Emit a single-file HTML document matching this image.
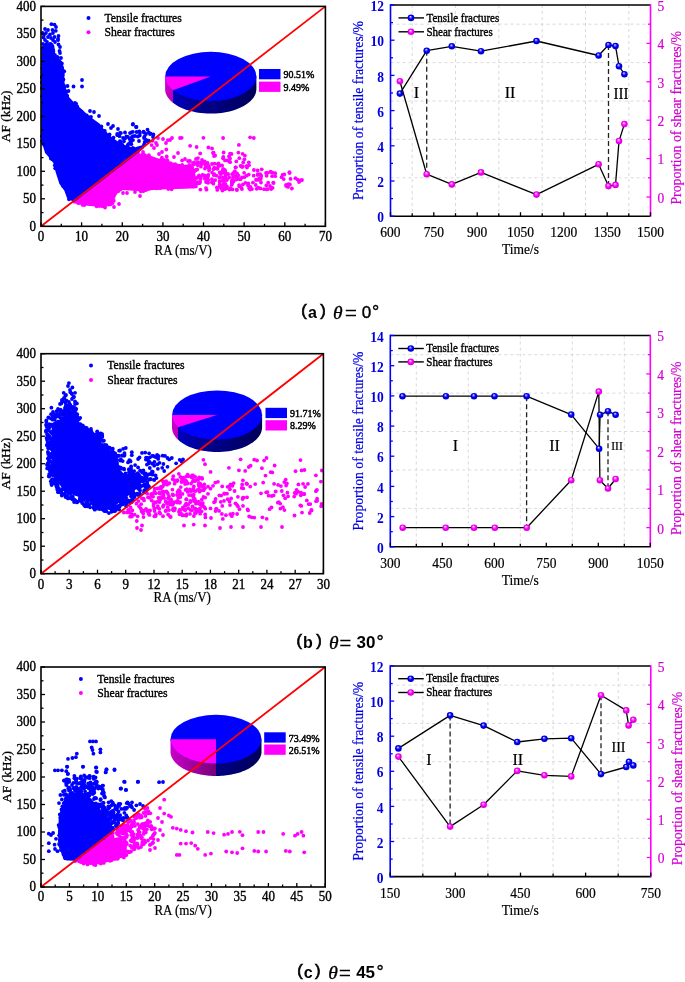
<!DOCTYPE html><html><head><meta charset="utf-8"><style>html,body{margin:0;padding:0;background:#fff;}body{width:685px;height:982px;overflow:hidden;} svg{display:block;will-change:transform;}</style></head><body><svg width="685" height="982" viewBox="0 0 685 982">
<defs>
<radialGradient id="ballb" cx="0.5" cy="0.5" r="0.5" fx="0.4" fy="0.3"><stop offset="0" stop-color="#ffffff"/><stop offset="0.25" stop-color="#7070ff"/><stop offset="0.55" stop-color="#0000ff"/><stop offset="1" stop-color="#0000c0"/></radialGradient>
<radialGradient id="ballm" cx="0.5" cy="0.5" r="0.5" fx="0.4" fy="0.3"><stop offset="0" stop-color="#ffffff"/><stop offset="0.25" stop-color="#ff80ff"/><stop offset="0.55" stop-color="#ff00ff"/><stop offset="1" stop-color="#d000d0"/></radialGradient>
<linearGradient id="pab" gradientUnits="userSpaceOnUse" x1="165.1" y1="0" x2="256.4" y2="0"><stop offset="0" stop-color="#0000c4"/><stop offset="0.45" stop-color="#000088"/><stop offset="1" stop-color="#00005a"/></linearGradient>
<linearGradient id="pam" gradientUnits="userSpaceOnUse" x1="165.1" y1="0" x2="210.8" y2="0"><stop offset="0" stop-color="#c800c8"/><stop offset="1" stop-color="#780078"/></linearGradient>
<linearGradient id="pbb" gradientUnits="userSpaceOnUse" x1="172" y1="0" x2="262.1" y2="0"><stop offset="0" stop-color="#0000c4"/><stop offset="0.45" stop-color="#000088"/><stop offset="1" stop-color="#00005a"/></linearGradient>
<linearGradient id="pbm" gradientUnits="userSpaceOnUse" x1="172" y1="0" x2="217.1" y2="0"><stop offset="0" stop-color="#c800c8"/><stop offset="1" stop-color="#780078"/></linearGradient>
<linearGradient id="pcb" gradientUnits="userSpaceOnUse" x1="170.5" y1="0" x2="261.5" y2="0"><stop offset="0" stop-color="#0000c4"/><stop offset="0.45" stop-color="#000088"/><stop offset="1" stop-color="#00005a"/></linearGradient>
<linearGradient id="pcm" gradientUnits="userSpaceOnUse" x1="170.5" y1="0" x2="216" y2="0"><stop offset="0" stop-color="#c800c8"/><stop offset="1" stop-color="#780078"/></linearGradient>
</defs>
<rect width="685" height="982" fill="#fff"/>
<polygon points="74,201.6 136,153.6 141,156.5 150,157.5 160,161 170,164 183,166.5 192,167 196,186.5 185,187 165,187.5 150,188.5 140,189.5 119,188 113,197 110.5,204.5 98.4,205 83.8,203.5 75,201.5" fill="#ff00ff" stroke="#ff00ff" stroke-width="3.6" stroke-linejoin="round"/>
<g fill="#ff00ff"><circle cx="155.8" cy="160.8" r="1.9"/><circle cx="144.9" cy="156.3" r="1.9"/><circle cx="144.1" cy="154.6" r="1.9"/><circle cx="160.9" cy="159.9" r="1.9"/><circle cx="164" cy="159.9" r="1.9"/><circle cx="153.1" cy="160.5" r="1.9"/><circle cx="169.6" cy="166.3" r="1.9"/><circle cx="145.1" cy="155.8" r="1.9"/><circle cx="146.7" cy="156.4" r="1.9"/><circle cx="180.9" cy="166.8" r="1.9"/><circle cx="172.7" cy="164.9" r="1.9"/><circle cx="142.2" cy="155.5" r="1.9"/><circle cx="175.1" cy="164.2" r="1.9"/><circle cx="170.3" cy="163.1" r="1.9"/><circle cx="182.2" cy="164.9" r="1.9"/><circle cx="170.1" cy="165.8" r="1.9"/><circle cx="176.9" cy="167.8" r="1.9"/><circle cx="146.7" cy="158.4" r="1.9"/><circle cx="148.9" cy="155.2" r="1.9"/><circle cx="176.1" cy="165.3" r="1.9"/><circle cx="184.6" cy="167.6" r="1.9"/><circle cx="171.4" cy="164" r="1.9"/><circle cx="185.8" cy="166.4" r="1.9"/><circle cx="172.5" cy="165.8" r="1.9"/><circle cx="176.1" cy="166.3" r="1.9"/><circle cx="155" cy="160.2" r="1.9"/><circle cx="142" cy="155" r="1.9"/><circle cx="145" cy="158.5" r="1.9"/><circle cx="146.5" cy="156.7" r="1.9"/><circle cx="183.3" cy="166.4" r="1.9"/><circle cx="120.4" cy="189.4" r="1.9"/><circle cx="90.3" cy="203.9" r="1.9"/><circle cx="143.3" cy="191.2" r="1.9"/><circle cx="165.5" cy="186.4" r="1.9"/><circle cx="156.8" cy="188.4" r="1.9"/><circle cx="151.3" cy="188" r="1.9"/><circle cx="140.8" cy="191.3" r="1.9"/><circle cx="111" cy="203.5" r="1.9"/><circle cx="109.7" cy="203" r="1.9"/><circle cx="102.7" cy="206.1" r="1.9"/><circle cx="137.3" cy="187.8" r="1.9"/><circle cx="111.5" cy="194.9" r="1.9"/><circle cx="158.5" cy="187.2" r="1.9"/><circle cx="176.7" cy="185.8" r="1.9"/><circle cx="172.2" cy="185.4" r="1.9"/><circle cx="90.4" cy="202.7" r="1.9"/><circle cx="154" cy="187.7" r="1.9"/><circle cx="171.6" cy="189.3" r="1.9"/><circle cx="128.8" cy="187" r="1.9"/><circle cx="172" cy="186.4" r="1.9"/><circle cx="94" cy="202.8" r="1.9"/><circle cx="80.9" cy="201.4" r="1.9"/><circle cx="117.7" cy="188.2" r="1.9"/><circle cx="79" cy="202.9" r="1.9"/><circle cx="153" cy="186.9" r="1.9"/><circle cx="102.3" cy="206" r="1.9"/><circle cx="144.2" cy="190.2" r="1.9"/><circle cx="78.2" cy="203.1" r="1.9"/><circle cx="97.6" cy="203.7" r="1.9"/><circle cx="122.1" cy="186.4" r="1.9"/><circle cx="180.7" cy="186.1" r="1.9"/><circle cx="112.7" cy="203.1" r="1.9"/><circle cx="84.4" cy="205" r="1.9"/><circle cx="140" cy="188.3" r="1.9"/><circle cx="160.1" cy="188.2" r="1.9"/><circle cx="88.2" cy="203.7" r="1.9"/><circle cx="113.6" cy="197.1" r="1.9"/><circle cx="113.8" cy="200.7" r="1.9"/><circle cx="104.8" cy="203.4" r="1.9"/><circle cx="99.5" cy="206.1" r="1.9"/><circle cx="77.9" cy="201.9" r="1.9"/><circle cx="82.2" cy="201.6" r="1.9"/><circle cx="168.3" cy="189" r="1.9"/><circle cx="96.6" cy="206.3" r="1.9"/><circle cx="77.9" cy="201.4" r="1.9"/><circle cx="117.5" cy="186.1" r="1.9"/><circle cx="79" cy="202.4" r="1.9"/><circle cx="82.5" cy="204.8" r="1.9"/><circle cx="94.5" cy="203.7" r="1.9"/><circle cx="148.6" cy="188.9" r="1.9"/><circle cx="153.4" cy="186.8" r="1.9"/><circle cx="85" cy="203.5" r="1.9"/><circle cx="118.3" cy="191.2" r="1.9"/><circle cx="84.7" cy="203.7" r="1.9"/><circle cx="120" cy="188" r="1.9"/><circle cx="218.4" cy="166" r="1.9"/><circle cx="206" cy="182" r="1.9"/><circle cx="209.1" cy="170.5" r="1.9"/><circle cx="207.7" cy="177.1" r="1.9"/><circle cx="217.8" cy="164.1" r="1.9"/><circle cx="209.3" cy="168.2" r="1.9"/><circle cx="198.5" cy="183.4" r="1.9"/><circle cx="207.3" cy="177.3" r="1.9"/><circle cx="216.9" cy="187.5" r="1.9"/><circle cx="204.8" cy="178.8" r="1.9"/><circle cx="207.2" cy="175.9" r="1.9"/><circle cx="214.3" cy="174.1" r="1.9"/><circle cx="208.3" cy="174.9" r="1.9"/><circle cx="223.8" cy="181.3" r="1.9"/><circle cx="221.3" cy="188.3" r="1.9"/><circle cx="197.9" cy="177.2" r="1.9"/><circle cx="223.8" cy="185.4" r="1.9"/><circle cx="193.2" cy="164.5" r="1.9"/><circle cx="204.8" cy="163.1" r="1.9"/><circle cx="197.1" cy="163.1" r="1.9"/><circle cx="213.4" cy="183.7" r="1.9"/><circle cx="222.1" cy="165.5" r="1.9"/><circle cx="215.2" cy="180.1" r="1.9"/><circle cx="193.4" cy="186.6" r="1.9"/><circle cx="224.2" cy="172.5" r="1.9"/><circle cx="206.5" cy="189.7" r="1.9"/><circle cx="219.6" cy="165.7" r="1.9"/><circle cx="204.4" cy="176" r="1.9"/><circle cx="200.9" cy="166.7" r="1.9"/><circle cx="200.1" cy="181.9" r="1.9"/><circle cx="188.7" cy="177.1" r="1.9"/><circle cx="204.7" cy="161.5" r="1.9"/><circle cx="200.6" cy="179.1" r="1.9"/><circle cx="207.5" cy="162.9" r="1.9"/><circle cx="225.4" cy="183.9" r="1.9"/><circle cx="198.1" cy="162.1" r="1.9"/><circle cx="217.6" cy="168.8" r="1.9"/><circle cx="192.9" cy="173.2" r="1.9"/><circle cx="222.6" cy="184.8" r="1.9"/><circle cx="197.8" cy="165.3" r="1.9"/><circle cx="222.9" cy="177.5" r="1.9"/><circle cx="214.6" cy="163.6" r="1.9"/><circle cx="190.2" cy="181" r="1.9"/><circle cx="204.2" cy="163.1" r="1.9"/><circle cx="223.7" cy="179.4" r="1.9"/><circle cx="218.5" cy="163.4" r="1.9"/><circle cx="220.8" cy="174.2" r="1.9"/><circle cx="200.9" cy="177" r="1.9"/><circle cx="223.2" cy="168.8" r="1.9"/><circle cx="192.9" cy="176.3" r="1.9"/><circle cx="197.1" cy="164.2" r="1.9"/><circle cx="194.1" cy="162.5" r="1.9"/><circle cx="195.7" cy="170" r="1.9"/><circle cx="199.6" cy="183" r="1.9"/><circle cx="199" cy="175.5" r="1.9"/><circle cx="194.8" cy="171.1" r="1.9"/><circle cx="188.7" cy="168.3" r="1.9"/><circle cx="188.6" cy="182.3" r="1.9"/><circle cx="208.9" cy="166.5" r="1.9"/><circle cx="206" cy="188.1" r="1.9"/><circle cx="192" cy="184.7" r="1.9"/><circle cx="204.4" cy="175.4" r="1.9"/><circle cx="219.7" cy="172.4" r="1.9"/><circle cx="207.3" cy="180.9" r="1.9"/><circle cx="225.3" cy="170.9" r="1.9"/><circle cx="219.6" cy="181.5" r="1.9"/><circle cx="212.2" cy="172.7" r="1.9"/><circle cx="201.2" cy="162.6" r="1.9"/><circle cx="192.9" cy="163.1" r="1.9"/><circle cx="216.2" cy="168.4" r="1.9"/><circle cx="194.2" cy="163.5" r="1.9"/><circle cx="220" cy="186.2" r="1.9"/><circle cx="213.5" cy="169.2" r="1.9"/><circle cx="197.2" cy="169.5" r="1.9"/><circle cx="205.5" cy="165.6" r="1.9"/><circle cx="204.9" cy="168.6" r="1.9"/><circle cx="224.5" cy="189.2" r="1.9"/><circle cx="208.8" cy="168.1" r="1.9"/><circle cx="224.7" cy="170" r="1.9"/><circle cx="202.5" cy="174.8" r="1.9"/><circle cx="207.1" cy="166.8" r="1.9"/><circle cx="198" cy="163.6" r="1.9"/><circle cx="203.2" cy="162.2" r="1.9"/><circle cx="188.9" cy="169.8" r="1.9"/><circle cx="196.8" cy="178" r="1.9"/><circle cx="208.1" cy="182.8" r="1.9"/><circle cx="213" cy="181.8" r="1.9"/><circle cx="221.4" cy="172.3" r="1.9"/><circle cx="200.4" cy="189.6" r="1.9"/><circle cx="193.7" cy="182" r="1.9"/><circle cx="219.7" cy="186.9" r="1.9"/><circle cx="211.8" cy="182.3" r="1.9"/><circle cx="218.9" cy="165" r="1.9"/><circle cx="207.9" cy="175.6" r="1.9"/><circle cx="219.7" cy="184.3" r="1.9"/><circle cx="219.4" cy="177.9" r="1.9"/><circle cx="221.9" cy="180.8" r="1.9"/><circle cx="214.3" cy="167.7" r="1.9"/><circle cx="189.2" cy="164.9" r="1.9"/><circle cx="201.7" cy="164" r="1.9"/><circle cx="219.8" cy="177.2" r="1.9"/><circle cx="211.9" cy="179.2" r="1.9"/><circle cx="213.9" cy="175.2" r="1.9"/><circle cx="188.1" cy="184.1" r="1.9"/><circle cx="216.4" cy="175.6" r="1.9"/><circle cx="208.3" cy="180.1" r="1.9"/><circle cx="190.5" cy="182.4" r="1.9"/><circle cx="197.6" cy="163.2" r="1.9"/><circle cx="198.1" cy="182.2" r="1.9"/><circle cx="195.8" cy="182.5" r="1.9"/><circle cx="259.1" cy="179.9" r="1.9"/><circle cx="236.5" cy="179.6" r="1.9"/><circle cx="248" cy="185.3" r="1.9"/><circle cx="245.4" cy="182.9" r="1.9"/><circle cx="224.9" cy="172.9" r="1.9"/><circle cx="231.6" cy="184.9" r="1.9"/><circle cx="233.6" cy="181.4" r="1.9"/><circle cx="222.5" cy="171.2" r="1.9"/><circle cx="232.2" cy="183.4" r="1.9"/><circle cx="248.3" cy="183.5" r="1.9"/><circle cx="233.1" cy="180.3" r="1.9"/><circle cx="239.7" cy="179.3" r="1.9"/><circle cx="226.5" cy="187.9" r="1.9"/><circle cx="229.6" cy="189.6" r="1.9"/><circle cx="257.6" cy="170.4" r="1.9"/><circle cx="239.4" cy="186.4" r="1.9"/><circle cx="258.8" cy="179" r="1.9"/><circle cx="232.2" cy="174.2" r="1.9"/><circle cx="257.9" cy="174.2" r="1.9"/><circle cx="244.1" cy="172.8" r="1.9"/><circle cx="241.9" cy="189.1" r="1.9"/><circle cx="227" cy="186.4" r="1.9"/><circle cx="241.3" cy="187.7" r="1.9"/><circle cx="248.7" cy="174.6" r="1.9"/><circle cx="256.1" cy="179.7" r="1.9"/><circle cx="222.9" cy="170.1" r="1.9"/><circle cx="240.7" cy="179" r="1.9"/><circle cx="233.5" cy="172.8" r="1.9"/><circle cx="235.1" cy="176.3" r="1.9"/><circle cx="253.9" cy="170" r="1.9"/><circle cx="250.5" cy="186.8" r="1.9"/><circle cx="226.6" cy="188.5" r="1.9"/><circle cx="249.1" cy="188" r="1.9"/><circle cx="233" cy="177.4" r="1.9"/><circle cx="236.9" cy="190" r="1.9"/><circle cx="244.4" cy="177.2" r="1.9"/><circle cx="238.3" cy="175.5" r="1.9"/><circle cx="223.8" cy="172" r="1.9"/><circle cx="253.7" cy="175.7" r="1.9"/><circle cx="257.6" cy="175" r="1.9"/><circle cx="232.1" cy="180.2" r="1.9"/><circle cx="229.2" cy="177.5" r="1.9"/><circle cx="258.3" cy="187.7" r="1.9"/><circle cx="252.9" cy="182.6" r="1.9"/><circle cx="256.7" cy="188.8" r="1.9"/><circle cx="242.9" cy="184.4" r="1.9"/><circle cx="223.9" cy="184.6" r="1.9"/><circle cx="239.1" cy="185.1" r="1.9"/><circle cx="246.5" cy="175.7" r="1.9"/><circle cx="223.9" cy="188.5" r="1.9"/><circle cx="226.8" cy="179.4" r="1.9"/><circle cx="235.1" cy="176" r="1.9"/><circle cx="250.1" cy="189.5" r="1.9"/><circle cx="231.9" cy="183.1" r="1.9"/><circle cx="233.4" cy="181.1" r="1.9"/><circle cx="237" cy="173.3" r="1.9"/><circle cx="228.1" cy="174.2" r="1.9"/><circle cx="256.4" cy="179.9" r="1.9"/><circle cx="230.4" cy="188.1" r="1.9"/><circle cx="259.9" cy="179" r="1.9"/><circle cx="227.3" cy="173.8" r="1.9"/><circle cx="225.4" cy="176.8" r="1.9"/><circle cx="225.5" cy="174.8" r="1.9"/><circle cx="231.8" cy="181.4" r="1.9"/><circle cx="255.7" cy="185" r="1.9"/><circle cx="237.7" cy="178.3" r="1.9"/><circle cx="241.9" cy="177.5" r="1.9"/><circle cx="234.9" cy="171.2" r="1.9"/><circle cx="232.5" cy="189.4" r="1.9"/><circle cx="226.8" cy="180.1" r="1.9"/><circle cx="240.6" cy="165.8" r="1.9"/><circle cx="229" cy="156.3" r="1.9"/><circle cx="230" cy="158.4" r="1.9"/><circle cx="235.5" cy="167.3" r="1.9"/><circle cx="246.8" cy="166" r="1.9"/><circle cx="223.6" cy="152.5" r="1.9"/><circle cx="242.9" cy="166.3" r="1.9"/><circle cx="236.3" cy="161.4" r="1.9"/><circle cx="223" cy="158.3" r="1.9"/><circle cx="249" cy="165.2" r="1.9"/><circle cx="247" cy="167.6" r="1.9"/><circle cx="230" cy="153.7" r="1.9"/><circle cx="227.3" cy="160.4" r="1.9"/><circle cx="242.1" cy="167.1" r="1.9"/><circle cx="243.2" cy="162.4" r="1.9"/><circle cx="244.4" cy="159.3" r="1.9"/><circle cx="238.4" cy="152.6" r="1.9"/><circle cx="244.9" cy="155.7" r="1.9"/><circle cx="248.8" cy="162.3" r="1.9"/><circle cx="231.5" cy="154" r="1.9"/><circle cx="230.1" cy="162.2" r="1.9"/><circle cx="242.6" cy="153.8" r="1.9"/><circle cx="225" cy="160.4" r="1.9"/><circle cx="239.3" cy="158.2" r="1.9"/><circle cx="229.3" cy="161.6" r="1.9"/><circle cx="223.3" cy="156.8" r="1.9"/><circle cx="235.9" cy="167.3" r="1.9"/><circle cx="241" cy="166.1" r="1.9"/><circle cx="275.2" cy="173.2" r="1.9"/><circle cx="267.9" cy="189.1" r="1.9"/><circle cx="282.5" cy="174.8" r="1.9"/><circle cx="260.7" cy="179" r="1.9"/><circle cx="281.6" cy="177.2" r="1.9"/><circle cx="268.2" cy="182.7" r="1.9"/><circle cx="289.6" cy="173" r="1.9"/><circle cx="261.1" cy="175.4" r="1.9"/><circle cx="273.5" cy="183" r="1.9"/><circle cx="266.3" cy="185.5" r="1.9"/><circle cx="283.7" cy="179.1" r="1.9"/><circle cx="266.6" cy="189.3" r="1.9"/><circle cx="270" cy="186" r="1.9"/><circle cx="267.4" cy="172.9" r="1.9"/><circle cx="284.3" cy="174.5" r="1.9"/><circle cx="290.5" cy="178.9" r="1.9"/><circle cx="266" cy="172.9" r="1.9"/><circle cx="273.3" cy="182.6" r="1.9"/><circle cx="272.6" cy="172.7" r="1.9"/><circle cx="261.7" cy="169.3" r="1.9"/><circle cx="272.6" cy="187.8" r="1.9"/><circle cx="288.3" cy="184.1" r="1.9"/><circle cx="291.9" cy="188.5" r="1.9"/><circle cx="270.5" cy="172.1" r="1.9"/><circle cx="289.9" cy="184.4" r="1.9"/><circle cx="261" cy="182.6" r="1.9"/><circle cx="272.1" cy="176.2" r="1.9"/><circle cx="270.6" cy="171.7" r="1.9"/><circle cx="260.1" cy="174.2" r="1.9"/><circle cx="271.2" cy="189" r="1.9"/><circle cx="264" cy="189.2" r="1.9"/><circle cx="266.6" cy="175.8" r="1.9"/><circle cx="286.3" cy="186.1" r="1.9"/><circle cx="275.2" cy="176.2" r="1.9"/><circle cx="289.4" cy="172.2" r="1.9"/><circle cx="271.7" cy="187.7" r="1.9"/><circle cx="261" cy="177" r="1.9"/><circle cx="286" cy="184.9" r="1.9"/><circle cx="152.6" cy="140.8" r="1.9"/><circle cx="166.7" cy="156.4" r="1.9"/><circle cx="208.4" cy="147.5" r="1.9"/><circle cx="167.7" cy="161.1" r="1.9"/><circle cx="190.1" cy="145.8" r="1.9"/><circle cx="196.6" cy="147" r="1.9"/><circle cx="167.9" cy="140.1" r="1.9"/><circle cx="151.6" cy="145.1" r="1.9"/><circle cx="212" cy="148.5" r="1.9"/><circle cx="166.3" cy="149.5" r="1.9"/><circle cx="182.1" cy="160.4" r="1.9"/><circle cx="161.9" cy="157.7" r="1.9"/><circle cx="198" cy="158.1" r="1.9"/><circle cx="200.2" cy="153.4" r="1.9"/><circle cx="223.1" cy="138" r="1.9"/><circle cx="250.1" cy="137.3" r="1.9"/><circle cx="253.8" cy="138" r="1.9"/><circle cx="238.9" cy="144.9" r="1.9"/><circle cx="213.6" cy="152.6" r="1.9"/><circle cx="215.1" cy="155.5" r="1.9"/><circle cx="181.7" cy="137.8" r="1.9"/><circle cx="203.4" cy="137.8" r="1.9"/><circle cx="297.6" cy="179.6" r="1.9"/><circle cx="300.5" cy="180.4" r="1.9"/><circle cx="295.4" cy="178.2" r="1.9"/><circle cx="299" cy="182" r="1.9"/><circle cx="302" cy="180" r="1.9"/><circle cx="288.1" cy="186.9" r="1.9"/><circle cx="222.4" cy="190.6" r="1.9"/><circle cx="217.3" cy="189.9" r="1.9"/><circle cx="236.7" cy="189.6" r="1.9"/><circle cx="252" cy="189.1" r="1.9"/><circle cx="260.4" cy="188.4" r="1.9"/><circle cx="123" cy="193" r="1.9"/><circle cx="127" cy="193" r="1.9"/><circle cx="135" cy="192" r="1.9"/><circle cx="140" cy="196" r="1.9"/><circle cx="146" cy="190" r="1.9"/><circle cx="142" cy="188" r="1.9"/><circle cx="114" cy="207" r="1.9"/><circle cx="119" cy="204" r="1.9"/><circle cx="105" cy="207.5" r="1.9"/><circle cx="158" cy="138" r="1.9"/><circle cx="163" cy="139" r="1.9"/><circle cx="170" cy="140" r="1.9"/><circle cx="172" cy="138" r="1.9"/><circle cx="180" cy="138" r="1.9"/><circle cx="156" cy="143" r="1.9"/><circle cx="166" cy="143" r="1.9"/><circle cx="154" cy="148" r="1.9"/><circle cx="162" cy="152" r="1.9"/><circle cx="178" cy="153" r="1.9"/><circle cx="174" cy="157" r="1.9"/><circle cx="185" cy="159" r="1.9"/><circle cx="188" cy="161" r="1.9"/><circle cx="190" cy="161" r="1.9"/><circle cx="213" cy="153" r="1.9"/><circle cx="214" cy="156" r="1.9"/><circle cx="167" cy="160" r="1.9"/><circle cx="159" cy="154" r="1.9"/><circle cx="157" cy="145" r="1.9"/><circle cx="143" cy="152" r="1.9"/><circle cx="138" cy="153" r="1.9"/><circle cx="196" cy="159" r="1.9"/><circle cx="202" cy="160" r="1.9"/><circle cx="208" cy="165" r="1.9"/><circle cx="212" cy="164" r="1.9"/><circle cx="194" cy="164" r="1.9"/></g>
<polygon points="43,50 47,46 51,44 52.5,46 53,52 53.5,56 57,59.5 60.5,62.5 62,68 62.5,75 63,89 66.5,97 72,103 80,110 88,117.5 97,124 103,131 110,138 118,144 126,147.5 134,149.5 142.5,147 74,200 68.5,197 66,190 61,183 57.5,172 55,162 46.5,151.5 43,140" fill="#0000ff" stroke="#0000ff" stroke-width="3.6" stroke-linejoin="round"/>
<g fill="#0000ff"><circle cx="62" cy="80.2" r="1.9"/><circle cx="103.6" cy="132.1" r="1.9"/><circle cx="101.1" cy="128.2" r="1.9"/><circle cx="46.9" cy="45.6" r="1.9"/><circle cx="132.6" cy="150.7" r="1.9"/><circle cx="60.6" cy="69.4" r="1.9"/><circle cx="73.8" cy="103.6" r="1.9"/><circle cx="61.2" cy="66.8" r="1.9"/><circle cx="94.5" cy="122.9" r="1.9"/><circle cx="90.8" cy="122" r="1.9"/><circle cx="62.8" cy="75" r="1.9"/><circle cx="99.4" cy="127.2" r="1.9"/><circle cx="60.6" cy="69.5" r="1.9"/><circle cx="81.5" cy="111.6" r="1.9"/><circle cx="132.9" cy="148.1" r="1.9"/><circle cx="108.7" cy="138.1" r="1.9"/><circle cx="52.7" cy="50.5" r="1.9"/><circle cx="113.5" cy="137.6" r="1.9"/><circle cx="61" cy="74.2" r="1.9"/><circle cx="130.3" cy="150.2" r="1.9"/><circle cx="64.4" cy="87.4" r="1.9"/><circle cx="63.3" cy="72" r="1.9"/><circle cx="53.2" cy="50.2" r="1.9"/><circle cx="60.3" cy="62.4" r="1.9"/><circle cx="59" cy="62.4" r="1.9"/><circle cx="89.5" cy="117.5" r="1.9"/><circle cx="63.4" cy="79.4" r="1.9"/><circle cx="61.4" cy="79.5" r="1.9"/><circle cx="77" cy="107.3" r="1.9"/><circle cx="64.1" cy="91.5" r="1.9"/><circle cx="51.3" cy="48.2" r="1.9"/><circle cx="63.9" cy="92.3" r="1.9"/><circle cx="126.2" cy="148" r="1.9"/><circle cx="62.5" cy="86.7" r="1.9"/><circle cx="132.9" cy="148.2" r="1.9"/><circle cx="98.4" cy="125.1" r="1.9"/><circle cx="119.3" cy="146" r="1.9"/><circle cx="66.1" cy="92.4" r="1.9"/><circle cx="53.3" cy="57.9" r="1.9"/><circle cx="91" cy="116.8" r="1.9"/><circle cx="86.6" cy="116.7" r="1.9"/><circle cx="52.6" cy="56" r="1.9"/><circle cx="121.4" cy="146.1" r="1.9"/><circle cx="109.6" cy="134.5" r="1.9"/><circle cx="54.9" cy="54.8" r="1.9"/><circle cx="69.4" cy="103.8" r="1.9"/><circle cx="65" cy="90.4" r="1.9"/><circle cx="108.5" cy="139" r="1.9"/><circle cx="60.7" cy="65.9" r="1.9"/><circle cx="109.2" cy="137.2" r="1.9"/><circle cx="64.2" cy="91.1" r="1.9"/><circle cx="52" cy="53.3" r="1.9"/><circle cx="117.2" cy="144.7" r="1.9"/><circle cx="100.7" cy="131.9" r="1.9"/><circle cx="53.4" cy="51.8" r="1.9"/><circle cx="86.9" cy="116.9" r="1.9"/><circle cx="82.3" cy="113.1" r="1.9"/><circle cx="67.2" cy="96.1" r="1.9"/><circle cx="86.7" cy="115.3" r="1.9"/><circle cx="104.3" cy="131.1" r="1.9"/><circle cx="57" cy="58" r="1.9"/><circle cx="52.9" cy="51.6" r="1.9"/><circle cx="67" cy="95.6" r="1.9"/><circle cx="87.1" cy="119" r="1.9"/><circle cx="104.8" cy="131" r="1.9"/><circle cx="73.1" cy="106.2" r="1.9"/><circle cx="54.7" cy="56.4" r="1.9"/><circle cx="101.3" cy="126.3" r="1.9"/><circle cx="131.2" cy="150.6" r="1.9"/><circle cx="120.3" cy="146.8" r="1.9"/><circle cx="122" cy="145.9" r="1.9"/><circle cx="101.1" cy="132" r="1.9"/><circle cx="63.6" cy="71.1" r="1.9"/><circle cx="75" cy="103" r="1.9"/><circle cx="62.2" cy="70" r="1.9"/><circle cx="45.8" cy="44.6" r="1.9"/><circle cx="125.3" cy="148.4" r="1.9"/><circle cx="57.1" cy="56.9" r="1.9"/><circle cx="77.2" cy="106.5" r="1.9"/><circle cx="116.1" cy="142.7" r="1.9"/><circle cx="115.5" cy="145.3" r="1.9"/><circle cx="87.5" cy="118.7" r="1.9"/><circle cx="64.2" cy="71.3" r="1.9"/><circle cx="63.9" cy="85.5" r="1.9"/><circle cx="57.8" cy="57.5" r="1.9"/><circle cx="108.4" cy="137.9" r="1.9"/><circle cx="132" cy="149.6" r="1.9"/><circle cx="60.6" cy="76.5" r="1.9"/><circle cx="54.3" cy="56" r="1.9"/><circle cx="76.2" cy="103.8" r="1.9"/><circle cx="61.9" cy="63.4" r="1.9"/><circle cx="42.7" cy="48.1" r="1.9"/><circle cx="61.8" cy="85.6" r="1.9"/><circle cx="82.2" cy="113.7" r="1.9"/><circle cx="68.9" cy="103" r="1.9"/><circle cx="60.5" cy="66.1" r="1.9"/><circle cx="90.5" cy="119.4" r="1.9"/><circle cx="63.3" cy="90" r="1.9"/><circle cx="90.1" cy="118.2" r="1.9"/><circle cx="89.7" cy="120.7" r="1.9"/><circle cx="99.2" cy="129.3" r="1.9"/><circle cx="48.2" cy="45.1" r="1.9"/><circle cx="59.9" cy="68" r="1.9"/><circle cx="44.6" cy="50.4" r="1.9"/><circle cx="52.2" cy="55.8" r="1.9"/><circle cx="74.5" cy="105.9" r="1.9"/><circle cx="55.8" cy="58.3" r="1.9"/><circle cx="50.2" cy="46.3" r="1.9"/><circle cx="96.4" cy="127" r="1.9"/><circle cx="101.2" cy="130" r="1.9"/><circle cx="42.1" cy="136.2" r="1.9"/><circle cx="55.2" cy="168.3" r="1.9"/><circle cx="43.6" cy="91.1" r="1.9"/><circle cx="42.3" cy="96.2" r="1.9"/><circle cx="43.9" cy="140.1" r="1.9"/><circle cx="55.9" cy="165.2" r="1.9"/><circle cx="58.5" cy="169.7" r="1.9"/><circle cx="54.8" cy="165.3" r="1.9"/><circle cx="43.8" cy="58.3" r="1.9"/><circle cx="42.5" cy="68.3" r="1.9"/><circle cx="43.4" cy="65.4" r="1.9"/><circle cx="44.5" cy="103.4" r="1.9"/><circle cx="43.6" cy="76.7" r="1.9"/><circle cx="43.7" cy="140.1" r="1.9"/><circle cx="50.9" cy="158.5" r="1.9"/><circle cx="67.7" cy="190.1" r="1.9"/><circle cx="69" cy="199.3" r="1.9"/><circle cx="47" cy="152" r="1.9"/><circle cx="69" cy="197.1" r="1.9"/><circle cx="43.8" cy="97" r="1.9"/><circle cx="42.6" cy="116.4" r="1.9"/><circle cx="44.3" cy="77.4" r="1.9"/><circle cx="44.3" cy="72.5" r="1.9"/><circle cx="63.1" cy="186" r="1.9"/><circle cx="70.3" cy="198.4" r="1.9"/><circle cx="44" cy="108.8" r="1.9"/><circle cx="52.6" cy="159.4" r="1.9"/><circle cx="42.1" cy="88.2" r="1.9"/><circle cx="42.1" cy="141.1" r="1.9"/><circle cx="55.1" cy="160.8" r="1.9"/><circle cx="52" cy="156.5" r="1.9"/><circle cx="43.4" cy="72.2" r="1.9"/><circle cx="43.9" cy="144.5" r="1.9"/><circle cx="48.6" cy="153.4" r="1.9"/><circle cx="58.5" cy="170" r="1.9"/><circle cx="41.9" cy="77.2" r="1.9"/><circle cx="58.8" cy="175" r="1.9"/><circle cx="73.4" cy="199.6" r="1.9"/><circle cx="42" cy="82.4" r="1.9"/><circle cx="49" cy="152.5" r="1.9"/><circle cx="51.4" cy="24.2" r="1.9"/><circle cx="54.5" cy="24.6" r="1.9"/><circle cx="52.5" cy="29.9" r="1.9"/><circle cx="55.8" cy="30.8" r="1.9"/><circle cx="54.5" cy="37" r="1.9"/><circle cx="44" cy="35.1" r="1.9"/><circle cx="46" cy="33" r="1.9"/><circle cx="43.5" cy="37.5" r="1.9"/><circle cx="50" cy="34.5" r="1.9"/><circle cx="58.5" cy="36" r="1.9"/><circle cx="58.5" cy="44.5" r="1.9"/><circle cx="59.5" cy="51" r="1.9"/><circle cx="60" cy="53" r="1.9"/><circle cx="59" cy="61" r="1.9"/><circle cx="61" cy="58" r="1.9"/><circle cx="62" cy="68" r="1.9"/><circle cx="58" cy="39" r="1.9"/><circle cx="60" cy="47" r="1.9"/><circle cx="48" cy="30" r="1.9"/><circle cx="45" cy="29" r="1.9"/><circle cx="56" cy="27" r="1.9"/><circle cx="53" cy="33" r="1.9"/><circle cx="58" cy="40" r="1.9"/><circle cx="45" cy="40" r="1.9"/><circle cx="51" cy="38" r="1.9"/><circle cx="43" cy="44" r="1.9"/><circle cx="47" cy="42" r="1.9"/><circle cx="50" cy="44" r="1.9"/><circle cx="53" cy="40" r="1.9"/><circle cx="55" cy="42" r="1.9"/><circle cx="44" cy="47" r="1.9"/><circle cx="48" cy="37" r="1.9"/><circle cx="42.5" cy="33" r="1.9"/><circle cx="67.5" cy="86" r="1.9"/><circle cx="73.5" cy="86.5" r="1.9"/><circle cx="82" cy="80" r="1.9"/><circle cx="82" cy="86.5" r="1.9"/><circle cx="68.5" cy="91" r="1.9"/><circle cx="90" cy="111" r="1.9"/><circle cx="94" cy="112" r="1.9"/><circle cx="99" cy="116" r="1.9"/><circle cx="108" cy="124" r="1.9"/><circle cx="111" cy="128" r="1.9"/><circle cx="120" cy="133" r="1.9"/><circle cx="123" cy="138" r="1.9"/><circle cx="132" cy="137" r="1.9"/><circle cx="135" cy="136" r="1.9"/><circle cx="133" cy="124" r="1.9"/><circle cx="136" cy="127" r="1.9"/><circle cx="132.8" cy="124.6" r="1.9"/><circle cx="136.5" cy="127" r="1.9"/><circle cx="147.5" cy="129.7" r="1.9"/><circle cx="140" cy="133" r="1.9"/><circle cx="144" cy="138" r="1.9"/><circle cx="148" cy="141" r="1.9"/><circle cx="128" cy="137" r="1.9"/><circle cx="118" cy="129" r="1.9"/><circle cx="113" cy="126" r="1.9"/><circle cx="150" cy="134" r="1.9"/><circle cx="153" cy="137" r="1.9"/><circle cx="146" cy="134" r="1.9"/><circle cx="139" cy="141" r="1.9"/><circle cx="131" cy="142" r="1.9"/><circle cx="153.4" cy="134.5" r="1.9"/><circle cx="119.9" cy="141.2" r="1.9"/><circle cx="132.9" cy="131.8" r="1.9"/><circle cx="139.3" cy="131.3" r="1.9"/><circle cx="146.2" cy="141.2" r="1.9"/><circle cx="146.2" cy="140" r="1.9"/><circle cx="126.4" cy="136.4" r="1.9"/><circle cx="128.2" cy="144.2" r="1.9"/><circle cx="122.1" cy="144.4" r="1.9"/><circle cx="133.1" cy="136.1" r="1.9"/><circle cx="150.7" cy="133.7" r="1.9"/><circle cx="131.2" cy="138.5" r="1.9"/><circle cx="144.7" cy="142" r="1.9"/><circle cx="139.7" cy="135.6" r="1.9"/><circle cx="125" cy="132.5" r="1.9"/><circle cx="148.8" cy="140.6" r="1.9"/><circle cx="144.1" cy="132.7" r="1.9"/><circle cx="130.2" cy="142.4" r="1.9"/><circle cx="136.6" cy="132" r="1.9"/><circle cx="131.3" cy="144.2" r="1.9"/><circle cx="120.9" cy="133.1" r="1.9"/><circle cx="123.9" cy="141.3" r="1.9"/><circle cx="148.8" cy="132.5" r="1.9"/><circle cx="117.2" cy="134" r="1.9"/><circle cx="125" cy="138.4" r="1.9"/><circle cx="117.4" cy="135.2" r="1.9"/><circle cx="143.5" cy="131.6" r="1.9"/><circle cx="127.7" cy="145.7" r="1.9"/><circle cx="146.6" cy="141.7" r="1.9"/><circle cx="130" cy="133.1" r="1.9"/><circle cx="139.3" cy="131.7" r="1.9"/><circle cx="119.5" cy="136.2" r="1.9"/><circle cx="146.4" cy="141.1" r="1.9"/><circle cx="133" cy="140.1" r="1.9"/><circle cx="131.3" cy="132.3" r="1.9"/><circle cx="137.8" cy="136.5" r="1.9"/><circle cx="144.1" cy="144.5" r="1.9"/><circle cx="129.8" cy="139.2" r="1.9"/><circle cx="144.5" cy="136.7" r="1.9"/><circle cx="120.5" cy="141.6" r="1.9"/></g>
<path d="M165.1,74.4 L165.1,74.8 L165.1,75.1 L165.1,75.5 L165.2,75.9 L165.2,76.2 L165.3,76.6 L165.3,77 L165.4,77.3 L165.5,77.7 L165.6,78.1 L165.7,78.4 L165.8,78.8 L166,79.1 L166.1,79.5 L166.2,79.9 L166.4,80.2 L166.6,80.6 L166.7,80.9 L166.9,81.3 L167.1,81.6 L167.3,82 L167.5,82.3 L167.8,82.7 L168,83 L168.2,83.4 L168.5,83.7 L168.7,84 L169,84.4 L169.3,84.7 L169.6,85 L169.9,85.4 L170.2,85.7 L170.5,86 L170.8,86.3 L171.2,86.7 L171.5,87 L171.9,87.3 L172.2,87.6 L172.6,87.9 L173,88.2 L173,102.8 L172.6,102.5 L172.2,102.2 L171.9,101.9 L171.5,101.6 L171.2,101.3 L170.8,100.9 L170.5,100.6 L170.2,100.3 L169.9,100 L169.6,99.6 L169.3,99.3 L169,99 L168.7,98.6 L168.5,98.3 L168.2,98 L168,97.6 L167.8,97.3 L167.5,96.9 L167.3,96.6 L167.1,96.2 L166.9,95.9 L166.7,95.5 L166.6,95.2 L166.4,94.8 L166.2,94.5 L166.1,94.1 L166,93.7 L165.8,93.4 L165.7,93 L165.6,92.7 L165.5,92.3 L165.4,91.9 L165.3,91.6 L165.3,91.2 L165.2,90.8 L165.2,90.5 L165.1,90.1 L165.1,89.7 L165.1,89.4 L165.1,89Z" fill="url(#pam)"/>
<path d="M173,88.2 L174.7,89.5 L176.5,90.7 L178.5,91.8 L180.6,92.9 L182.9,93.9 L185.2,94.8 L187.7,95.6 L190.3,96.4 L192.9,97 L195.6,97.6 L198.4,98.1 L201.2,98.5 L204.1,98.7 L206.9,98.9 L209.8,99 L212.7,99 L215.6,98.9 L218.5,98.6 L221.4,98.3 L224.2,97.9 L226.9,97.4 L229.6,96.8 L232.2,96.1 L234.7,95.3 L237.1,94.5 L239.5,93.5 L241.7,92.5 L243.7,91.4 L245.7,90.2 L247.5,89 L249.1,87.7 L250.6,86.4 L251.9,85 L253.1,83.6 L254.1,82.1 L254.9,80.6 L255.6,79.1 L256,77.5 L256.3,76 L256.4,74.4 L256.4,89 L256.3,90.6 L256,92.1 L255.6,93.7 L254.9,95.2 L254.1,96.7 L253.1,98.2 L251.9,99.6 L250.6,101 L249.1,102.3 L247.5,103.6 L245.7,104.8 L243.7,106 L241.7,107.1 L239.5,108.1 L237.1,109.1 L234.7,109.9 L232.2,110.7 L229.6,111.4 L226.9,112 L224.2,112.5 L221.4,112.9 L218.5,113.2 L215.6,113.5 L212.7,113.6 L209.8,113.6 L206.9,113.5 L204.1,113.3 L201.2,113.1 L198.4,112.7 L195.6,112.2 L192.9,111.6 L190.3,111 L187.7,110.2 L185.2,109.4 L182.9,108.5 L180.6,107.5 L178.5,106.4 L176.5,105.3 L174.7,104.1 L173,102.8Z" fill="url(#pab)"/>
<ellipse cx="210.8" cy="76.4" rx="45.6" ry="24.6" fill="#0000ff"/>
<path d="M210.8,76.4 L165.1,76.4 A45.6,24.6 0 0 0 173,90.2 Z" fill="#ff00ff"/>
<line x1="41" y1="226.3" x2="325.4" y2="6.4" stroke="#ff0000" stroke-width="1.8"/>
<rect x="259" y="69" width="21.5" height="10.3" fill="#0000ff"/>
<rect x="259" y="81.6" width="21.5" height="10.3" fill="#ff00ff"/>
<text x="283.5" y="78.3" font-size="10" text-anchor="start" font-weight="normal" fill="#000" font-family="'Liberation Serif', serif" stroke="#000" stroke-width="0.45" transform="matrix(1 0 0 1.1 0 -7.8)">90.51%</text>
<text x="283.5" y="90.9" font-size="10" text-anchor="start" font-weight="normal" fill="#000" font-family="'Liberation Serif', serif" stroke="#000" stroke-width="0.45" transform="matrix(1 0 0 1.1 0 -9.1)">9.49%</text>
<circle cx="88.5" cy="17.9" r="2" fill="#0000ff"/>
<circle cx="88.5" cy="32.2" r="2" fill="#ff00ff"/>
<text x="104.5" y="21.7" font-size="11.7" text-anchor="start" font-weight="normal" fill="#000" font-family="'Liberation Serif', serif" stroke="#000" stroke-width="0.35" transform="matrix(1 0 0 1.1 0 -2.2)">Tensile fractures</text>
<text x="104.5" y="36" font-size="11.7" text-anchor="start" font-weight="normal" fill="#000" font-family="'Liberation Serif', serif" stroke="#000" stroke-width="0.35" transform="matrix(1 0 0 1.1 0 -3.6)">Shear fractures</text>
<rect x="41" y="6.4" width="284.4" height="219.9" fill="none" stroke="#000" stroke-width="1.6"/>
<line x1="41" y1="226.3" x2="45" y2="226.3" stroke="#000" stroke-width="1.3"/>
<text x="36" y="230.7" font-size="13" text-anchor="end" font-weight="normal" fill="#000" font-family="'Liberation Serif', serif" stroke="#000" stroke-width="0.35" transform="matrix(1 0 0 1.1 0 -23.1)">0</text>
<line x1="41" y1="212.6" x2="43.5" y2="212.6" stroke="#000" stroke-width="1.3"/>
<line x1="41" y1="198.8" x2="45" y2="198.8" stroke="#000" stroke-width="1.3"/>
<text x="36" y="203.2" font-size="13" text-anchor="end" font-weight="normal" fill="#000" font-family="'Liberation Serif', serif" stroke="#000" stroke-width="0.35" transform="matrix(1 0 0 1.1 0 -20.3)">50</text>
<line x1="41" y1="185.1" x2="43.5" y2="185.1" stroke="#000" stroke-width="1.3"/>
<line x1="41" y1="171.3" x2="45" y2="171.3" stroke="#000" stroke-width="1.3"/>
<text x="36" y="175.7" font-size="13" text-anchor="end" font-weight="normal" fill="#000" font-family="'Liberation Serif', serif" stroke="#000" stroke-width="0.35" transform="matrix(1 0 0 1.1 0 -17.6)">100</text>
<line x1="41" y1="157.6" x2="43.5" y2="157.6" stroke="#000" stroke-width="1.3"/>
<line x1="41" y1="143.8" x2="45" y2="143.8" stroke="#000" stroke-width="1.3"/>
<text x="36" y="148.2" font-size="13" text-anchor="end" font-weight="normal" fill="#000" font-family="'Liberation Serif', serif" stroke="#000" stroke-width="0.35" transform="matrix(1 0 0 1.1 0 -14.8)">150</text>
<line x1="41" y1="130.1" x2="43.5" y2="130.1" stroke="#000" stroke-width="1.3"/>
<line x1="41" y1="116.4" x2="45" y2="116.4" stroke="#000" stroke-width="1.3"/>
<text x="36" y="120.8" font-size="13" text-anchor="end" font-weight="normal" fill="#000" font-family="'Liberation Serif', serif" stroke="#000" stroke-width="0.35" transform="matrix(1 0 0 1.1 0 -12.1)">200</text>
<line x1="41" y1="102.6" x2="43.5" y2="102.6" stroke="#000" stroke-width="1.3"/>
<line x1="41" y1="88.9" x2="45" y2="88.9" stroke="#000" stroke-width="1.3"/>
<text x="36" y="93.3" font-size="13" text-anchor="end" font-weight="normal" fill="#000" font-family="'Liberation Serif', serif" stroke="#000" stroke-width="0.35" transform="matrix(1 0 0 1.1 0 -9.3)">250</text>
<line x1="41" y1="75.1" x2="43.5" y2="75.1" stroke="#000" stroke-width="1.3"/>
<line x1="41" y1="61.4" x2="45" y2="61.4" stroke="#000" stroke-width="1.3"/>
<text x="36" y="65.8" font-size="13" text-anchor="end" font-weight="normal" fill="#000" font-family="'Liberation Serif', serif" stroke="#000" stroke-width="0.35" transform="matrix(1 0 0 1.1 0 -6.6)">300</text>
<line x1="41" y1="47.6" x2="43.5" y2="47.6" stroke="#000" stroke-width="1.3"/>
<line x1="41" y1="33.9" x2="45" y2="33.9" stroke="#000" stroke-width="1.3"/>
<text x="36" y="38.3" font-size="13" text-anchor="end" font-weight="normal" fill="#000" font-family="'Liberation Serif', serif" stroke="#000" stroke-width="0.35" transform="matrix(1 0 0 1.1 0 -3.8)">350</text>
<line x1="41" y1="20.1" x2="43.5" y2="20.1" stroke="#000" stroke-width="1.3"/>
<line x1="41" y1="6.4" x2="45" y2="6.4" stroke="#000" stroke-width="1.3"/>
<text x="36" y="10.8" font-size="13" text-anchor="end" font-weight="normal" fill="#000" font-family="'Liberation Serif', serif" stroke="#000" stroke-width="0.35" transform="matrix(1 0 0 1.1 0 -1.1)">400</text>
<line x1="41" y1="226.3" x2="41" y2="222.3" stroke="#000" stroke-width="1.3"/>
<text x="41" y="241.3" font-size="13" text-anchor="middle" font-weight="normal" fill="#000" font-family="'Liberation Serif', serif" stroke="#000" stroke-width="0.35" transform="matrix(1 0 0 1.1 0 -24.1)">0</text>
<line x1="61.3" y1="226.3" x2="61.3" y2="223.8" stroke="#000" stroke-width="1.3"/>
<line x1="81.6" y1="226.3" x2="81.6" y2="222.3" stroke="#000" stroke-width="1.3"/>
<text x="81.6" y="241.3" font-size="13" text-anchor="middle" font-weight="normal" fill="#000" font-family="'Liberation Serif', serif" stroke="#000" stroke-width="0.35" transform="matrix(1 0 0 1.1 0 -24.1)">10</text>
<line x1="101.9" y1="226.3" x2="101.9" y2="223.8" stroke="#000" stroke-width="1.3"/>
<line x1="122.3" y1="226.3" x2="122.3" y2="222.3" stroke="#000" stroke-width="1.3"/>
<text x="122.3" y="241.3" font-size="13" text-anchor="middle" font-weight="normal" fill="#000" font-family="'Liberation Serif', serif" stroke="#000" stroke-width="0.35" transform="matrix(1 0 0 1.1 0 -24.1)">20</text>
<line x1="142.6" y1="226.3" x2="142.6" y2="223.8" stroke="#000" stroke-width="1.3"/>
<line x1="162.9" y1="226.3" x2="162.9" y2="222.3" stroke="#000" stroke-width="1.3"/>
<text x="162.9" y="241.3" font-size="13" text-anchor="middle" font-weight="normal" fill="#000" font-family="'Liberation Serif', serif" stroke="#000" stroke-width="0.35" transform="matrix(1 0 0 1.1 0 -24.1)">30</text>
<line x1="183.2" y1="226.3" x2="183.2" y2="223.8" stroke="#000" stroke-width="1.3"/>
<line x1="203.5" y1="226.3" x2="203.5" y2="222.3" stroke="#000" stroke-width="1.3"/>
<text x="203.5" y="241.3" font-size="13" text-anchor="middle" font-weight="normal" fill="#000" font-family="'Liberation Serif', serif" stroke="#000" stroke-width="0.35" transform="matrix(1 0 0 1.1 0 -24.1)">40</text>
<line x1="223.8" y1="226.3" x2="223.8" y2="223.8" stroke="#000" stroke-width="1.3"/>
<line x1="244.1" y1="226.3" x2="244.1" y2="222.3" stroke="#000" stroke-width="1.3"/>
<text x="244.1" y="241.3" font-size="13" text-anchor="middle" font-weight="normal" fill="#000" font-family="'Liberation Serif', serif" stroke="#000" stroke-width="0.35" transform="matrix(1 0 0 1.1 0 -24.1)">50</text>
<line x1="264.5" y1="226.3" x2="264.5" y2="223.8" stroke="#000" stroke-width="1.3"/>
<line x1="284.8" y1="226.3" x2="284.8" y2="222.3" stroke="#000" stroke-width="1.3"/>
<text x="284.8" y="241.3" font-size="13" text-anchor="middle" font-weight="normal" fill="#000" font-family="'Liberation Serif', serif" stroke="#000" stroke-width="0.35" transform="matrix(1 0 0 1.1 0 -24.1)">60</text>
<line x1="305.1" y1="226.3" x2="305.1" y2="223.8" stroke="#000" stroke-width="1.3"/>
<line x1="325.4" y1="226.3" x2="325.4" y2="222.3" stroke="#000" stroke-width="1.3"/>
<text x="325.4" y="241.3" font-size="13" text-anchor="middle" font-weight="normal" fill="#000" font-family="'Liberation Serif', serif" stroke="#000" stroke-width="0.35" transform="matrix(1 0 0 1.1 0 -24.1)">70</text>
<text x="183.2" y="255.5" font-size="13" text-anchor="middle" font-weight="normal" fill="#000" font-family="'Liberation Serif', serif" stroke="#000" stroke-width="0.2" transform="matrix(1 0 0 1.1 0 -25.6)">RA (ms/V)</text>
<text x="10.5" y="116.4" font-size="13.4" text-anchor="middle" font-weight="normal" fill="#000" font-family="'Liberation Serif', serif" stroke="#000" stroke-width="0.3" transform="rotate(-90 10.5 116.4)">AF (kHz)</text>
<g fill="#ff00ff"><circle cx="194.6" cy="508.3" r="1.9"/><circle cx="178.9" cy="511.7" r="1.9"/><circle cx="177.1" cy="502.6" r="1.9"/><circle cx="157.5" cy="488.5" r="1.9"/><circle cx="172.7" cy="479.2" r="1.9"/><circle cx="154.5" cy="508.6" r="1.9"/><circle cx="180" cy="502.1" r="1.9"/><circle cx="157.6" cy="501.7" r="1.9"/><circle cx="153.6" cy="504" r="1.9"/><circle cx="198.9" cy="482.9" r="1.9"/><circle cx="174.9" cy="508.5" r="1.9"/><circle cx="151.8" cy="496.1" r="1.9"/><circle cx="165.3" cy="481.9" r="1.9"/><circle cx="186" cy="515.4" r="1.9"/><circle cx="168" cy="498.3" r="1.9"/><circle cx="180.4" cy="497" r="1.9"/><circle cx="173.6" cy="510.6" r="1.9"/><circle cx="163.4" cy="492.6" r="1.9"/><circle cx="200.5" cy="484" r="1.9"/><circle cx="177.5" cy="491.9" r="1.9"/><circle cx="184.4" cy="480.3" r="1.9"/><circle cx="203.6" cy="490.3" r="1.9"/><circle cx="154.4" cy="493.1" r="1.9"/><circle cx="178.7" cy="490.1" r="1.9"/><circle cx="182.5" cy="515.4" r="1.9"/><circle cx="163.9" cy="484.4" r="1.9"/><circle cx="187.7" cy="491.9" r="1.9"/><circle cx="185.6" cy="509.8" r="1.9"/><circle cx="173.2" cy="495.2" r="1.9"/><circle cx="166.9" cy="484.7" r="1.9"/><circle cx="201.9" cy="490.2" r="1.9"/><circle cx="173.6" cy="510.2" r="1.9"/><circle cx="189" cy="495.1" r="1.9"/><circle cx="143.6" cy="498.6" r="1.9"/><circle cx="128.9" cy="510.9" r="1.9"/><circle cx="148.9" cy="511.6" r="1.9"/><circle cx="180.8" cy="487.1" r="1.9"/><circle cx="159.7" cy="493.4" r="1.9"/><circle cx="173.4" cy="503.3" r="1.9"/><circle cx="149.5" cy="514.9" r="1.9"/><circle cx="192.3" cy="477.5" r="1.9"/><circle cx="190" cy="513.9" r="1.9"/><circle cx="186.2" cy="481" r="1.9"/><circle cx="190.3" cy="502.2" r="1.9"/><circle cx="200.8" cy="503.2" r="1.9"/><circle cx="185.5" cy="489.9" r="1.9"/><circle cx="131.3" cy="513.9" r="1.9"/><circle cx="186.9" cy="482.2" r="1.9"/><circle cx="195.5" cy="501.2" r="1.9"/><circle cx="186" cy="503.7" r="1.9"/><circle cx="195.8" cy="508.9" r="1.9"/><circle cx="191" cy="483.5" r="1.9"/><circle cx="178.3" cy="497.8" r="1.9"/><circle cx="182.5" cy="493.9" r="1.9"/><circle cx="194.8" cy="498.9" r="1.9"/><circle cx="161.3" cy="498.2" r="1.9"/><circle cx="193.1" cy="475.3" r="1.9"/><circle cx="191.1" cy="495.1" r="1.9"/><circle cx="166.9" cy="503.6" r="1.9"/><circle cx="191.1" cy="491.1" r="1.9"/><circle cx="154.4" cy="516.3" r="1.9"/><circle cx="173.3" cy="476.2" r="1.9"/><circle cx="171" cy="504.4" r="1.9"/><circle cx="199" cy="489.2" r="1.9"/><circle cx="203.4" cy="497" r="1.9"/><circle cx="160.2" cy="513.6" r="1.9"/><circle cx="172.4" cy="489.6" r="1.9"/><circle cx="193" cy="490.7" r="1.9"/><circle cx="159.3" cy="497.6" r="1.9"/><circle cx="185" cy="484.1" r="1.9"/><circle cx="155.9" cy="493.2" r="1.9"/><circle cx="166.2" cy="510.5" r="1.9"/><circle cx="143.5" cy="510.6" r="1.9"/><circle cx="153.1" cy="496.7" r="1.9"/><circle cx="202.8" cy="503.1" r="1.9"/><circle cx="186.9" cy="489.2" r="1.9"/><circle cx="169" cy="502.3" r="1.9"/><circle cx="186.2" cy="476.7" r="1.9"/><circle cx="180.9" cy="513.1" r="1.9"/><circle cx="134.5" cy="514.6" r="1.9"/><circle cx="171" cy="503.3" r="1.9"/><circle cx="186.6" cy="514.1" r="1.9"/><circle cx="171.2" cy="501.5" r="1.9"/><circle cx="172.5" cy="504.9" r="1.9"/><circle cx="169.9" cy="504.3" r="1.9"/><circle cx="136.5" cy="503.7" r="1.9"/><circle cx="157.8" cy="507.8" r="1.9"/><circle cx="197.5" cy="503.2" r="1.9"/><circle cx="150.1" cy="510.4" r="1.9"/><circle cx="186.4" cy="499.2" r="1.9"/><circle cx="154.7" cy="488.7" r="1.9"/><circle cx="155.5" cy="502.6" r="1.9"/><circle cx="199.2" cy="477.3" r="1.9"/><circle cx="128.3" cy="509.8" r="1.9"/><circle cx="168.1" cy="514.5" r="1.9"/><circle cx="151.7" cy="500.5" r="1.9"/><circle cx="159.4" cy="492.7" r="1.9"/><circle cx="177.5" cy="480.2" r="1.9"/><circle cx="202.1" cy="478.8" r="1.9"/><circle cx="193.7" cy="480.5" r="1.9"/><circle cx="139.1" cy="506.5" r="1.9"/><circle cx="185.3" cy="505.7" r="1.9"/><circle cx="192.4" cy="506.4" r="1.9"/><circle cx="179.7" cy="494.8" r="1.9"/><circle cx="199.1" cy="485.9" r="1.9"/><circle cx="201.9" cy="505.8" r="1.9"/><circle cx="174.6" cy="510.1" r="1.9"/><circle cx="181.5" cy="482.1" r="1.9"/><circle cx="192.9" cy="495.9" r="1.9"/><circle cx="168" cy="493.9" r="1.9"/><circle cx="176.9" cy="481.2" r="1.9"/><circle cx="187.4" cy="490.6" r="1.9"/><circle cx="174.1" cy="502.1" r="1.9"/><circle cx="154.4" cy="491.6" r="1.9"/><circle cx="186.4" cy="515.6" r="1.9"/><circle cx="186.3" cy="499.4" r="1.9"/><circle cx="202.7" cy="505.2" r="1.9"/><circle cx="190" cy="489.3" r="1.9"/><circle cx="170.7" cy="517" r="1.9"/><circle cx="190.3" cy="500.8" r="1.9"/><circle cx="195.3" cy="491.2" r="1.9"/><circle cx="177.6" cy="500.9" r="1.9"/><circle cx="196" cy="509.7" r="1.9"/><circle cx="169" cy="510.1" r="1.9"/><circle cx="195.2" cy="476.8" r="1.9"/><circle cx="190.5" cy="509.9" r="1.9"/><circle cx="193.4" cy="499.6" r="1.9"/><circle cx="141.8" cy="511.6" r="1.9"/><circle cx="188.2" cy="504.4" r="1.9"/><circle cx="197.5" cy="489.9" r="1.9"/><circle cx="187.4" cy="483.6" r="1.9"/><circle cx="183.3" cy="515.1" r="1.9"/><circle cx="138.4" cy="501.1" r="1.9"/><circle cx="177" cy="495" r="1.9"/><circle cx="183.3" cy="509" r="1.9"/><circle cx="188.2" cy="508.2" r="1.9"/><circle cx="196" cy="513.1" r="1.9"/><circle cx="163.4" cy="495.5" r="1.9"/><circle cx="169.3" cy="483.1" r="1.9"/><circle cx="179" cy="490.6" r="1.9"/><circle cx="167.1" cy="492.3" r="1.9"/><circle cx="163" cy="481.4" r="1.9"/><circle cx="173" cy="508.9" r="1.9"/><circle cx="148" cy="497.3" r="1.9"/><circle cx="160.3" cy="499.4" r="1.9"/><circle cx="140.8" cy="508.5" r="1.9"/><circle cx="155.1" cy="515.7" r="1.9"/><circle cx="184.8" cy="510.2" r="1.9"/><circle cx="201.8" cy="485.9" r="1.9"/><circle cx="193.7" cy="494.7" r="1.9"/><circle cx="201.5" cy="486.1" r="1.9"/><circle cx="167.1" cy="502.5" r="1.9"/><circle cx="201.2" cy="503.8" r="1.9"/><circle cx="152.2" cy="494.3" r="1.9"/><circle cx="131.9" cy="516.5" r="1.9"/><circle cx="204.3" cy="484.5" r="1.9"/><circle cx="148.6" cy="513.8" r="1.9"/><circle cx="196.7" cy="511" r="1.9"/><circle cx="179.7" cy="502.8" r="1.9"/><circle cx="130.6" cy="507.5" r="1.9"/><circle cx="199.7" cy="504.1" r="1.9"/><circle cx="144" cy="500.4" r="1.9"/><circle cx="183.9" cy="479.5" r="1.9"/><circle cx="198.7" cy="484.5" r="1.9"/><circle cx="195.3" cy="481" r="1.9"/><circle cx="198.8" cy="511.2" r="1.9"/><circle cx="172.7" cy="494.5" r="1.9"/><circle cx="147.6" cy="510.4" r="1.9"/><circle cx="159.5" cy="502" r="1.9"/><circle cx="166.1" cy="481.2" r="1.9"/><circle cx="193.8" cy="486.5" r="1.9"/><circle cx="141.6" cy="511.1" r="1.9"/><circle cx="160.7" cy="488.7" r="1.9"/><circle cx="196.6" cy="479.9" r="1.9"/><circle cx="195.9" cy="503.7" r="1.9"/><circle cx="198.5" cy="479.2" r="1.9"/><circle cx="143.2" cy="513.5" r="1.9"/><circle cx="143.5" cy="517.1" r="1.9"/><circle cx="163.8" cy="483" r="1.9"/><circle cx="155.9" cy="514.2" r="1.9"/><circle cx="185" cy="505.6" r="1.9"/><circle cx="161.1" cy="486.8" r="1.9"/><circle cx="179.6" cy="509.9" r="1.9"/><circle cx="168.7" cy="483.7" r="1.9"/><circle cx="153.5" cy="506" r="1.9"/><circle cx="147.2" cy="511.2" r="1.9"/><circle cx="193.2" cy="496.2" r="1.9"/><circle cx="159.5" cy="512.5" r="1.9"/><circle cx="190.4" cy="490.8" r="1.9"/><circle cx="163.2" cy="494.2" r="1.9"/><circle cx="180.2" cy="510.1" r="1.9"/><circle cx="193.3" cy="488.8" r="1.9"/><circle cx="179.9" cy="491.4" r="1.9"/><circle cx="183.4" cy="477.6" r="1.9"/><circle cx="193.9" cy="516" r="1.9"/><circle cx="161" cy="497.1" r="1.9"/><circle cx="164.2" cy="498.1" r="1.9"/><circle cx="189.1" cy="476.3" r="1.9"/><circle cx="170.1" cy="499.8" r="1.9"/><circle cx="163.5" cy="505.2" r="1.9"/><circle cx="126.9" cy="512.4" r="1.9"/><circle cx="180.4" cy="476.9" r="1.9"/><circle cx="161.6" cy="487" r="1.9"/><circle cx="192.9" cy="481.3" r="1.9"/><circle cx="167.8" cy="507.1" r="1.9"/><circle cx="132.3" cy="510.5" r="1.9"/><circle cx="199.6" cy="491.7" r="1.9"/><circle cx="154.6" cy="511.1" r="1.9"/><circle cx="163.7" cy="492" r="1.9"/><circle cx="199.9" cy="508.4" r="1.9"/><circle cx="147.2" cy="493.7" r="1.9"/><circle cx="197.4" cy="510" r="1.9"/><circle cx="191.7" cy="477.3" r="1.9"/><circle cx="163" cy="516.2" r="1.9"/><circle cx="199.3" cy="485.7" r="1.9"/><circle cx="154.7" cy="502.2" r="1.9"/><circle cx="149.7" cy="497.8" r="1.9"/><circle cx="130.1" cy="516.7" r="1.9"/><circle cx="185.6" cy="515.3" r="1.9"/><circle cx="173.1" cy="509.8" r="1.9"/><circle cx="194.9" cy="513" r="1.9"/><circle cx="141.1" cy="504.2" r="1.9"/><circle cx="141.8" cy="498.3" r="1.9"/><circle cx="198.4" cy="501.7" r="1.9"/><circle cx="155.7" cy="515.9" r="1.9"/><circle cx="174.3" cy="480.2" r="1.9"/><circle cx="169.7" cy="516.1" r="1.9"/><circle cx="162.7" cy="486.5" r="1.9"/><circle cx="158.6" cy="498" r="1.9"/><circle cx="165.5" cy="511.1" r="1.9"/><circle cx="171.1" cy="499.5" r="1.9"/><circle cx="174.6" cy="483.7" r="1.9"/><circle cx="179.8" cy="494.8" r="1.9"/><circle cx="165.7" cy="501.4" r="1.9"/><circle cx="158.8" cy="488.4" r="1.9"/><circle cx="162.6" cy="491.5" r="1.9"/><circle cx="148.7" cy="512.1" r="1.9"/><circle cx="160.8" cy="487.2" r="1.9"/><circle cx="203.9" cy="487.7" r="1.9"/><circle cx="185.2" cy="481.8" r="1.9"/><circle cx="123.8" cy="512.5" r="1.9"/><circle cx="151.7" cy="493.9" r="1.9"/><circle cx="182" cy="479.7" r="1.9"/><circle cx="137.6" cy="516.3" r="1.9"/><circle cx="182.3" cy="481.6" r="1.9"/><circle cx="176.8" cy="501.5" r="1.9"/><circle cx="191.9" cy="510.3" r="1.9"/><circle cx="163" cy="506.8" r="1.9"/><circle cx="182.7" cy="507.7" r="1.9"/><circle cx="159.3" cy="508.8" r="1.9"/><circle cx="179.6" cy="514.3" r="1.9"/><circle cx="129.1" cy="512.4" r="1.9"/><circle cx="169" cy="496.4" r="1.9"/><circle cx="201.8" cy="499.6" r="1.9"/><circle cx="154.4" cy="508.7" r="1.9"/><circle cx="193.9" cy="501.1" r="1.9"/><circle cx="151" cy="494.4" r="1.9"/><circle cx="157.8" cy="506.1" r="1.9"/><circle cx="166.3" cy="491.5" r="1.9"/><circle cx="146" cy="508.8" r="1.9"/><circle cx="304.4" cy="470" r="1.9"/><circle cx="257" cy="460.5" r="1.9"/><circle cx="240.6" cy="459.3" r="1.9"/><circle cx="272.3" cy="472.4" r="1.9"/><circle cx="215.3" cy="482.6" r="1.9"/><circle cx="242.9" cy="480.3" r="1.9"/><circle cx="303.1" cy="483.8" r="1.9"/><circle cx="228.9" cy="467.8" r="1.9"/><circle cx="210.6" cy="471.9" r="1.9"/><circle cx="263.2" cy="482.6" r="1.9"/><circle cx="295.5" cy="471.2" r="1.9"/><circle cx="321.8" cy="470.5" r="1.9"/><circle cx="265.5" cy="475.6" r="1.9"/><circle cx="250.6" cy="465.7" r="1.9"/><circle cx="274.6" cy="465.5" r="1.9"/><circle cx="315.9" cy="475.3" r="1.9"/><circle cx="266.5" cy="458" r="1.9"/><circle cx="248.8" cy="467" r="1.9"/><circle cx="270.7" cy="472.2" r="1.9"/><circle cx="307.9" cy="483.9" r="1.9"/><circle cx="261.9" cy="468.2" r="1.9"/><circle cx="278.1" cy="484.9" r="1.9"/><circle cx="245.2" cy="470.9" r="1.9"/><circle cx="300.5" cy="460.1" r="1.9"/><circle cx="242.2" cy="484.4" r="1.9"/><circle cx="301.6" cy="470.4" r="1.9"/><circle cx="217.9" cy="481.8" r="1.9"/><circle cx="285.7" cy="479.6" r="1.9"/><circle cx="320.9" cy="481.6" r="1.9"/><circle cx="254.2" cy="459.7" r="1.9"/><circle cx="238.9" cy="470.3" r="1.9"/><circle cx="264.1" cy="460.6" r="1.9"/><circle cx="222.3" cy="505.9" r="1.9"/><circle cx="273.6" cy="495.4" r="1.9"/><circle cx="321.2" cy="506.2" r="1.9"/><circle cx="205.2" cy="497.6" r="1.9"/><circle cx="296.1" cy="493.7" r="1.9"/><circle cx="284.3" cy="482.1" r="1.9"/><circle cx="237.1" cy="514" r="1.9"/><circle cx="271.5" cy="507.4" r="1.9"/><circle cx="224" cy="500.9" r="1.9"/><circle cx="267.5" cy="492.1" r="1.9"/><circle cx="278.9" cy="502.2" r="1.9"/><circle cx="321.6" cy="503.8" r="1.9"/><circle cx="250.2" cy="486.6" r="1.9"/><circle cx="219.1" cy="510.9" r="1.9"/><circle cx="213" cy="485.8" r="1.9"/><circle cx="220.8" cy="501.9" r="1.9"/><circle cx="300.4" cy="505.3" r="1.9"/><circle cx="298.4" cy="484.4" r="1.9"/><circle cx="201.5" cy="511.3" r="1.9"/><circle cx="239.4" cy="509.2" r="1.9"/><circle cx="243.2" cy="488.4" r="1.9"/><circle cx="232.5" cy="485.8" r="1.9"/><circle cx="310.3" cy="504.1" r="1.9"/><circle cx="242.6" cy="499.1" r="1.9"/><circle cx="247.1" cy="484.1" r="1.9"/><circle cx="308.6" cy="504.1" r="1.9"/><circle cx="317.1" cy="498.7" r="1.9"/><circle cx="275.7" cy="491.5" r="1.9"/><circle cx="205.4" cy="517.4" r="1.9"/><circle cx="304.3" cy="494" r="1.9"/><circle cx="309.7" cy="513" r="1.9"/><circle cx="237" cy="504.9" r="1.9"/><circle cx="317.1" cy="500.8" r="1.9"/><circle cx="315.9" cy="491.2" r="1.9"/><circle cx="247.6" cy="509.3" r="1.9"/><circle cx="227" cy="493.7" r="1.9"/><circle cx="306.8" cy="500.4" r="1.9"/><circle cx="296.7" cy="491.2" r="1.9"/><circle cx="221.2" cy="495.6" r="1.9"/><circle cx="222.8" cy="518.9" r="1.9"/><circle cx="235.5" cy="503.3" r="1.9"/><circle cx="214" cy="502.3" r="1.9"/><circle cx="247" cy="497.3" r="1.9"/><circle cx="208" cy="486.7" r="1.9"/><circle cx="300.8" cy="495.3" r="1.9"/><circle cx="229.9" cy="489.3" r="1.9"/><circle cx="234.6" cy="491" r="1.9"/><circle cx="204.3" cy="507.2" r="1.9"/><circle cx="241.7" cy="487.9" r="1.9"/><circle cx="286.1" cy="485.5" r="1.9"/><circle cx="232.9" cy="513.7" r="1.9"/><circle cx="215.6" cy="498.8" r="1.9"/><circle cx="302" cy="512.6" r="1.9"/><circle cx="219.4" cy="495.4" r="1.9"/><circle cx="288.1" cy="496.3" r="1.9"/><circle cx="316.9" cy="489.9" r="1.9"/><circle cx="316" cy="501.2" r="1.9"/><circle cx="227.7" cy="499.2" r="1.9"/><circle cx="216" cy="508.8" r="1.9"/><circle cx="231.8" cy="516.2" r="1.9"/><circle cx="271.7" cy="496" r="1.9"/><circle cx="230" cy="505.1" r="1.9"/><circle cx="225.9" cy="515.2" r="1.9"/><circle cx="215" cy="501.5" r="1.9"/><circle cx="266.2" cy="492.3" r="1.9"/><circle cx="294.2" cy="496.6" r="1.9"/><circle cx="280.2" cy="503.6" r="1.9"/><circle cx="237.9" cy="496.8" r="1.9"/><circle cx="210.5" cy="488.7" r="1.9"/><circle cx="303.8" cy="494.2" r="1.9"/><circle cx="280.9" cy="486.1" r="1.9"/><circle cx="268.6" cy="495.7" r="1.9"/><circle cx="261" cy="493.3" r="1.9"/><circle cx="208" cy="493.8" r="1.9"/><circle cx="227.6" cy="486.8" r="1.9"/><circle cx="287.4" cy="492.7" r="1.9"/><circle cx="249.2" cy="516.5" r="1.9"/><circle cx="294.5" cy="515.5" r="1.9"/><circle cx="305.1" cy="487" r="1.9"/><circle cx="233.7" cy="483.1" r="1.9"/><circle cx="282.9" cy="507.2" r="1.9"/><circle cx="242.9" cy="497.7" r="1.9"/><circle cx="280.4" cy="508.6" r="1.9"/><circle cx="230.3" cy="514.2" r="1.9"/><circle cx="243" cy="505.9" r="1.9"/><circle cx="222.2" cy="486.4" r="1.9"/><circle cx="311.3" cy="509.9" r="1.9"/><circle cx="286.9" cy="483.5" r="1.9"/><circle cx="204.9" cy="488.2" r="1.9"/><circle cx="224.2" cy="493.5" r="1.9"/><circle cx="246.5" cy="483.5" r="1.9"/><circle cx="237.9" cy="506.3" r="1.9"/><circle cx="221.9" cy="513.9" r="1.9"/><circle cx="269.6" cy="509.2" r="1.9"/><circle cx="231.1" cy="498.5" r="1.9"/><circle cx="283.5" cy="495.3" r="1.9"/><circle cx="200.1" cy="513.7" r="1.9"/><circle cx="294.7" cy="492.9" r="1.9"/><circle cx="205.2" cy="514.5" r="1.9"/><circle cx="274.1" cy="483.8" r="1.9"/><circle cx="229.8" cy="486.2" r="1.9"/><circle cx="296.6" cy="490" r="1.9"/><circle cx="311.6" cy="510.5" r="1.9"/><circle cx="210.5" cy="508.4" r="1.9"/><circle cx="248" cy="510.4" r="1.9"/><circle cx="301.1" cy="492.7" r="1.9"/><circle cx="211" cy="518" r="1.9"/><circle cx="251.7" cy="517.3" r="1.9"/><circle cx="284.4" cy="510.1" r="1.9"/><circle cx="301.3" cy="505.9" r="1.9"/><circle cx="255.2" cy="484.1" r="1.9"/><circle cx="285.2" cy="498.3" r="1.9"/><circle cx="262.4" cy="517.3" r="1.9"/><circle cx="215.6" cy="511" r="1.9"/><circle cx="205.3" cy="508.7" r="1.9"/><circle cx="298.3" cy="491.9" r="1.9"/><circle cx="266.7" cy="518.8" r="1.9"/><circle cx="277.8" cy="502.7" r="1.9"/><circle cx="230.5" cy="484.3" r="1.9"/><circle cx="243.7" cy="497.6" r="1.9"/><circle cx="224.6" cy="493.8" r="1.9"/><circle cx="216.7" cy="508.9" r="1.9"/><circle cx="281.8" cy="491" r="1.9"/><circle cx="229.5" cy="501.6" r="1.9"/><circle cx="254.3" cy="517.6" r="1.9"/><circle cx="136.8" cy="521" r="1.9"/><circle cx="142" cy="525.5" r="1.9"/><circle cx="184" cy="525.5" r="1.9"/><circle cx="193.7" cy="524.6" r="1.9"/><circle cx="205" cy="525.5" r="1.9"/><circle cx="137" cy="528" r="1.9"/><circle cx="141" cy="530" r="1.9"/><circle cx="220" cy="528" r="1.9"/><circle cx="231" cy="527" r="1.9"/><circle cx="243" cy="527" r="1.9"/><circle cx="261" cy="527" r="1.9"/><circle cx="282" cy="527" r="1.9"/><circle cx="178.8" cy="473.8" r="1.9"/><circle cx="187.6" cy="474.7" r="1.9"/><circle cx="192" cy="475.5" r="1.9"/><circle cx="203.4" cy="459.8" r="1.9"/><circle cx="205" cy="464.2" r="1.9"/><circle cx="202" cy="478" r="1.9"/></g>
<polygon points="52.8,425.1 54.9,422.5 57.5,420.7 60.9,420.7 65.2,416.3 68.7,413.7 72.1,411.9 74.7,412.8 76.4,416.3 77.7,420.7 79.9,426 85,431.3 91,433.9 97.5,436.5 100.1,442.7 101.8,448 107.8,449.7 110.8,458.5 112.5,467.3 122.9,473.9 129.7,477.9 137.5,477.9 139.2,485.4 109.6,509 104.8,506.9 99.6,503.4 89.8,500.8 82.4,497.7 73.4,493.7 65.2,491.5 62.2,486.3 56.6,478.8 54.5,471.7 52.8,457.2 52.3,441.8" fill="#0000ff" stroke="#0000ff" stroke-width="2" stroke-linejoin="round"/>
<g fill="#0000ff"><circle cx="82.5" cy="439" r="1.9"/><circle cx="114.3" cy="472.1" r="1.9"/><circle cx="93.6" cy="490.5" r="1.9"/><circle cx="76.2" cy="445.8" r="1.9"/><circle cx="67.8" cy="412.7" r="1.9"/><circle cx="75.4" cy="427.7" r="1.9"/><circle cx="58.4" cy="441.8" r="1.9"/><circle cx="94.3" cy="446.1" r="1.9"/><circle cx="64" cy="413.9" r="1.9"/><circle cx="96.4" cy="453.9" r="1.9"/><circle cx="66.2" cy="465.9" r="1.9"/><circle cx="112.1" cy="475.3" r="1.9"/><circle cx="72.4" cy="433.1" r="1.9"/><circle cx="125.2" cy="498.6" r="1.9"/><circle cx="76.9" cy="426.5" r="1.9"/><circle cx="111.4" cy="499.3" r="1.9"/><circle cx="126.2" cy="497.6" r="1.9"/><circle cx="65.6" cy="497.1" r="1.9"/><circle cx="79.3" cy="446.7" r="1.9"/><circle cx="102.7" cy="446.7" r="1.9"/><circle cx="51.2" cy="468.5" r="1.9"/><circle cx="110.4" cy="496.5" r="1.9"/><circle cx="118.3" cy="505.9" r="1.9"/><circle cx="77.3" cy="470.1" r="1.9"/><circle cx="55.1" cy="481.9" r="1.9"/><circle cx="63.5" cy="454.9" r="1.9"/><circle cx="51" cy="454.5" r="1.9"/><circle cx="66.3" cy="485.8" r="1.9"/><circle cx="133.4" cy="492.8" r="1.9"/><circle cx="90" cy="437.3" r="1.9"/><circle cx="113.8" cy="462.8" r="1.9"/><circle cx="89.5" cy="443.4" r="1.9"/><circle cx="91.3" cy="479.5" r="1.9"/><circle cx="63.6" cy="438.6" r="1.9"/><circle cx="91.8" cy="468.2" r="1.9"/><circle cx="82.2" cy="427.6" r="1.9"/><circle cx="55.6" cy="441.7" r="1.9"/><circle cx="109.6" cy="495.5" r="1.9"/><circle cx="53.1" cy="480.6" r="1.9"/><circle cx="104.7" cy="511.1" r="1.9"/><circle cx="95.6" cy="477.4" r="1.9"/><circle cx="77.2" cy="443.9" r="1.9"/><circle cx="66.1" cy="480.9" r="1.9"/><circle cx="105.7" cy="451.9" r="1.9"/><circle cx="100.5" cy="468.3" r="1.9"/><circle cx="56.6" cy="464.6" r="1.9"/><circle cx="72.4" cy="460" r="1.9"/><circle cx="98.8" cy="470.9" r="1.9"/><circle cx="55.1" cy="451" r="1.9"/><circle cx="54.4" cy="454.5" r="1.9"/><circle cx="119.2" cy="489.5" r="1.9"/><circle cx="103.9" cy="491.5" r="1.9"/><circle cx="60.8" cy="491.6" r="1.9"/><circle cx="52.8" cy="432.1" r="1.9"/><circle cx="77.3" cy="484.1" r="1.9"/><circle cx="90" cy="504.1" r="1.9"/><circle cx="109.7" cy="502.2" r="1.9"/><circle cx="103.9" cy="507.2" r="1.9"/><circle cx="124.1" cy="481.1" r="1.9"/><circle cx="84.7" cy="487.3" r="1.9"/><circle cx="142.8" cy="485.6" r="1.9"/><circle cx="51.4" cy="472.6" r="1.9"/><circle cx="57.1" cy="466.6" r="1.9"/><circle cx="72.7" cy="427.3" r="1.9"/><circle cx="92.1" cy="498.5" r="1.9"/><circle cx="101.4" cy="482.1" r="1.9"/><circle cx="48.4" cy="443.8" r="1.9"/><circle cx="62.2" cy="461.4" r="1.9"/><circle cx="135.2" cy="494.3" r="1.9"/><circle cx="50.6" cy="426.1" r="1.9"/><circle cx="129.6" cy="481" r="1.9"/><circle cx="86.6" cy="458.5" r="1.9"/><circle cx="86.7" cy="502.3" r="1.9"/><circle cx="80.3" cy="429.9" r="1.9"/><circle cx="51.4" cy="424.7" r="1.9"/><circle cx="83.5" cy="457.6" r="1.9"/><circle cx="105.3" cy="448.8" r="1.9"/><circle cx="49.1" cy="456.7" r="1.9"/><circle cx="61.7" cy="480" r="1.9"/><circle cx="74.5" cy="436.2" r="1.9"/><circle cx="97.5" cy="434.9" r="1.9"/><circle cx="104.5" cy="464.3" r="1.9"/><circle cx="50.4" cy="467.9" r="1.9"/><circle cx="124.9" cy="502.3" r="1.9"/><circle cx="125.2" cy="475.9" r="1.9"/><circle cx="75.4" cy="493.8" r="1.9"/><circle cx="124.1" cy="487.6" r="1.9"/><circle cx="98.4" cy="476.1" r="1.9"/><circle cx="82.4" cy="466.8" r="1.9"/><circle cx="81.1" cy="441.7" r="1.9"/><circle cx="84.1" cy="432.9" r="1.9"/><circle cx="70.7" cy="444.5" r="1.9"/><circle cx="92" cy="468.8" r="1.9"/><circle cx="77.5" cy="424.6" r="1.9"/><circle cx="53.7" cy="439.3" r="1.9"/><circle cx="78.2" cy="486.2" r="1.9"/><circle cx="102.7" cy="509.4" r="1.9"/><circle cx="65.1" cy="470.1" r="1.9"/><circle cx="95.9" cy="505.2" r="1.9"/><circle cx="74.9" cy="434.4" r="1.9"/><circle cx="49.3" cy="424.2" r="1.9"/><circle cx="74.1" cy="483.7" r="1.9"/><circle cx="69" cy="450.1" r="1.9"/><circle cx="67.2" cy="472.5" r="1.9"/><circle cx="66.9" cy="487" r="1.9"/><circle cx="60.8" cy="426.8" r="1.9"/><circle cx="101.2" cy="502.6" r="1.9"/><circle cx="111.6" cy="507.8" r="1.9"/><circle cx="68.4" cy="442.1" r="1.9"/><circle cx="122.7" cy="477.6" r="1.9"/><circle cx="87.9" cy="480.9" r="1.9"/><circle cx="96.9" cy="472" r="1.9"/><circle cx="73" cy="457.1" r="1.9"/><circle cx="52.7" cy="473.7" r="1.9"/><circle cx="56.4" cy="423.2" r="1.9"/><circle cx="61.4" cy="490.7" r="1.9"/><circle cx="89.7" cy="465.4" r="1.9"/><circle cx="106.4" cy="467.2" r="1.9"/><circle cx="113.4" cy="472.4" r="1.9"/><circle cx="80.4" cy="487.8" r="1.9"/><circle cx="73" cy="484.5" r="1.9"/><circle cx="124.1" cy="491.6" r="1.9"/><circle cx="78.2" cy="491.3" r="1.9"/><circle cx="75.1" cy="463.7" r="1.9"/><circle cx="47.9" cy="458.5" r="1.9"/><circle cx="113.2" cy="491.4" r="1.9"/><circle cx="70" cy="489.5" r="1.9"/><circle cx="60.5" cy="412.6" r="1.9"/><circle cx="97.7" cy="467.3" r="1.9"/><circle cx="64.9" cy="487.4" r="1.9"/><circle cx="97.4" cy="476.2" r="1.9"/><circle cx="81.8" cy="494.3" r="1.9"/><circle cx="93.5" cy="441.7" r="1.9"/><circle cx="104" cy="451.2" r="1.9"/><circle cx="72.4" cy="434.9" r="1.9"/><circle cx="90.8" cy="431.5" r="1.9"/><circle cx="67.5" cy="489.8" r="1.9"/><circle cx="74" cy="488.9" r="1.9"/><circle cx="80.5" cy="459.6" r="1.9"/><circle cx="116" cy="471.9" r="1.9"/><circle cx="92.8" cy="469.9" r="1.9"/><circle cx="125.8" cy="501.3" r="1.9"/><circle cx="64" cy="481.3" r="1.9"/><circle cx="56.1" cy="443.5" r="1.9"/><circle cx="139.8" cy="485" r="1.9"/><circle cx="50.3" cy="431.9" r="1.9"/><circle cx="127" cy="482.1" r="1.9"/><circle cx="50.8" cy="461.7" r="1.9"/><circle cx="70.4" cy="453.5" r="1.9"/><circle cx="58.3" cy="445" r="1.9"/><circle cx="97.1" cy="507.4" r="1.9"/><circle cx="82.3" cy="429.7" r="1.9"/><circle cx="64.9" cy="435.2" r="1.9"/><circle cx="98.4" cy="451" r="1.9"/><circle cx="103.2" cy="446" r="1.9"/><circle cx="113" cy="466" r="1.9"/><circle cx="102.4" cy="482.2" r="1.9"/><circle cx="79.1" cy="452.2" r="1.9"/><circle cx="85.9" cy="451.2" r="1.9"/><circle cx="71.3" cy="427.9" r="1.9"/><circle cx="126.2" cy="506.2" r="1.9"/><circle cx="79.8" cy="477.3" r="1.9"/><circle cx="122.4" cy="500.2" r="1.9"/><circle cx="98.5" cy="471.4" r="1.9"/><circle cx="110.6" cy="488" r="1.9"/><circle cx="85.3" cy="484.6" r="1.9"/><circle cx="86.7" cy="464.1" r="1.9"/><circle cx="108.9" cy="480.7" r="1.9"/><circle cx="79.5" cy="475.4" r="1.9"/><circle cx="100.4" cy="463.8" r="1.9"/><circle cx="100.3" cy="495.7" r="1.9"/><circle cx="71.1" cy="425" r="1.9"/><circle cx="111.7" cy="497.3" r="1.9"/><circle cx="51.4" cy="448.1" r="1.9"/><circle cx="131" cy="496.2" r="1.9"/><circle cx="59.4" cy="423" r="1.9"/><circle cx="72.4" cy="417.3" r="1.9"/><circle cx="83" cy="494.6" r="1.9"/><circle cx="99.7" cy="456" r="1.9"/><circle cx="55.9" cy="449.6" r="1.9"/><circle cx="92.4" cy="458.8" r="1.9"/><circle cx="127.6" cy="489.7" r="1.9"/><circle cx="62.1" cy="481.1" r="1.9"/><circle cx="84.1" cy="463.5" r="1.9"/><circle cx="71" cy="446.9" r="1.9"/><circle cx="81.3" cy="448.1" r="1.9"/><circle cx="48.8" cy="428.2" r="1.9"/><circle cx="65" cy="485.2" r="1.9"/><circle cx="74.7" cy="441.8" r="1.9"/><circle cx="71.4" cy="498" r="1.9"/><circle cx="56.2" cy="476.2" r="1.9"/><circle cx="89.7" cy="493.4" r="1.9"/><circle cx="51.4" cy="454.8" r="1.9"/><circle cx="84.1" cy="484.6" r="1.9"/><circle cx="76.8" cy="451" r="1.9"/><circle cx="112.5" cy="495.5" r="1.9"/><circle cx="82.6" cy="448.5" r="1.9"/><circle cx="105.4" cy="508" r="1.9"/><circle cx="85.3" cy="464" r="1.9"/><circle cx="97.2" cy="505.5" r="1.9"/><circle cx="106.9" cy="457" r="1.9"/><circle cx="93.7" cy="498.6" r="1.9"/><circle cx="88.9" cy="458.3" r="1.9"/><circle cx="96.6" cy="462.5" r="1.9"/><circle cx="130.3" cy="480" r="1.9"/><circle cx="102.9" cy="490.9" r="1.9"/><circle cx="69.3" cy="414.5" r="1.9"/><circle cx="115.8" cy="484.5" r="1.9"/><circle cx="129.5" cy="502.2" r="1.9"/><circle cx="61.7" cy="442.9" r="1.9"/><circle cx="73.5" cy="440.5" r="1.9"/><circle cx="103.1" cy="462.4" r="1.9"/><circle cx="77.8" cy="501.6" r="1.9"/><circle cx="128" cy="500.5" r="1.9"/><circle cx="73" cy="428.3" r="1.9"/><circle cx="52.3" cy="465.2" r="1.9"/><circle cx="84.8" cy="457.2" r="1.9"/><circle cx="96.4" cy="470.4" r="1.9"/><circle cx="83.9" cy="494.4" r="1.9"/><circle cx="78.7" cy="464.8" r="1.9"/><circle cx="88.3" cy="468.3" r="1.9"/><circle cx="79.7" cy="436.2" r="1.9"/><circle cx="118.8" cy="494.5" r="1.9"/><circle cx="106.8" cy="456.2" r="1.9"/><circle cx="90.8" cy="476.5" r="1.9"/><circle cx="54.3" cy="471.8" r="1.9"/><circle cx="103.7" cy="494.4" r="1.9"/><circle cx="97.3" cy="480.4" r="1.9"/><circle cx="67.9" cy="417.1" r="1.9"/><circle cx="138.5" cy="481.7" r="1.9"/><circle cx="62.6" cy="412.3" r="1.9"/><circle cx="70.5" cy="470.2" r="1.9"/><circle cx="79.2" cy="467.9" r="1.9"/><circle cx="79.8" cy="498.8" r="1.9"/><circle cx="62.3" cy="494.2" r="1.9"/><circle cx="50.3" cy="447.9" r="1.9"/><circle cx="93.9" cy="486.4" r="1.9"/><circle cx="90.4" cy="480.9" r="1.9"/><circle cx="100.2" cy="438.1" r="1.9"/><circle cx="82.1" cy="488.8" r="1.9"/><circle cx="97.2" cy="508.6" r="1.9"/><circle cx="56.4" cy="459.5" r="1.9"/><circle cx="61.1" cy="435.9" r="1.9"/><circle cx="50.3" cy="472.1" r="1.9"/><circle cx="52.1" cy="442.8" r="1.9"/><circle cx="92.4" cy="433.3" r="1.9"/><circle cx="54" cy="467.7" r="1.9"/><circle cx="56.7" cy="466.9" r="1.9"/><circle cx="84.8" cy="479.2" r="1.9"/><circle cx="63.6" cy="424.7" r="1.9"/><circle cx="58.8" cy="460.7" r="1.9"/><circle cx="101.1" cy="461.9" r="1.9"/><circle cx="84.1" cy="427.8" r="1.9"/><circle cx="59.8" cy="432.5" r="1.9"/><circle cx="73.7" cy="409.4" r="1.9"/><circle cx="86.7" cy="463.2" r="1.9"/><circle cx="55.5" cy="469.8" r="1.9"/><circle cx="70.6" cy="471.7" r="1.9"/><circle cx="126.2" cy="484.4" r="1.9"/><circle cx="53.3" cy="433.1" r="1.9"/><circle cx="51.2" cy="474.2" r="1.9"/><circle cx="116.9" cy="495.9" r="1.9"/><circle cx="81.5" cy="495.4" r="1.9"/><circle cx="93.6" cy="507.6" r="1.9"/><circle cx="88.6" cy="450.9" r="1.9"/><circle cx="55.9" cy="433" r="1.9"/><circle cx="121.1" cy="480.9" r="1.9"/><circle cx="62.3" cy="444" r="1.9"/><circle cx="61.2" cy="427.9" r="1.9"/><circle cx="69.2" cy="442.5" r="1.9"/><circle cx="97.2" cy="492" r="1.9"/><circle cx="138.7" cy="488.9" r="1.9"/><circle cx="110.1" cy="499.3" r="1.9"/><circle cx="114.9" cy="488.3" r="1.9"/><circle cx="122.2" cy="497.9" r="1.9"/><circle cx="91" cy="497.1" r="1.9"/><circle cx="126.2" cy="502.1" r="1.9"/><circle cx="67" cy="456.5" r="1.9"/><circle cx="70.9" cy="460.4" r="1.9"/><circle cx="138.7" cy="481.6" r="1.9"/><circle cx="126.2" cy="493.6" r="1.9"/><circle cx="116" cy="509.9" r="1.9"/><circle cx="55.8" cy="478" r="1.9"/><circle cx="107.1" cy="498.3" r="1.9"/><circle cx="89.3" cy="472.7" r="1.9"/><circle cx="93.2" cy="443" r="1.9"/><circle cx="68.6" cy="445" r="1.9"/><circle cx="74.4" cy="483.4" r="1.9"/><circle cx="91.6" cy="478.9" r="1.9"/><circle cx="83.6" cy="430.7" r="1.9"/><circle cx="63.4" cy="464.2" r="1.9"/><circle cx="102.8" cy="501.1" r="1.9"/><circle cx="98.9" cy="447.6" r="1.9"/><circle cx="110" cy="455" r="1.9"/><circle cx="113.8" cy="475.7" r="1.9"/><circle cx="85" cy="463.6" r="1.9"/><circle cx="115.3" cy="506.1" r="1.9"/><circle cx="97.3" cy="446.1" r="1.9"/><circle cx="131.3" cy="481.4" r="1.9"/><circle cx="103.3" cy="455.4" r="1.9"/><circle cx="122.9" cy="504.3" r="1.9"/><circle cx="120.6" cy="488.7" r="1.9"/><circle cx="50.5" cy="441.9" r="1.9"/><circle cx="106.3" cy="469.6" r="1.9"/><circle cx="51.7" cy="449.3" r="1.9"/><circle cx="122.5" cy="476.8" r="1.9"/><circle cx="75.4" cy="490.1" r="1.9"/><circle cx="76.4" cy="466.1" r="1.9"/><circle cx="112.5" cy="494.8" r="1.9"/><circle cx="144.3" cy="484.3" r="1.9"/><circle cx="63.3" cy="469.5" r="1.9"/><circle cx="130.4" cy="493.6" r="1.9"/><circle cx="99.1" cy="502.8" r="1.9"/><circle cx="63.4" cy="487.5" r="1.9"/><circle cx="64.2" cy="440.4" r="1.9"/><circle cx="52.4" cy="438.8" r="1.9"/><circle cx="66.9" cy="441.4" r="1.9"/><circle cx="73.3" cy="449.5" r="1.9"/><circle cx="74" cy="428.5" r="1.9"/><circle cx="62.4" cy="489.5" r="1.9"/><circle cx="94.5" cy="467.7" r="1.9"/><circle cx="114.7" cy="489" r="1.9"/><circle cx="74.8" cy="446" r="1.9"/><circle cx="76.1" cy="475.5" r="1.9"/><circle cx="73.2" cy="491.1" r="1.9"/><circle cx="71.6" cy="413.7" r="1.9"/><circle cx="102.4" cy="489.2" r="1.9"/><circle cx="78" cy="477.1" r="1.9"/><circle cx="116.9" cy="491.5" r="1.9"/><circle cx="86.6" cy="494.9" r="1.9"/><circle cx="82.3" cy="426.5" r="1.9"/><circle cx="99.6" cy="479.9" r="1.9"/><circle cx="88.7" cy="461.4" r="1.9"/><circle cx="133" cy="479.7" r="1.9"/><circle cx="105.4" cy="450.5" r="1.9"/><circle cx="132.3" cy="493" r="1.9"/><circle cx="114.8" cy="489.2" r="1.9"/><circle cx="97.6" cy="505.1" r="1.9"/><circle cx="137.8" cy="488" r="1.9"/><circle cx="129.9" cy="477.6" r="1.9"/><circle cx="118.1" cy="483.7" r="1.9"/><circle cx="53.8" cy="472.6" r="1.9"/><circle cx="68.5" cy="430.7" r="1.9"/><circle cx="56.5" cy="480.6" r="1.9"/><circle cx="83.3" cy="483.2" r="1.9"/><circle cx="74.8" cy="412.5" r="1.9"/><circle cx="92" cy="467.2" r="1.9"/><circle cx="69.7" cy="475.5" r="1.9"/><circle cx="81.4" cy="442.5" r="1.9"/><circle cx="131.8" cy="495.2" r="1.9"/><circle cx="98" cy="452.8" r="1.9"/><circle cx="53.4" cy="475.5" r="1.9"/><circle cx="87.4" cy="462.5" r="1.9"/><circle cx="54.2" cy="458.7" r="1.9"/><circle cx="60.5" cy="456.1" r="1.9"/><circle cx="115.9" cy="484.2" r="1.9"/><circle cx="92.9" cy="443.7" r="1.9"/><circle cx="66.2" cy="450.5" r="1.9"/><circle cx="75.5" cy="427.4" r="1.9"/><circle cx="73.8" cy="467.8" r="1.9"/><circle cx="139.9" cy="485.7" r="1.9"/><circle cx="67.8" cy="407.4" r="1.9"/><circle cx="134.2" cy="485.7" r="1.9"/><circle cx="64.7" cy="445.2" r="1.9"/><circle cx="137.8" cy="494.8" r="1.9"/><circle cx="57.8" cy="423" r="1.9"/><circle cx="58" cy="468.2" r="1.9"/><circle cx="72.4" cy="408.3" r="1.9"/><circle cx="138.8" cy="484.4" r="1.9"/><circle cx="91.1" cy="486.8" r="1.9"/><circle cx="85.8" cy="495.6" r="1.9"/><circle cx="48.3" cy="429.6" r="1.9"/><circle cx="106.1" cy="447.8" r="1.9"/><circle cx="79.7" cy="474.9" r="1.9"/><circle cx="67.2" cy="456.4" r="1.9"/><circle cx="106.1" cy="476.2" r="1.9"/><circle cx="52.4" cy="457.9" r="1.9"/><circle cx="87.4" cy="480.2" r="1.9"/><circle cx="112.6" cy="482.4" r="1.9"/><circle cx="53.3" cy="432.3" r="1.9"/><circle cx="86.6" cy="493" r="1.9"/><circle cx="51.9" cy="432.5" r="1.9"/><circle cx="114.9" cy="508.7" r="1.9"/><circle cx="111.5" cy="507.4" r="1.9"/><circle cx="73.6" cy="422.9" r="1.9"/><circle cx="126.5" cy="504.2" r="1.9"/><circle cx="109.6" cy="471.6" r="1.9"/><circle cx="52.5" cy="466.2" r="1.9"/><circle cx="76.4" cy="449.8" r="1.9"/><circle cx="59.3" cy="477.7" r="1.9"/><circle cx="67.9" cy="453.3" r="1.9"/><circle cx="102.2" cy="444.9" r="1.9"/><circle cx="56.5" cy="486.6" r="1.9"/><circle cx="132.8" cy="499.6" r="1.9"/><circle cx="57.2" cy="446.6" r="1.9"/><circle cx="77.6" cy="490.1" r="1.9"/><circle cx="61.9" cy="472.9" r="1.9"/><circle cx="145.8" cy="490.8" r="1.9"/><circle cx="58.5" cy="482.4" r="1.9"/><circle cx="107.5" cy="463.4" r="1.9"/><circle cx="93" cy="451" r="1.9"/><circle cx="108.7" cy="477.6" r="1.9"/><circle cx="139.6" cy="486.8" r="1.9"/><circle cx="131.6" cy="485.1" r="1.9"/><circle cx="77.4" cy="444.5" r="1.9"/><circle cx="113.1" cy="508.9" r="1.9"/><circle cx="124" cy="498.3" r="1.9"/><circle cx="147.4" cy="489.1" r="1.9"/><circle cx="74.7" cy="433.6" r="1.9"/><circle cx="124.8" cy="491.5" r="1.9"/><circle cx="136.9" cy="493.7" r="1.9"/><circle cx="63.3" cy="464.6" r="1.9"/><circle cx="112.6" cy="465.4" r="1.9"/><circle cx="139.3" cy="482.1" r="1.9"/><circle cx="68.4" cy="437.7" r="1.9"/><circle cx="73.3" cy="485" r="1.9"/><circle cx="91.2" cy="481.8" r="1.9"/><circle cx="116.8" cy="488.3" r="1.9"/><circle cx="73" cy="409.1" r="1.9"/><circle cx="112" cy="471.2" r="1.9"/><circle cx="113.3" cy="472" r="1.9"/><circle cx="48.5" cy="445.9" r="1.9"/><circle cx="61.4" cy="418.5" r="1.9"/><circle cx="57.1" cy="439.5" r="1.9"/><circle cx="88.3" cy="482.1" r="1.9"/><circle cx="91.9" cy="486.4" r="1.9"/><circle cx="81.6" cy="497.8" r="1.9"/><circle cx="128.1" cy="480" r="1.9"/><circle cx="63" cy="478.7" r="1.9"/><circle cx="106.3" cy="479" r="1.9"/><circle cx="65.2" cy="421.9" r="1.9"/><circle cx="85.7" cy="478" r="1.9"/><circle cx="84" cy="463.7" r="1.9"/><circle cx="58.3" cy="433.4" r="1.9"/><circle cx="85.5" cy="490.4" r="1.9"/><circle cx="69.6" cy="427.4" r="1.9"/><circle cx="69.1" cy="448.4" r="1.9"/><circle cx="83.9" cy="476.8" r="1.9"/><circle cx="94.7" cy="502" r="1.9"/><circle cx="52.1" cy="479.2" r="1.9"/><circle cx="50" cy="454.4" r="1.9"/><circle cx="58.7" cy="456.8" r="1.9"/><circle cx="58.9" cy="458.9" r="1.9"/><circle cx="64.6" cy="431.5" r="1.9"/><circle cx="53.9" cy="445.8" r="1.9"/><circle cx="69.5" cy="488.1" r="1.9"/><circle cx="103.9" cy="502" r="1.9"/><circle cx="68.5" cy="415.2" r="1.9"/><circle cx="93.6" cy="486.7" r="1.9"/><circle cx="54.5" cy="456" r="1.9"/><circle cx="79.1" cy="428.7" r="1.9"/><circle cx="94.5" cy="487.7" r="1.9"/><circle cx="97.4" cy="472.7" r="1.9"/><circle cx="121.8" cy="500.6" r="1.9"/><circle cx="65.4" cy="431" r="1.9"/><circle cx="107.4" cy="505.5" r="1.9"/><circle cx="55.3" cy="429.9" r="1.9"/><circle cx="50.6" cy="454.4" r="1.9"/><circle cx="61.2" cy="427.1" r="1.9"/><circle cx="95.2" cy="462.5" r="1.9"/><circle cx="68.9" cy="498" r="1.9"/><circle cx="88.1" cy="443.9" r="1.9"/><circle cx="92.9" cy="468" r="1.9"/><circle cx="71.3" cy="419.3" r="1.9"/><circle cx="60.8" cy="463.6" r="1.9"/><circle cx="105.7" cy="503.8" r="1.9"/><circle cx="52.7" cy="431.9" r="1.9"/><circle cx="63.9" cy="470.6" r="1.9"/><circle cx="92.7" cy="451.1" r="1.9"/><circle cx="48.8" cy="438" r="1.9"/><circle cx="100.5" cy="499.7" r="1.9"/><circle cx="128.5" cy="478.1" r="1.9"/><circle cx="71.6" cy="478.6" r="1.9"/><circle cx="106.2" cy="494.4" r="1.9"/><circle cx="66.5" cy="414.4" r="1.9"/><circle cx="65.3" cy="482.4" r="1.9"/><circle cx="72.8" cy="432.1" r="1.9"/><circle cx="84" cy="463.8" r="1.9"/><circle cx="121.9" cy="474.9" r="1.9"/><circle cx="94.6" cy="480.2" r="1.9"/><circle cx="95" cy="480.8" r="1.9"/><circle cx="118.6" cy="477.4" r="1.9"/><circle cx="67.9" cy="451.1" r="1.9"/><circle cx="70.5" cy="487.1" r="1.9"/><circle cx="83.3" cy="479.2" r="1.9"/><circle cx="69.5" cy="429.7" r="1.9"/><circle cx="73.9" cy="409.9" r="1.9"/><circle cx="60.7" cy="450.8" r="1.9"/><circle cx="105.8" cy="510" r="1.9"/><circle cx="64.7" cy="459.2" r="1.9"/><circle cx="63.3" cy="446.8" r="1.9"/><circle cx="144.2" cy="490.6" r="1.9"/><circle cx="111.1" cy="483.8" r="1.9"/><circle cx="72.8" cy="496.7" r="1.9"/><circle cx="107.7" cy="499.8" r="1.9"/><circle cx="67" cy="407.7" r="1.9"/><circle cx="101" cy="486.1" r="1.9"/><circle cx="74.5" cy="413.7" r="1.9"/><circle cx="47.5" cy="425.1" r="1.9"/><circle cx="70.2" cy="435.3" r="1.9"/><circle cx="62" cy="443" r="1.9"/><circle cx="99.8" cy="441.3" r="1.9"/><circle cx="89.2" cy="458.8" r="1.9"/><circle cx="73.1" cy="412.1" r="1.9"/><circle cx="55.5" cy="423.9" r="1.9"/><circle cx="56.2" cy="474.9" r="1.9"/><circle cx="127" cy="486.4" r="1.9"/><circle cx="81.5" cy="460.3" r="1.9"/><circle cx="62.5" cy="482.4" r="1.9"/><circle cx="85.9" cy="485.1" r="1.9"/><circle cx="70.2" cy="494" r="1.9"/><circle cx="118.5" cy="494.7" r="1.9"/><circle cx="56.4" cy="479.2" r="1.9"/><circle cx="66.5" cy="470.3" r="1.9"/><circle cx="57.9" cy="476" r="1.9"/><circle cx="71.3" cy="434.5" r="1.9"/><circle cx="89.8" cy="464.8" r="1.9"/><circle cx="76.4" cy="476.6" r="1.9"/><circle cx="116.8" cy="473.8" r="1.9"/><circle cx="78.4" cy="479.1" r="1.9"/><circle cx="73.3" cy="423.4" r="1.9"/><circle cx="69.9" cy="491.1" r="1.9"/><circle cx="130.5" cy="485" r="1.9"/><circle cx="78.3" cy="440.8" r="1.9"/><circle cx="52" cy="462.7" r="1.9"/><circle cx="67" cy="419.2" r="1.9"/><circle cx="98.2" cy="463.5" r="1.9"/><circle cx="83.6" cy="485" r="1.9"/><circle cx="100.5" cy="491.6" r="1.9"/><circle cx="86.1" cy="459.4" r="1.9"/><circle cx="72.5" cy="479.8" r="1.9"/><circle cx="69.4" cy="441.1" r="1.9"/><circle cx="95.2" cy="484.6" r="1.9"/><circle cx="57.6" cy="456.3" r="1.9"/><circle cx="94.1" cy="474.3" r="1.9"/><circle cx="122.8" cy="491" r="1.9"/><circle cx="76.1" cy="490.7" r="1.9"/><circle cx="60.6" cy="417.8" r="1.9"/><circle cx="54.1" cy="424.1" r="1.9"/><circle cx="100.7" cy="497.9" r="1.9"/><circle cx="64.1" cy="425.2" r="1.9"/><circle cx="58.8" cy="434.6" r="1.9"/><circle cx="121.8" cy="504.4" r="1.9"/><circle cx="76.2" cy="457.3" r="1.9"/><circle cx="119.3" cy="487" r="1.9"/><circle cx="60.1" cy="427.4" r="1.9"/><circle cx="72" cy="434.2" r="1.9"/><circle cx="79.4" cy="425.1" r="1.9"/><circle cx="65.9" cy="452.2" r="1.9"/><circle cx="130" cy="501.2" r="1.9"/><circle cx="80" cy="499.6" r="1.9"/><circle cx="83.9" cy="447.3" r="1.9"/><circle cx="82.6" cy="447.7" r="1.9"/><circle cx="58.1" cy="431.1" r="1.9"/><circle cx="111.2" cy="503.9" r="1.9"/><circle cx="139.9" cy="494.7" r="1.9"/><circle cx="147.1" cy="486.3" r="1.9"/><circle cx="123.2" cy="495.7" r="1.9"/><circle cx="72.6" cy="478.4" r="1.9"/><circle cx="85.4" cy="498.7" r="1.9"/><circle cx="60.5" cy="465.5" r="1.9"/><circle cx="81" cy="496.5" r="1.9"/><circle cx="81.9" cy="499.1" r="1.9"/><circle cx="122.2" cy="480.7" r="1.9"/><circle cx="93" cy="443.4" r="1.9"/><circle cx="126.1" cy="492.3" r="1.9"/><circle cx="81.4" cy="433.5" r="1.9"/><circle cx="57.1" cy="442.1" r="1.9"/><circle cx="69.9" cy="413.8" r="1.9"/><circle cx="67" cy="457" r="1.9"/><circle cx="87.6" cy="494.5" r="1.9"/><circle cx="110.9" cy="504.7" r="1.9"/><circle cx="94.5" cy="505.3" r="1.9"/><circle cx="57.7" cy="470.8" r="1.9"/><circle cx="95.9" cy="451.9" r="1.9"/><circle cx="68" cy="446" r="1.9"/><circle cx="106.7" cy="453.7" r="1.9"/><circle cx="56.3" cy="463.8" r="1.9"/><circle cx="129.9" cy="493" r="1.9"/><circle cx="83" cy="430.5" r="1.9"/><circle cx="122.2" cy="494.5" r="1.9"/><circle cx="85.4" cy="484.3" r="1.9"/><circle cx="77.5" cy="442.3" r="1.9"/><circle cx="102.2" cy="461.2" r="1.9"/><circle cx="103.7" cy="493.7" r="1.9"/><circle cx="102.7" cy="489.8" r="1.9"/><circle cx="49.4" cy="461.4" r="1.9"/><circle cx="61.5" cy="475.6" r="1.9"/><circle cx="74.9" cy="452.4" r="1.9"/><circle cx="98.8" cy="457.7" r="1.9"/><circle cx="81.4" cy="485.1" r="1.9"/><circle cx="72.8" cy="463" r="1.9"/><circle cx="64.7" cy="472.5" r="1.9"/><circle cx="106.1" cy="485.5" r="1.9"/><circle cx="122.7" cy="484.6" r="1.9"/><circle cx="93.5" cy="476.5" r="1.9"/><circle cx="67.1" cy="423.8" r="1.9"/><circle cx="88.4" cy="474.2" r="1.9"/><circle cx="77.6" cy="423.9" r="1.9"/><circle cx="69.1" cy="415.4" r="1.9"/><circle cx="66.5" cy="440.8" r="1.9"/><circle cx="95.5" cy="454.5" r="1.9"/><circle cx="67" cy="471.3" r="1.9"/><circle cx="61.6" cy="424.7" r="1.9"/><circle cx="54.4" cy="483.4" r="1.9"/><circle cx="82.8" cy="452.9" r="1.9"/><circle cx="82.6" cy="482.2" r="1.9"/><circle cx="110.6" cy="507.5" r="1.9"/><circle cx="87.6" cy="453.7" r="1.9"/><circle cx="77.1" cy="467.2" r="1.9"/><circle cx="113.9" cy="487.1" r="1.9"/><circle cx="84" cy="500" r="1.9"/><circle cx="79.6" cy="458.9" r="1.9"/><circle cx="97.1" cy="446.1" r="1.9"/><circle cx="100.7" cy="508.6" r="1.9"/><circle cx="111.6" cy="458.6" r="1.9"/><circle cx="80.6" cy="448.7" r="1.9"/><circle cx="108.5" cy="492.7" r="1.9"/><circle cx="73.3" cy="446.9" r="1.9"/><circle cx="86.2" cy="446" r="1.9"/><circle cx="74.9" cy="442.7" r="1.9"/><circle cx="66.5" cy="412.6" r="1.9"/><circle cx="70" cy="412.4" r="1.9"/><circle cx="73.6" cy="486.9" r="1.9"/><circle cx="119.7" cy="506.4" r="1.9"/><circle cx="66.5" cy="488.5" r="1.9"/><circle cx="52.7" cy="419.7" r="1.9"/><circle cx="63.4" cy="426" r="1.9"/><circle cx="108.5" cy="480.2" r="1.9"/><circle cx="86.5" cy="434" r="1.9"/><circle cx="64.7" cy="425.9" r="1.9"/><circle cx="62.4" cy="444.7" r="1.9"/><circle cx="100.6" cy="481.1" r="1.9"/><circle cx="50.4" cy="454.5" r="1.9"/><circle cx="92.6" cy="503.3" r="1.9"/><circle cx="64.7" cy="448.3" r="1.9"/><circle cx="128" cy="492.7" r="1.9"/><circle cx="114.6" cy="468.9" r="1.9"/><circle cx="79" cy="447.6" r="1.9"/><circle cx="127" cy="493" r="1.9"/><circle cx="57.4" cy="436.5" r="1.9"/><circle cx="91.6" cy="486.1" r="1.9"/><circle cx="72.9" cy="486.6" r="1.9"/><circle cx="96.9" cy="485.6" r="1.9"/><circle cx="68.7" cy="478.2" r="1.9"/><circle cx="75.1" cy="446.9" r="1.9"/><circle cx="104.7" cy="495.2" r="1.9"/><circle cx="59" cy="488.7" r="1.9"/><circle cx="61.6" cy="481" r="1.9"/><circle cx="101.6" cy="487.7" r="1.9"/><circle cx="60.2" cy="476.3" r="1.9"/><circle cx="85" cy="433.5" r="1.9"/><circle cx="50.5" cy="457.3" r="1.9"/><circle cx="94.4" cy="485.3" r="1.9"/><circle cx="59.1" cy="426.5" r="1.9"/><circle cx="97.5" cy="443.1" r="1.9"/><circle cx="94.9" cy="492.7" r="1.9"/><circle cx="108.9" cy="513.1" r="1.9"/><circle cx="124.9" cy="475.6" r="1.9"/><circle cx="100.8" cy="500.3" r="1.9"/><circle cx="139.3" cy="494.9" r="1.9"/><circle cx="115.9" cy="488.2" r="1.9"/><circle cx="70.4" cy="457.1" r="1.9"/><circle cx="116.1" cy="467.1" r="1.9"/><circle cx="60.8" cy="457.9" r="1.9"/><circle cx="96.8" cy="435.6" r="1.9"/><circle cx="84.1" cy="467.1" r="1.9"/><circle cx="85.9" cy="466.4" r="1.9"/><circle cx="67.7" cy="419.7" r="1.9"/><circle cx="75.7" cy="475.5" r="1.9"/><circle cx="103.9" cy="510.6" r="1.9"/><circle cx="101.9" cy="501.2" r="1.9"/><circle cx="67.8" cy="462" r="1.9"/><circle cx="114.6" cy="481.5" r="1.9"/><circle cx="115.5" cy="484.7" r="1.9"/><circle cx="78.6" cy="468.7" r="1.9"/><circle cx="47.9" cy="451.9" r="1.9"/><circle cx="67.5" cy="425.8" r="1.9"/><circle cx="87.9" cy="483" r="1.9"/><circle cx="61.9" cy="446.2" r="1.9"/><circle cx="113.8" cy="511.2" r="1.9"/><circle cx="110" cy="478.1" r="1.9"/><circle cx="63.3" cy="486.1" r="1.9"/><circle cx="102.7" cy="445.6" r="1.9"/><circle cx="61.3" cy="423.5" r="1.9"/><circle cx="62.1" cy="470.9" r="1.9"/><circle cx="97.8" cy="469.4" r="1.9"/><circle cx="103.6" cy="451.5" r="1.9"/><circle cx="52.9" cy="452.6" r="1.9"/><circle cx="70.9" cy="489.5" r="1.9"/><circle cx="71.4" cy="496.9" r="1.9"/><circle cx="71.4" cy="416.2" r="1.9"/><circle cx="95.2" cy="448.8" r="1.9"/><circle cx="80.9" cy="490.4" r="1.9"/><circle cx="69.5" cy="479.9" r="1.9"/><circle cx="97.8" cy="507.9" r="1.9"/><circle cx="112.5" cy="452.7" r="1.9"/><circle cx="78.2" cy="462.5" r="1.9"/><circle cx="62.6" cy="439.7" r="1.9"/><circle cx="63.8" cy="411" r="1.9"/><circle cx="98.2" cy="443" r="1.9"/><circle cx="57.3" cy="487.9" r="1.9"/><circle cx="64" cy="479.9" r="1.9"/><circle cx="90.8" cy="479" r="1.9"/><circle cx="47.4" cy="430.6" r="1.9"/><circle cx="55.9" cy="481.9" r="1.9"/><circle cx="73.9" cy="480" r="1.9"/><circle cx="69.5" cy="450.2" r="1.9"/><circle cx="62.7" cy="413.8" r="1.9"/><circle cx="97.7" cy="459.9" r="1.9"/><circle cx="66.6" cy="479.9" r="1.9"/><circle cx="97.1" cy="495.2" r="1.9"/><circle cx="61.3" cy="459.4" r="1.9"/><circle cx="59.8" cy="481.7" r="1.9"/><circle cx="117.4" cy="469.8" r="1.9"/><circle cx="119.2" cy="494.4" r="1.9"/><circle cx="58.4" cy="441.5" r="1.9"/><circle cx="52.4" cy="470.3" r="1.9"/><circle cx="120.3" cy="501.4" r="1.9"/><circle cx="135.1" cy="485.1" r="1.9"/><circle cx="58.6" cy="448" r="1.9"/><circle cx="51.3" cy="445" r="1.9"/><circle cx="126.4" cy="501.5" r="1.9"/><circle cx="112.1" cy="510.6" r="1.9"/><circle cx="99.4" cy="459.3" r="1.9"/><circle cx="81.1" cy="447.2" r="1.9"/><circle cx="98.6" cy="470.9" r="1.9"/><circle cx="69.5" cy="436.6" r="1.9"/><circle cx="97.8" cy="461.6" r="1.9"/><circle cx="89.3" cy="479.3" r="1.9"/><circle cx="65.7" cy="464.7" r="1.9"/><circle cx="74.9" cy="491" r="1.9"/><circle cx="118.1" cy="492.2" r="1.9"/><circle cx="84.9" cy="438" r="1.9"/><circle cx="87.6" cy="484.2" r="1.9"/><circle cx="92.7" cy="445.5" r="1.9"/><circle cx="77.9" cy="445.7" r="1.9"/><circle cx="123.2" cy="486.9" r="1.9"/><circle cx="67.9" cy="431.8" r="1.9"/><circle cx="126.2" cy="478.2" r="1.9"/><circle cx="115.3" cy="476.1" r="1.9"/><circle cx="53.1" cy="445.8" r="1.9"/><circle cx="100" cy="480" r="1.9"/><circle cx="70.2" cy="443.2" r="1.9"/><circle cx="84.3" cy="435.8" r="1.9"/><circle cx="96.2" cy="484.6" r="1.9"/><circle cx="89.5" cy="440.7" r="1.9"/><circle cx="62.9" cy="437" r="1.9"/><circle cx="80.5" cy="500" r="1.9"/><circle cx="66.4" cy="491.3" r="1.9"/><circle cx="87.1" cy="471.7" r="1.9"/><circle cx="72.8" cy="408.2" r="1.9"/><circle cx="86.4" cy="447.9" r="1.9"/><circle cx="48.1" cy="447" r="1.9"/><circle cx="115.6" cy="474.9" r="1.9"/><circle cx="66" cy="408.2" r="1.9"/><circle cx="115.1" cy="473.4" r="1.9"/><circle cx="76.7" cy="428.1" r="1.9"/><circle cx="70.6" cy="470.7" r="1.9"/><circle cx="50.7" cy="441.9" r="1.9"/><circle cx="112.1" cy="472.4" r="1.9"/><circle cx="68.5" cy="440.4" r="1.9"/><circle cx="89.1" cy="446.1" r="1.9"/><circle cx="106.3" cy="447.6" r="1.9"/><circle cx="85.4" cy="431.1" r="1.9"/><circle cx="110.1" cy="491.8" r="1.9"/><circle cx="86.1" cy="494.2" r="1.9"/><circle cx="57.6" cy="434.7" r="1.9"/><circle cx="56.2" cy="446.7" r="1.9"/><circle cx="90.7" cy="462" r="1.9"/><circle cx="76.2" cy="483.5" r="1.9"/><circle cx="64.1" cy="462.3" r="1.9"/><circle cx="96.9" cy="447" r="1.9"/><circle cx="80.9" cy="473.8" r="1.9"/><circle cx="113.3" cy="464.7" r="1.9"/><circle cx="80.1" cy="442.2" r="1.9"/><circle cx="83.4" cy="450.4" r="1.9"/><circle cx="63.4" cy="479.1" r="1.9"/><circle cx="88" cy="431.7" r="1.9"/><circle cx="115.9" cy="480.6" r="1.9"/><circle cx="97.2" cy="458.1" r="1.9"/><circle cx="67" cy="425.1" r="1.9"/><circle cx="112.2" cy="482.6" r="1.9"/><circle cx="73.1" cy="477.1" r="1.9"/><circle cx="60.8" cy="473.6" r="1.9"/><circle cx="64.3" cy="462.2" r="1.9"/><circle cx="78.7" cy="466.8" r="1.9"/><circle cx="60.5" cy="459.3" r="1.9"/><circle cx="78.2" cy="480.9" r="1.9"/><circle cx="102.2" cy="474" r="1.9"/><circle cx="69.4" cy="454.8" r="1.9"/><circle cx="130" cy="478" r="1.9"/><circle cx="57.8" cy="473.5" r="1.9"/><circle cx="145.2" cy="486.3" r="1.9"/><circle cx="74" cy="499.3" r="1.9"/><circle cx="130.8" cy="482" r="1.9"/><circle cx="100.8" cy="501.2" r="1.9"/><circle cx="54.3" cy="474.9" r="1.9"/><circle cx="59.2" cy="423.6" r="1.9"/><circle cx="76.6" cy="436.8" r="1.9"/><circle cx="91.5" cy="493.8" r="1.9"/><circle cx="128.9" cy="486.8" r="1.9"/><circle cx="70" cy="416.1" r="1.9"/><circle cx="108.8" cy="501.1" r="1.9"/><circle cx="61.5" cy="483.2" r="1.9"/><circle cx="93.9" cy="492.7" r="1.9"/><circle cx="122.2" cy="497.7" r="1.9"/><circle cx="72" cy="482.7" r="1.9"/><circle cx="87" cy="430.7" r="1.9"/><circle cx="84.2" cy="462.3" r="1.9"/><circle cx="123.1" cy="488.2" r="1.9"/><circle cx="68.2" cy="444.3" r="1.9"/><circle cx="121" cy="478.6" r="1.9"/><circle cx="88" cy="463.9" r="1.9"/><circle cx="94.7" cy="461.9" r="1.9"/><circle cx="74.9" cy="476.1" r="1.9"/><circle cx="95.7" cy="447.6" r="1.9"/><circle cx="107.8" cy="475.1" r="1.9"/><circle cx="59.7" cy="491.8" r="1.9"/><circle cx="126.4" cy="480.8" r="1.9"/><circle cx="115" cy="511.1" r="1.9"/><circle cx="66.1" cy="417.1" r="1.9"/><circle cx="88.6" cy="462.2" r="1.9"/><circle cx="62.1" cy="430.4" r="1.9"/><circle cx="62" cy="426.2" r="1.9"/><circle cx="95" cy="465.3" r="1.9"/><circle cx="91.4" cy="461.6" r="1.9"/><circle cx="104.6" cy="465.4" r="1.9"/><circle cx="69" cy="492.2" r="1.9"/><circle cx="77.9" cy="486.2" r="1.9"/><circle cx="70.1" cy="469.2" r="1.9"/><circle cx="112" cy="482.3" r="1.9"/><circle cx="62.5" cy="466.8" r="1.9"/><circle cx="131.7" cy="502" r="1.9"/><circle cx="52.1" cy="433.4" r="1.9"/><circle cx="55.5" cy="433.9" r="1.9"/><circle cx="55.7" cy="460" r="1.9"/><circle cx="72.3" cy="439.1" r="1.9"/><circle cx="93.6" cy="447" r="1.9"/><circle cx="126.6" cy="485.7" r="1.9"/><circle cx="58.5" cy="430.7" r="1.9"/><circle cx="47.8" cy="442.3" r="1.9"/><circle cx="57.9" cy="482.9" r="1.9"/><circle cx="68.1" cy="410" r="1.9"/><circle cx="91.5" cy="454.2" r="1.9"/><circle cx="124.6" cy="497.7" r="1.9"/><circle cx="88" cy="504.3" r="1.9"/><circle cx="88.2" cy="478.9" r="1.9"/><circle cx="103.5" cy="456.9" r="1.9"/><circle cx="103.3" cy="501.4" r="1.9"/><circle cx="55.1" cy="446.7" r="1.9"/><circle cx="110.8" cy="499" r="1.9"/><circle cx="77.3" cy="484.6" r="1.9"/><circle cx="111.9" cy="478.5" r="1.9"/><circle cx="91.6" cy="441.9" r="1.9"/><circle cx="59.9" cy="480" r="1.9"/><circle cx="76" cy="493.2" r="1.9"/><circle cx="77.9" cy="466.2" r="1.9"/><circle cx="65.1" cy="449.6" r="1.9"/><circle cx="97.6" cy="451.8" r="1.9"/><circle cx="59.4" cy="463.7" r="1.9"/><circle cx="85.7" cy="454" r="1.9"/><circle cx="79.5" cy="477.3" r="1.9"/><circle cx="92.3" cy="502.4" r="1.9"/><circle cx="67.5" cy="454.6" r="1.9"/><circle cx="62.4" cy="463.3" r="1.9"/><circle cx="103.6" cy="451.9" r="1.9"/><circle cx="50.4" cy="455" r="1.9"/><circle cx="106.2" cy="484.4" r="1.9"/><circle cx="58" cy="439.3" r="1.9"/><circle cx="62.3" cy="430.5" r="1.9"/><circle cx="66.6" cy="463.1" r="1.9"/><circle cx="89.1" cy="433.8" r="1.9"/><circle cx="71.3" cy="498.6" r="1.9"/><circle cx="88.2" cy="471.9" r="1.9"/><circle cx="53.5" cy="482.5" r="1.9"/><circle cx="106.3" cy="485.6" r="1.9"/><circle cx="75.1" cy="460.8" r="1.9"/><circle cx="65.9" cy="454.2" r="1.9"/><circle cx="75.4" cy="470.6" r="1.9"/><circle cx="77.2" cy="436.3" r="1.9"/><circle cx="70.1" cy="418.7" r="1.9"/><circle cx="98.4" cy="461.6" r="1.9"/><circle cx="88.6" cy="504.5" r="1.9"/><circle cx="112.4" cy="495.3" r="1.9"/><circle cx="73.2" cy="474" r="1.9"/><circle cx="66.6" cy="457" r="1.9"/><circle cx="95" cy="477.7" r="1.9"/><circle cx="86.5" cy="452.9" r="1.9"/><circle cx="84.8" cy="482.8" r="1.9"/><circle cx="121.8" cy="477.7" r="1.9"/><circle cx="87.6" cy="468.8" r="1.9"/><circle cx="94" cy="498.6" r="1.9"/><circle cx="71.3" cy="488" r="1.9"/><circle cx="119.2" cy="509.6" r="1.9"/><circle cx="74" cy="492.9" r="1.9"/><circle cx="95" cy="440.5" r="1.9"/><circle cx="84.2" cy="494.2" r="1.9"/><circle cx="132.1" cy="499.2" r="1.9"/><circle cx="62.7" cy="468.7" r="1.9"/><circle cx="68.4" cy="443.1" r="1.9"/><circle cx="57.3" cy="423.1" r="1.9"/><circle cx="74" cy="449.6" r="1.9"/><circle cx="48.2" cy="454.1" r="1.9"/><circle cx="70.1" cy="433.9" r="1.9"/><circle cx="118.7" cy="470.2" r="1.9"/><circle cx="118.8" cy="495.3" r="1.9"/><circle cx="125.7" cy="475.3" r="1.9"/><circle cx="107.5" cy="507.7" r="1.9"/><circle cx="80.7" cy="483.9" r="1.9"/><circle cx="113.9" cy="509.4" r="1.9"/><circle cx="93.6" cy="489.8" r="1.9"/><circle cx="109.6" cy="495.3" r="1.9"/><circle cx="72.1" cy="481.4" r="1.9"/><circle cx="60.7" cy="460.4" r="1.9"/><circle cx="127.1" cy="475.7" r="1.9"/><circle cx="64.6" cy="414.4" r="1.9"/><circle cx="95.6" cy="451.5" r="1.9"/><circle cx="132.8" cy="492" r="1.9"/><circle cx="77.8" cy="460.2" r="1.9"/><circle cx="86.9" cy="477.2" r="1.9"/><circle cx="98" cy="441.6" r="1.9"/><circle cx="67.5" cy="443" r="1.9"/><circle cx="52.6" cy="452.7" r="1.9"/><circle cx="131.5" cy="483" r="1.9"/><circle cx="106.2" cy="470" r="1.9"/><circle cx="48.3" cy="448.3" r="1.9"/><circle cx="73.4" cy="474.5" r="1.9"/><circle cx="53.6" cy="465.8" r="1.9"/><circle cx="84.9" cy="460.3" r="1.9"/><circle cx="120.9" cy="494.3" r="1.9"/><circle cx="107.5" cy="502.1" r="1.9"/><circle cx="146.6" cy="489.7" r="1.9"/><circle cx="105.3" cy="447.8" r="1.9"/><circle cx="76.9" cy="490" r="1.9"/><circle cx="101.8" cy="508.4" r="1.9"/><circle cx="104.2" cy="506.8" r="1.9"/><circle cx="49.9" cy="456.8" r="1.9"/><circle cx="102.8" cy="486.2" r="1.9"/><circle cx="95.3" cy="476" r="1.9"/><circle cx="100.9" cy="483.8" r="1.9"/><circle cx="85.5" cy="431" r="1.9"/><circle cx="106.3" cy="511.3" r="1.9"/><circle cx="72" cy="462.9" r="1.9"/><circle cx="86" cy="444.2" r="1.9"/><circle cx="103.4" cy="491.4" r="1.9"/><circle cx="74.3" cy="460.4" r="1.9"/><circle cx="102.3" cy="508.4" r="1.9"/><circle cx="53.5" cy="442.4" r="1.9"/><circle cx="62.7" cy="420.8" r="1.9"/><circle cx="77.7" cy="483.3" r="1.9"/><circle cx="70.1" cy="406.1" r="1.9"/><circle cx="134.6" cy="497.1" r="1.9"/><circle cx="125.1" cy="475.9" r="1.9"/><circle cx="80.1" cy="498" r="1.9"/><circle cx="116" cy="481.5" r="1.9"/><circle cx="74.8" cy="433.8" r="1.9"/><circle cx="71.5" cy="482.9" r="1.9"/><circle cx="125.6" cy="490.6" r="1.9"/><circle cx="75.5" cy="491.1" r="1.9"/><circle cx="94.1" cy="496" r="1.9"/><circle cx="63.1" cy="417.8" r="1.9"/><circle cx="82.2" cy="503.1" r="1.9"/><circle cx="63.3" cy="414.1" r="1.9"/><circle cx="71.9" cy="479.2" r="1.9"/><circle cx="81.4" cy="432.7" r="1.9"/><circle cx="126.7" cy="484.8" r="1.9"/><circle cx="85.9" cy="438.3" r="1.9"/><circle cx="75.5" cy="487.6" r="1.9"/><circle cx="68.6" cy="441.9" r="1.9"/><circle cx="111.5" cy="459" r="1.9"/><circle cx="104.2" cy="501.2" r="1.9"/><circle cx="72.9" cy="434.5" r="1.9"/><circle cx="57.4" cy="461.4" r="1.9"/><circle cx="95.6" cy="448.2" r="1.9"/><circle cx="111.3" cy="487.7" r="1.9"/><circle cx="78.1" cy="462.8" r="1.9"/><circle cx="76.1" cy="455.2" r="1.9"/><circle cx="94.3" cy="506.7" r="1.9"/><circle cx="111.7" cy="502.3" r="1.9"/><circle cx="127.8" cy="486.7" r="1.9"/><circle cx="69.3" cy="447.4" r="1.9"/><circle cx="88.9" cy="469.6" r="1.9"/><circle cx="99.4" cy="470.4" r="1.9"/><circle cx="88.8" cy="444.7" r="1.9"/><circle cx="101.8" cy="453" r="1.9"/><circle cx="72.3" cy="440.8" r="1.9"/><circle cx="96.9" cy="455.2" r="1.9"/><circle cx="67.9" cy="411.9" r="1.9"/><circle cx="63.1" cy="444.2" r="1.9"/><circle cx="126" cy="504.1" r="1.9"/><circle cx="70.9" cy="492.1" r="1.9"/><circle cx="91.6" cy="465.3" r="1.9"/><circle cx="53.7" cy="479.7" r="1.9"/><circle cx="102.9" cy="478.2" r="1.9"/><circle cx="69.7" cy="410.8" r="1.9"/><circle cx="121.4" cy="475" r="1.9"/><circle cx="75.2" cy="455.2" r="1.9"/><circle cx="70.5" cy="426.5" r="1.9"/><circle cx="65.3" cy="496" r="1.9"/><circle cx="92.8" cy="484.9" r="1.9"/><circle cx="82.1" cy="495" r="1.9"/><circle cx="107.2" cy="478.2" r="1.9"/><circle cx="86.7" cy="468" r="1.9"/><circle cx="114.9" cy="464.8" r="1.9"/><circle cx="80.8" cy="431.5" r="1.9"/><circle cx="91.9" cy="501.8" r="1.9"/><circle cx="126" cy="485.3" r="1.9"/><circle cx="77.5" cy="431.6" r="1.9"/><circle cx="50" cy="466.2" r="1.9"/><circle cx="86.2" cy="490.9" r="1.9"/><circle cx="78.8" cy="429" r="1.9"/><circle cx="69" cy="458.1" r="1.9"/><circle cx="114.2" cy="490.3" r="1.9"/><circle cx="111.3" cy="454.9" r="1.9"/><circle cx="121" cy="479.8" r="1.9"/><circle cx="67.8" cy="465" r="1.9"/><circle cx="107.4" cy="486.4" r="1.9"/><circle cx="67" cy="440.3" r="1.9"/><circle cx="82.2" cy="486.5" r="1.9"/><circle cx="56.7" cy="433.8" r="1.9"/><circle cx="99" cy="435.8" r="1.9"/><circle cx="75.6" cy="488.7" r="1.9"/><circle cx="80.3" cy="441.4" r="1.9"/><circle cx="67" cy="453.5" r="1.9"/><circle cx="74.5" cy="429.4" r="1.9"/><circle cx="58.8" cy="446.5" r="1.9"/><circle cx="59.1" cy="425.8" r="1.9"/><circle cx="72.3" cy="469.8" r="1.9"/><circle cx="92.1" cy="439.7" r="1.9"/><circle cx="100.1" cy="491.4" r="1.9"/><circle cx="139.7" cy="493.3" r="1.9"/><circle cx="103.7" cy="458.5" r="1.9"/><circle cx="101.1" cy="498" r="1.9"/><circle cx="82.4" cy="461" r="1.9"/><circle cx="110.3" cy="452.9" r="1.9"/><circle cx="74.7" cy="419" r="1.9"/><circle cx="62" cy="464.3" r="1.9"/><circle cx="64.6" cy="493.7" r="1.9"/><circle cx="56.7" cy="474.7" r="1.9"/><circle cx="69" cy="490.4" r="1.9"/><circle cx="81.1" cy="449.9" r="1.9"/><circle cx="67.2" cy="466.2" r="1.9"/><circle cx="132.7" cy="491.4" r="1.9"/><circle cx="133.8" cy="480.7" r="1.9"/><circle cx="55.3" cy="483.7" r="1.9"/><circle cx="120.5" cy="472.9" r="1.9"/><circle cx="91.3" cy="471.7" r="1.9"/><circle cx="74.3" cy="410.5" r="1.9"/><circle cx="114.1" cy="470.3" r="1.9"/><circle cx="60.2" cy="451.6" r="1.9"/><circle cx="98.7" cy="494.5" r="1.9"/><circle cx="89.4" cy="435.4" r="1.9"/><circle cx="71.2" cy="456.7" r="1.9"/><circle cx="112.4" cy="468.9" r="1.9"/><circle cx="68.7" cy="407.8" r="1.9"/><circle cx="80.2" cy="440.6" r="1.9"/><circle cx="59.5" cy="452.1" r="1.9"/><circle cx="95.9" cy="503" r="1.9"/><circle cx="117.4" cy="486.5" r="1.9"/><circle cx="103" cy="471.7" r="1.9"/><circle cx="81.8" cy="497" r="1.9"/><circle cx="58.9" cy="429.2" r="1.9"/><circle cx="57.8" cy="485.9" r="1.9"/><circle cx="122.3" cy="477.5" r="1.9"/><circle cx="103.8" cy="507.6" r="1.9"/><circle cx="112.5" cy="478.4" r="1.9"/><circle cx="106.5" cy="460.5" r="1.9"/><circle cx="60" cy="453" r="1.9"/><circle cx="89.6" cy="453.7" r="1.9"/><circle cx="103.7" cy="445.9" r="1.9"/><circle cx="86.5" cy="453.1" r="1.9"/><circle cx="92.3" cy="471.3" r="1.9"/><circle cx="84.1" cy="432.4" r="1.9"/><circle cx="94" cy="441.7" r="1.9"/><circle cx="72.7" cy="483" r="1.9"/><circle cx="86.1" cy="431.8" r="1.9"/><circle cx="127.6" cy="501.3" r="1.9"/><circle cx="61.7" cy="412.7" r="1.9"/><circle cx="128.7" cy="479.4" r="1.9"/><circle cx="94.8" cy="504.4" r="1.9"/><circle cx="57.1" cy="470.9" r="1.9"/><circle cx="89.5" cy="433.5" r="1.9"/><circle cx="140.8" cy="486.6" r="1.9"/><circle cx="59.3" cy="431.3" r="1.9"/><circle cx="81.6" cy="469.2" r="1.9"/><circle cx="79.8" cy="454.5" r="1.9"/><circle cx="80.1" cy="472.9" r="1.9"/><circle cx="58.2" cy="451.3" r="1.9"/><circle cx="110" cy="476.4" r="1.9"/><circle cx="59.5" cy="467.8" r="1.9"/><circle cx="64.3" cy="439.8" r="1.9"/><circle cx="109.5" cy="505.4" r="1.9"/><circle cx="99" cy="434.1" r="1.9"/><circle cx="73.5" cy="454.4" r="1.9"/><circle cx="66.4" cy="420.5" r="1.9"/><circle cx="68.6" cy="442.7" r="1.9"/><circle cx="86.9" cy="489.8" r="1.9"/><circle cx="87.8" cy="458.4" r="1.9"/><circle cx="87" cy="491.4" r="1.9"/><circle cx="74.4" cy="420.9" r="1.9"/><circle cx="64.9" cy="443.1" r="1.9"/><circle cx="115.8" cy="466" r="1.9"/><circle cx="73.2" cy="429.4" r="1.9"/><circle cx="80" cy="433.4" r="1.9"/><circle cx="76.4" cy="436.9" r="1.9"/><circle cx="82" cy="493.2" r="1.9"/><circle cx="126.6" cy="483" r="1.9"/><circle cx="63.6" cy="434.5" r="1.9"/><circle cx="100.4" cy="496.7" r="1.9"/><circle cx="106.2" cy="453.4" r="1.9"/><circle cx="72.9" cy="499.5" r="1.9"/><circle cx="58.8" cy="478.1" r="1.9"/><circle cx="67.1" cy="494.9" r="1.9"/><circle cx="74.5" cy="415.6" r="1.9"/><circle cx="65.9" cy="454.1" r="1.9"/><circle cx="63.6" cy="475.5" r="1.9"/><circle cx="113.4" cy="462.3" r="1.9"/><circle cx="58.2" cy="425.2" r="1.9"/><circle cx="71.4" cy="462.7" r="1.9"/><circle cx="95.1" cy="467.1" r="1.9"/><circle cx="120.4" cy="504.6" r="1.9"/><circle cx="107.8" cy="492.3" r="1.9"/><circle cx="60" cy="438.5" r="1.9"/><circle cx="133" cy="482" r="1.9"/><circle cx="58" cy="481.7" r="1.9"/><circle cx="62.7" cy="478.7" r="1.9"/><circle cx="63.6" cy="450.4" r="1.9"/><circle cx="59.8" cy="448.5" r="1.9"/><circle cx="102.7" cy="466.9" r="1.9"/><circle cx="87.8" cy="494.3" r="1.9"/><circle cx="55.9" cy="442.4" r="1.9"/><circle cx="140" cy="490.4" r="1.9"/><circle cx="101.1" cy="492.9" r="1.9"/><circle cx="72.8" cy="416.8" r="1.9"/><circle cx="88.2" cy="465.4" r="1.9"/><circle cx="57.2" cy="483.9" r="1.9"/><circle cx="127.4" cy="493.8" r="1.9"/><circle cx="61.7" cy="490" r="1.9"/><circle cx="79.4" cy="462.6" r="1.9"/><circle cx="122.3" cy="503.4" r="1.9"/><circle cx="82.7" cy="482.5" r="1.9"/><circle cx="87.8" cy="501.1" r="1.9"/><circle cx="83.6" cy="436.2" r="1.9"/><circle cx="136.4" cy="494.4" r="1.9"/><circle cx="100.4" cy="467.1" r="1.9"/><circle cx="101.5" cy="451.3" r="1.9"/><circle cx="61" cy="480.2" r="1.9"/><circle cx="111.7" cy="495" r="1.9"/><circle cx="117" cy="508.7" r="1.9"/><circle cx="70.9" cy="491.9" r="1.9"/><circle cx="62.4" cy="464.6" r="1.9"/><circle cx="100.3" cy="505.4" r="1.9"/><circle cx="95.4" cy="436.7" r="1.9"/><circle cx="144" cy="492.4" r="1.9"/><circle cx="136" cy="481.5" r="1.9"/><circle cx="92.5" cy="468.1" r="1.9"/><circle cx="137.6" cy="484.8" r="1.9"/><circle cx="96.4" cy="499.8" r="1.9"/><circle cx="62" cy="443.3" r="1.9"/><circle cx="119.1" cy="496.9" r="1.9"/><circle cx="59.4" cy="414.4" r="1.9"/><circle cx="73.4" cy="455.4" r="1.9"/><circle cx="91.9" cy="440" r="1.9"/><circle cx="120.4" cy="497.1" r="1.9"/><circle cx="54.6" cy="419.6" r="1.9"/><circle cx="69.4" cy="430.5" r="1.9"/><circle cx="49.4" cy="436.2" r="1.9"/><circle cx="52.7" cy="464.3" r="1.9"/><circle cx="77.4" cy="480.3" r="1.9"/><circle cx="103.7" cy="471.9" r="1.9"/><circle cx="77.3" cy="487.1" r="1.9"/><circle cx="116.6" cy="484.8" r="1.9"/><circle cx="94.6" cy="457.2" r="1.9"/><circle cx="94.1" cy="474" r="1.9"/><circle cx="64.7" cy="435.9" r="1.9"/><circle cx="82.7" cy="444.5" r="1.9"/><circle cx="77.8" cy="425.4" r="1.9"/><circle cx="101.8" cy="486.9" r="1.9"/><circle cx="57.5" cy="447.2" r="1.9"/><circle cx="73.6" cy="467.9" r="1.9"/><circle cx="83.4" cy="469.7" r="1.9"/><circle cx="72.7" cy="446.5" r="1.9"/><circle cx="118.5" cy="478" r="1.9"/><circle cx="54.2" cy="482.9" r="1.9"/><circle cx="74.8" cy="463.2" r="1.9"/><circle cx="146.1" cy="486.6" r="1.9"/><circle cx="114.6" cy="499" r="1.9"/><circle cx="88.3" cy="467.7" r="1.9"/><circle cx="101.2" cy="469.4" r="1.9"/><circle cx="88.6" cy="471.3" r="1.9"/><circle cx="56.3" cy="484.7" r="1.9"/><circle cx="60.3" cy="434.2" r="1.9"/><circle cx="128.6" cy="501.1" r="1.9"/><circle cx="48.9" cy="453.6" r="1.9"/><circle cx="71" cy="470.9" r="1.9"/><circle cx="54.6" cy="482.6" r="1.9"/><circle cx="57.9" cy="430.6" r="1.9"/><circle cx="79.8" cy="440.9" r="1.9"/><circle cx="87.6" cy="483.3" r="1.9"/><circle cx="79.7" cy="493.9" r="1.9"/><circle cx="65.6" cy="417.2" r="1.9"/><circle cx="110.3" cy="456" r="1.9"/><circle cx="122.4" cy="479.9" r="1.9"/><circle cx="108.8" cy="489.7" r="1.9"/><circle cx="94.7" cy="458.1" r="1.9"/><circle cx="116.3" cy="473.2" r="1.9"/><circle cx="93.8" cy="466.7" r="1.9"/><circle cx="69.5" cy="475.6" r="1.9"/><circle cx="91.1" cy="478" r="1.9"/><circle cx="53.6" cy="439.8" r="1.9"/><circle cx="95.1" cy="488.2" r="1.9"/><circle cx="110.7" cy="508.6" r="1.9"/><circle cx="100.1" cy="475.8" r="1.9"/><circle cx="83.1" cy="474.4" r="1.9"/><circle cx="72.2" cy="441.4" r="1.9"/><circle cx="50.7" cy="439" r="1.9"/><circle cx="108.6" cy="495.2" r="1.9"/><circle cx="86.4" cy="463.8" r="1.9"/><circle cx="89.5" cy="454.4" r="1.9"/><circle cx="139.7" cy="487.2" r="1.9"/><circle cx="115" cy="475.6" r="1.9"/><circle cx="78.6" cy="435.5" r="1.9"/><circle cx="49" cy="443.6" r="1.9"/><circle cx="120.3" cy="495.3" r="1.9"/><circle cx="126.7" cy="493.4" r="1.9"/><circle cx="59.2" cy="441.9" r="1.9"/><circle cx="88.9" cy="491.1" r="1.9"/><circle cx="69.9" cy="441.8" r="1.9"/><circle cx="53.1" cy="454" r="1.9"/><circle cx="97.1" cy="483.4" r="1.9"/><circle cx="99.5" cy="490.7" r="1.9"/><circle cx="81" cy="451.6" r="1.9"/><circle cx="122.2" cy="483.5" r="1.9"/><circle cx="132.7" cy="487.3" r="1.9"/><circle cx="104.9" cy="451" r="1.9"/><circle cx="56.8" cy="440.4" r="1.9"/><circle cx="119.4" cy="486.7" r="1.9"/><circle cx="119.9" cy="497.1" r="1.9"/><circle cx="104" cy="449.6" r="1.9"/><circle cx="74.2" cy="422.4" r="1.9"/><circle cx="73.7" cy="462.2" r="1.9"/><circle cx="53" cy="439.4" r="1.9"/><circle cx="101.5" cy="459.2" r="1.9"/><circle cx="111.4" cy="470.6" r="1.9"/><circle cx="58.3" cy="430.5" r="1.9"/><circle cx="49" cy="460.5" r="1.9"/><circle cx="47.6" cy="434.6" r="1.9"/><circle cx="85.6" cy="428.6" r="1.9"/><circle cx="47.2" cy="434.7" r="1.9"/><circle cx="71.6" cy="441.8" r="1.9"/><circle cx="88.9" cy="445.7" r="1.9"/><circle cx="131.6" cy="487.5" r="1.9"/><circle cx="59.3" cy="461.3" r="1.9"/><circle cx="79.3" cy="474.2" r="1.9"/><circle cx="115" cy="475.3" r="1.9"/><circle cx="131.6" cy="501.4" r="1.9"/><circle cx="82" cy="428.1" r="1.9"/><circle cx="133.9" cy="496.4" r="1.9"/><circle cx="105" cy="480.3" r="1.9"/><circle cx="70.6" cy="448.1" r="1.9"/><circle cx="65.6" cy="421" r="1.9"/><circle cx="75.1" cy="476.6" r="1.9"/><circle cx="111.4" cy="463.9" r="1.9"/><circle cx="133.2" cy="489" r="1.9"/><circle cx="68.2" cy="465" r="1.9"/><circle cx="64.1" cy="432.7" r="1.9"/><circle cx="61.8" cy="414.5" r="1.9"/><circle cx="69.1" cy="471.3" r="1.9"/><circle cx="56.5" cy="468.5" r="1.9"/><circle cx="106.5" cy="464.4" r="1.9"/><circle cx="87" cy="452.7" r="1.9"/><circle cx="101.6" cy="498.6" r="1.9"/><circle cx="101.4" cy="485.1" r="1.9"/><circle cx="111.5" cy="511.8" r="1.9"/><circle cx="145" cy="489.9" r="1.9"/><circle cx="68.9" cy="468.7" r="1.9"/><circle cx="91.4" cy="431.5" r="1.9"/><circle cx="90.1" cy="484" r="1.9"/><circle cx="73.7" cy="479.8" r="1.9"/><circle cx="92.2" cy="445.4" r="1.9"/><circle cx="49.6" cy="457.9" r="1.9"/><circle cx="100.8" cy="440" r="1.9"/><circle cx="57.6" cy="459.4" r="1.9"/><circle cx="54.1" cy="424.9" r="1.9"/><circle cx="91.8" cy="444.4" r="1.9"/><circle cx="97.5" cy="464.5" r="1.9"/><circle cx="48.9" cy="467.7" r="1.9"/><circle cx="82.5" cy="441.2" r="1.9"/><circle cx="60.4" cy="428.7" r="1.9"/><circle cx="84.3" cy="450.1" r="1.9"/><circle cx="91.4" cy="469.5" r="1.9"/><circle cx="107.1" cy="497.4" r="1.9"/><circle cx="69.5" cy="435.9" r="1.9"/><circle cx="58.7" cy="429.2" r="1.9"/><circle cx="88.8" cy="492.4" r="1.9"/><circle cx="119" cy="493.5" r="1.9"/><circle cx="83.1" cy="495.8" r="1.9"/><circle cx="94.6" cy="504.4" r="1.9"/><circle cx="95.3" cy="434.4" r="1.9"/><circle cx="65.8" cy="406.2" r="1.9"/><circle cx="69.3" cy="407.5" r="1.9"/><circle cx="132.5" cy="479.2" r="1.9"/><circle cx="98.1" cy="433.8" r="1.9"/><circle cx="143.7" cy="481" r="1.9"/><circle cx="113.6" cy="452.4" r="1.9"/><circle cx="108.7" cy="450.4" r="1.9"/><circle cx="66.6" cy="405.6" r="1.9"/><circle cx="102.9" cy="440.9" r="1.9"/><circle cx="98.4" cy="436" r="1.9"/><circle cx="102.9" cy="446.2" r="1.9"/><circle cx="147.2" cy="483.1" r="1.9"/><circle cx="55.7" cy="415.8" r="1.9"/><circle cx="77.2" cy="416.6" r="1.9"/><circle cx="64.3" cy="411.3" r="1.9"/><circle cx="137.3" cy="479.3" r="1.9"/><circle cx="98.7" cy="434.9" r="1.9"/><circle cx="69.7" cy="408.4" r="1.9"/><circle cx="49.1" cy="417.8" r="1.9"/><circle cx="118.8" cy="472.2" r="1.9"/><circle cx="76.2" cy="408.8" r="1.9"/><circle cx="51.1" cy="414.2" r="1.9"/><circle cx="91" cy="429" r="1.9"/><circle cx="114.4" cy="466.4" r="1.9"/><circle cx="102.1" cy="445.4" r="1.9"/><circle cx="96.3" cy="434.5" r="1.9"/><circle cx="114" cy="460.8" r="1.9"/><circle cx="52.6" cy="416.6" r="1.9"/><circle cx="148.9" cy="486.4" r="1.9"/><circle cx="63.8" cy="411.8" r="1.9"/><circle cx="102.3" cy="435.9" r="1.9"/><circle cx="60.6" cy="409.6" r="1.9"/><circle cx="112.6" cy="452.1" r="1.9"/><circle cx="46.4" cy="421.9" r="1.9"/><circle cx="75.4" cy="417.3" r="1.9"/><circle cx="62.3" cy="413.7" r="1.9"/><circle cx="106.4" cy="445.2" r="1.9"/><circle cx="112.3" cy="451.2" r="1.9"/><circle cx="101.1" cy="440.6" r="1.9"/><circle cx="112.4" cy="455" r="1.9"/><circle cx="77.2" cy="414.2" r="1.9"/><circle cx="86.6" cy="427.9" r="1.9"/><circle cx="75.6" cy="413.7" r="1.9"/><circle cx="85.7" cy="428.8" r="1.9"/><circle cx="148.2" cy="486.2" r="1.9"/><circle cx="108.1" cy="448.1" r="1.9"/><circle cx="114.2" cy="465.8" r="1.9"/><circle cx="80.3" cy="424.2" r="1.9"/><circle cx="100.3" cy="433.7" r="1.9"/><circle cx="76.2" cy="414.9" r="1.9"/><circle cx="75.7" cy="410" r="1.9"/><circle cx="83.3" cy="428.9" r="1.9"/><circle cx="141.5" cy="479.9" r="1.9"/><circle cx="57.1" cy="413.9" r="1.9"/><circle cx="133.9" cy="478.1" r="1.9"/><circle cx="97.2" cy="431.3" r="1.9"/><circle cx="86.8" cy="429" r="1.9"/><circle cx="107.6" cy="447.1" r="1.9"/><circle cx="74.1" cy="415.4" r="1.9"/><circle cx="109.3" cy="448.1" r="1.9"/><circle cx="142" cy="481.1" r="1.9"/><circle cx="77.3" cy="420.3" r="1.9"/><circle cx="98.8" cy="436.9" r="1.9"/><circle cx="73" cy="406.8" r="1.9"/><circle cx="102.2" cy="437" r="1.9"/><circle cx="56.3" cy="415.5" r="1.9"/><circle cx="111.7" cy="448.9" r="1.9"/><circle cx="51.1" cy="418.6" r="1.9"/><circle cx="109.6" cy="447.6" r="1.9"/><circle cx="140.2" cy="479.5" r="1.9"/><circle cx="118" cy="466.4" r="1.9"/><circle cx="115.2" cy="453.8" r="1.9"/><circle cx="100.9" cy="433.4" r="1.9"/><circle cx="66.6" cy="409.7" r="1.9"/><circle cx="46.3" cy="420.4" r="1.9"/><circle cx="146.9" cy="484.3" r="1.9"/><circle cx="60.7" cy="411.2" r="1.9"/><circle cx="80.2" cy="424.6" r="1.9"/><circle cx="53.4" cy="416.8" r="1.9"/><circle cx="141.2" cy="479.1" r="1.9"/><circle cx="135" cy="481.7" r="1.9"/><circle cx="99.4" cy="439.1" r="1.9"/><circle cx="71" cy="406.7" r="1.9"/><circle cx="139.6" cy="480.2" r="1.9"/><circle cx="115.6" cy="457.9" r="1.9"/><circle cx="76.8" cy="418.5" r="1.9"/><circle cx="73.3" cy="410.6" r="1.9"/><circle cx="112.6" cy="456.5" r="1.9"/><circle cx="146" cy="486.5" r="1.9"/><circle cx="77.1" cy="421.8" r="1.9"/><circle cx="136.1" cy="477.8" r="1.9"/><circle cx="116.6" cy="464.2" r="1.9"/><circle cx="114.9" cy="457.1" r="1.9"/><circle cx="114.2" cy="462.3" r="1.9"/><circle cx="132.8" cy="478.5" r="1.9"/><circle cx="116.2" cy="464.8" r="1.9"/><circle cx="102.4" cy="446.3" r="1.9"/><circle cx="54" cy="418.6" r="1.9"/><circle cx="112.8" cy="458.4" r="1.9"/><circle cx="78.9" cy="419.3" r="1.9"/><circle cx="112.8" cy="448.7" r="1.9"/><circle cx="130.3" cy="478.3" r="1.9"/><circle cx="129.8" cy="477.2" r="1.9"/><circle cx="83.2" cy="429.7" r="1.9"/><circle cx="115.5" cy="461.8" r="1.9"/><circle cx="134.4" cy="480" r="1.9"/><circle cx="115.7" cy="461.7" r="1.9"/><circle cx="75" cy="415.9" r="1.9"/><circle cx="84.7" cy="427.5" r="1.9"/><circle cx="146" cy="485.1" r="1.9"/><circle cx="59.7" cy="410.9" r="1.9"/><circle cx="103.9" cy="440.7" r="1.9"/><circle cx="84.4" cy="430.1" r="1.9"/><circle cx="55.2" cy="417.6" r="1.9"/><circle cx="58.1" cy="416.6" r="1.9"/><circle cx="88.6" cy="430.2" r="1.9"/><circle cx="104.8" cy="444.9" r="1.9"/><circle cx="79" cy="425.4" r="1.9"/><circle cx="114.6" cy="454.1" r="1.9"/><circle cx="58.9" cy="415.2" r="1.9"/><circle cx="102.2" cy="434.1" r="1.9"/><circle cx="111.4" cy="454.4" r="1.9"/><circle cx="116.1" cy="470.5" r="1.9"/><circle cx="148.3" cy="486.1" r="1.9"/><circle cx="147.1" cy="481.8" r="1.9"/><circle cx="130.2" cy="477" r="1.9"/><circle cx="113.6" cy="458.4" r="1.9"/><circle cx="82.7" cy="425.3" r="1.9"/><circle cx="80.2" cy="417.8" r="1.9"/><circle cx="54.3" cy="414.1" r="1.9"/><circle cx="46.8" cy="427" r="1.9"/><circle cx="47.1" cy="440.1" r="1.9"/><circle cx="58.3" cy="492" r="1.9"/><circle cx="75.3" cy="500.5" r="1.9"/><circle cx="90.1" cy="507.3" r="1.9"/><circle cx="47" cy="445.3" r="1.9"/><circle cx="46" cy="430.7" r="1.9"/><circle cx="103.7" cy="509.5" r="1.9"/><circle cx="76.9" cy="502.4" r="1.9"/><circle cx="58.4" cy="490.6" r="1.9"/><circle cx="51.3" cy="483.8" r="1.9"/><circle cx="84.2" cy="505.1" r="1.9"/><circle cx="67" cy="495.9" r="1.9"/><circle cx="47.6" cy="464.1" r="1.9"/><circle cx="72.3" cy="498.8" r="1.9"/><circle cx="50.8" cy="481.2" r="1.9"/><circle cx="61" cy="492.8" r="1.9"/><circle cx="57.3" cy="489.5" r="1.9"/><circle cx="48.2" cy="464.2" r="1.9"/><circle cx="93.7" cy="507" r="1.9"/><circle cx="86.9" cy="504.7" r="1.9"/><circle cx="46.2" cy="431.9" r="1.9"/><circle cx="85.1" cy="506" r="1.9"/><circle cx="48.9" cy="476.2" r="1.9"/><circle cx="47.9" cy="463.1" r="1.9"/><circle cx="48.2" cy="463.7" r="1.9"/><circle cx="66.1" cy="496.7" r="1.9"/><circle cx="47.2" cy="468.4" r="1.9"/><circle cx="46.6" cy="438" r="1.9"/><circle cx="51.8" cy="481.9" r="1.9"/><circle cx="93.6" cy="507.7" r="1.9"/><circle cx="49" cy="428" r="1.9"/><circle cx="48.5" cy="426.4" r="1.9"/><circle cx="94.5" cy="509" r="1.9"/><circle cx="49.5" cy="470.1" r="1.9"/><circle cx="58.1" cy="492.2" r="1.9"/><circle cx="74.1" cy="502" r="1.9"/><circle cx="51.3" cy="474.8" r="1.9"/><circle cx="49.1" cy="476.5" r="1.9"/><circle cx="83.8" cy="504.2" r="1.9"/><circle cx="67.9" cy="498.4" r="1.9"/><circle cx="53.1" cy="480.8" r="1.9"/><circle cx="85.4" cy="506.3" r="1.9"/><circle cx="81" cy="501.2" r="1.9"/><circle cx="99.5" cy="509.1" r="1.9"/><circle cx="94.8" cy="509.7" r="1.9"/><circle cx="61.8" cy="495.5" r="1.9"/><circle cx="51.7" cy="485.1" r="1.9"/><circle cx="49.2" cy="474.1" r="1.9"/><circle cx="87.5" cy="506.3" r="1.9"/><circle cx="68.9" cy="383.1" r="1.9"/><circle cx="72.4" cy="387.5" r="1.9"/><circle cx="75" cy="392.8" r="1.9"/><circle cx="63.7" cy="392.8" r="1.9"/><circle cx="64.5" cy="398.9" r="1.9"/><circle cx="75" cy="401.5" r="1.9"/><circle cx="70" cy="390" r="1.9"/><circle cx="66" cy="395" r="1.9"/><circle cx="72" cy="394" r="1.9"/><circle cx="68" cy="386" r="1.9"/><circle cx="74" cy="397" r="1.9"/><circle cx="62" cy="400" r="1.9"/><circle cx="51.4" cy="407.7" r="1.9"/><circle cx="56.6" cy="411.2" r="1.9"/><circle cx="48.4" cy="417.3" r="1.9"/><circle cx="46.1" cy="431.3" r="1.9"/><circle cx="46" cy="425" r="1.9"/><circle cx="47" cy="445" r="1.9"/><circle cx="47" cy="465" r="1.9"/><circle cx="53" cy="412" r="1.9"/><circle cx="58" cy="409" r="1.9"/><circle cx="60" cy="404" r="1.9"/><circle cx="72" cy="399" r="1.9"/><circle cx="75" cy="404" r="1.9"/><circle cx="69" cy="402" r="1.9"/><circle cx="64" cy="398" r="1.9"/><circle cx="123.2" cy="448.8" r="1.9"/><circle cx="125.8" cy="448" r="1.9"/><circle cx="124.1" cy="455.8" r="1.9"/><circle cx="129.3" cy="460.2" r="1.9"/><circle cx="138.1" cy="459" r="1.9"/><circle cx="131.1" cy="466.4" r="1.9"/><circle cx="146.9" cy="464.6" r="1.9"/><circle cx="152.1" cy="463.7" r="1.9"/><circle cx="157.4" cy="464.3" r="1.9"/><circle cx="167.5" cy="458" r="1.9"/><circle cx="171.8" cy="458" r="1.9"/><circle cx="179.7" cy="459.8" r="1.9"/><circle cx="183" cy="459.5" r="1.9"/><circle cx="143.4" cy="470.5" r="1.9"/><circle cx="155" cy="456.8" r="1.9"/><circle cx="128.9" cy="469.2" r="1.9"/><circle cx="119.1" cy="450.7" r="1.9"/><circle cx="129" cy="472.2" r="1.9"/><circle cx="162.2" cy="467.8" r="1.9"/><circle cx="150.8" cy="479.2" r="1.9"/><circle cx="149.9" cy="457.4" r="1.9"/><circle cx="145.2" cy="452.6" r="1.9"/><circle cx="156.9" cy="457.4" r="1.9"/><circle cx="165" cy="455.9" r="1.9"/><circle cx="164.2" cy="471" r="1.9"/><circle cx="137.8" cy="473.2" r="1.9"/><circle cx="144.6" cy="480.4" r="1.9"/><circle cx="158.2" cy="458.9" r="1.9"/><circle cx="181.6" cy="461.5" r="1.9"/><circle cx="148.5" cy="463.4" r="1.9"/><circle cx="154.2" cy="479.7" r="1.9"/><circle cx="120.1" cy="450.5" r="1.9"/><circle cx="149.1" cy="453.3" r="1.9"/><circle cx="127" cy="475.6" r="1.9"/><circle cx="163.4" cy="464" r="1.9"/><circle cx="157.9" cy="468.8" r="1.9"/><circle cx="154.2" cy="465.7" r="1.9"/><circle cx="145.6" cy="473.5" r="1.9"/><circle cx="125.5" cy="473.5" r="1.9"/><circle cx="154.4" cy="462" r="1.9"/><circle cx="124.5" cy="453.1" r="1.9"/><circle cx="154.1" cy="479.9" r="1.9"/><circle cx="150.2" cy="479.2" r="1.9"/><circle cx="130.5" cy="461.4" r="1.9"/><circle cx="152.5" cy="474.7" r="1.9"/><circle cx="148.1" cy="460.3" r="1.9"/><circle cx="176.1" cy="463.3" r="1.9"/><circle cx="146.1" cy="457.6" r="1.9"/><circle cx="150.4" cy="474" r="1.9"/><circle cx="142.2" cy="472.5" r="1.9"/><circle cx="131.8" cy="452.2" r="1.9"/><circle cx="131.8" cy="455.2" r="1.9"/><circle cx="120.8" cy="459.2" r="1.9"/><circle cx="152.2" cy="455.9" r="1.9"/><circle cx="138.5" cy="480.8" r="1.9"/><circle cx="147.8" cy="457.9" r="1.9"/><circle cx="152.8" cy="472" r="1.9"/><circle cx="123.9" cy="468.7" r="1.9"/><circle cx="138.7" cy="475.3" r="1.9"/><circle cx="158.7" cy="456.2" r="1.9"/><circle cx="130.4" cy="473.9" r="1.9"/><circle cx="145.9" cy="459.6" r="1.9"/><circle cx="149.3" cy="479.7" r="1.9"/><circle cx="155.5" cy="475.3" r="1.9"/><circle cx="169.2" cy="459.4" r="1.9"/><circle cx="159.5" cy="462.8" r="1.9"/><circle cx="149.8" cy="468" r="1.9"/><circle cx="162.7" cy="455.7" r="1.9"/><circle cx="139" cy="478.9" r="1.9"/><circle cx="128.8" cy="475.6" r="1.9"/><circle cx="142" cy="452.9" r="1.9"/><circle cx="149.6" cy="461.8" r="1.9"/><circle cx="167.5" cy="466.8" r="1.9"/><circle cx="153.3" cy="455.8" r="1.9"/><circle cx="139.5" cy="457.5" r="1.9"/><circle cx="131.1" cy="470.9" r="1.9"/><circle cx="139.7" cy="476.1" r="1.9"/><circle cx="156.4" cy="478.1" r="1.9"/><circle cx="152" cy="471.5" r="1.9"/><circle cx="134" cy="473.7" r="1.9"/><circle cx="145.2" cy="474.5" r="1.9"/><circle cx="157.1" cy="454.8" r="1.9"/><circle cx="138.1" cy="475.6" r="1.9"/><circle cx="61.3" cy="403.4" r="1.9"/><circle cx="70.3" cy="404.9" r="1.9"/><circle cx="66.6" cy="400.6" r="1.9"/><circle cx="69.1" cy="405.5" r="1.9"/><circle cx="62.2" cy="401.2" r="1.9"/><circle cx="65.4" cy="402.6" r="1.9"/><circle cx="65.4" cy="395.7" r="1.9"/><circle cx="64.9" cy="408.1" r="1.9"/><circle cx="67.2" cy="407.8" r="1.9"/><circle cx="73.5" cy="396.8" r="1.9"/><circle cx="70.4" cy="392.2" r="1.9"/><circle cx="76.9" cy="403.4" r="1.9"/><circle cx="62.9" cy="401.3" r="1.9"/><circle cx="69.4" cy="404.1" r="1.9"/><circle cx="65.9" cy="408.4" r="1.9"/><circle cx="71.6" cy="393.3" r="1.9"/><circle cx="74.9" cy="407.9" r="1.9"/><circle cx="66.2" cy="404.8" r="1.9"/><circle cx="138.1" cy="467.4" r="1.9"/><circle cx="146.3" cy="478.5" r="1.9"/><circle cx="133.8" cy="476.3" r="1.9"/><circle cx="131" cy="468.8" r="1.9"/><circle cx="120.2" cy="460.6" r="1.9"/><circle cx="144.1" cy="479.9" r="1.9"/><circle cx="138.5" cy="474.7" r="1.9"/><circle cx="131.4" cy="470.9" r="1.9"/><circle cx="119.8" cy="467.4" r="1.9"/><circle cx="114.9" cy="460.4" r="1.9"/><circle cx="142.4" cy="478.3" r="1.9"/><circle cx="132.7" cy="474.5" r="1.9"/><circle cx="122.1" cy="455.5" r="1.9"/><circle cx="148.4" cy="474.4" r="1.9"/><circle cx="119.3" cy="475.5" r="1.9"/><circle cx="124.1" cy="469.4" r="1.9"/><circle cx="141.9" cy="471.2" r="1.9"/><circle cx="116.9" cy="462.7" r="1.9"/><circle cx="140.1" cy="470.6" r="1.9"/><circle cx="117.1" cy="459.9" r="1.9"/><circle cx="128" cy="462.4" r="1.9"/><circle cx="136.8" cy="481.1" r="1.9"/><circle cx="131.2" cy="480" r="1.9"/><circle cx="141.9" cy="477.6" r="1.9"/><circle cx="130.2" cy="460.9" r="1.9"/><circle cx="135.1" cy="465.1" r="1.9"/><circle cx="129.3" cy="469.8" r="1.9"/><circle cx="134.4" cy="481.4" r="1.9"/><circle cx="122.7" cy="461.1" r="1.9"/><circle cx="119" cy="455.7" r="1.9"/><circle cx="116.8" cy="463.9" r="1.9"/><circle cx="121.5" cy="468.6" r="1.9"/><circle cx="130" cy="474.5" r="1.9"/><circle cx="117.9" cy="456.1" r="1.9"/><circle cx="124.6" cy="455" r="1.9"/><circle cx="116.6" cy="455.4" r="1.9"/><circle cx="142.4" cy="481" r="1.9"/><circle cx="144.1" cy="473.5" r="1.9"/><circle cx="115.1" cy="453.5" r="1.9"/><circle cx="146.8" cy="476.9" r="1.9"/><circle cx="113.8" cy="455.1" r="1.9"/><circle cx="137.3" cy="474.2" r="1.9"/><circle cx="120.8" cy="467.7" r="1.9"/><circle cx="136" cy="474.8" r="1.9"/><circle cx="145.7" cy="477.7" r="1.9"/><circle cx="131.6" cy="471.5" r="1.9"/><circle cx="130.7" cy="476.9" r="1.9"/><circle cx="145.1" cy="475.7" r="1.9"/><circle cx="119.9" cy="468.8" r="1.9"/><circle cx="134.2" cy="471.1" r="1.9"/></g>
<path d="M172,413 L172,413.3 L172,413.6 L172,414 L172.1,414.3 L172.1,414.6 L172.1,414.9 L172.2,415.2 L172.2,415.6 L172.3,415.9 L172.4,416.2 L172.5,416.5 L172.5,416.8 L172.6,417.1 L172.7,417.5 L172.9,417.8 L173,418.1 L173.1,418.4 L173.2,418.7 L173.4,419 L173.5,419.3 L173.7,419.6 L173.8,420 L174,420.3 L174.2,420.6 L174.4,420.9 L174.6,421.2 L174.8,421.5 L175,421.8 L175.2,422.1 L175.4,422.4 L175.6,422.7 L175.9,423 L176.1,423.2 L176.3,423.5 L176.6,423.8 L176.9,424.1 L177.1,424.4 L177.4,424.7 L177.7,425 L178,425.2 L178,439.6 L177.7,439.4 L177.4,439.1 L177.1,438.8 L176.9,438.5 L176.6,438.2 L176.3,437.9 L176.1,437.6 L175.9,437.4 L175.6,437.1 L175.4,436.8 L175.2,436.5 L175,436.2 L174.8,435.9 L174.6,435.6 L174.4,435.3 L174.2,435 L174,434.7 L173.8,434.4 L173.7,434 L173.5,433.7 L173.4,433.4 L173.2,433.1 L173.1,432.8 L173,432.5 L172.9,432.2 L172.7,431.9 L172.6,431.5 L172.5,431.2 L172.5,430.9 L172.4,430.6 L172.3,430.3 L172.2,430 L172.2,429.6 L172.1,429.3 L172.1,429 L172.1,428.7 L172,428.4 L172,428 L172,427.7 L172,427.4Z" fill="url(#pbm)"/>
<path d="M178,425.2 L179.5,426.6 L181.2,427.9 L183.1,429.2 L185.1,430.4 L187.3,431.5 L189.5,432.5 L191.9,433.4 L194.4,434.3 L197,435 L199.7,435.7 L202.5,436.3 L205.3,436.7 L208.2,437.1 L211.1,437.4 L214,437.5 L217,437.6 L219.9,437.5 L222.9,437.4 L225.8,437.1 L228.7,436.8 L231.5,436.3 L234.2,435.7 L236.9,435.1 L239.5,434.3 L242,433.5 L244.4,432.5 L246.7,431.5 L248.9,430.4 L250.9,429.2 L252.8,428 L254.5,426.7 L256.1,425.3 L257.4,423.9 L258.7,422.4 L259.7,420.9 L260.6,419.4 L261.2,417.8 L261.7,416.2 L262,414.6 L262.1,413 L262.1,427.4 L262,429 L261.7,430.6 L261.2,432.2 L260.6,433.8 L259.7,435.3 L258.7,436.8 L257.4,438.3 L256.1,439.7 L254.5,441.1 L252.8,442.4 L250.9,443.6 L248.9,444.8 L246.7,445.9 L244.4,446.9 L242,447.9 L239.5,448.7 L236.9,449.5 L234.2,450.1 L231.5,450.7 L228.7,451.2 L225.8,451.5 L222.9,451.8 L219.9,451.9 L217,452 L214,451.9 L211.1,451.8 L208.2,451.5 L205.3,451.1 L202.5,450.7 L199.7,450.1 L197,449.4 L194.4,448.7 L191.9,447.8 L189.5,446.9 L187.3,445.9 L185.1,444.8 L183.1,443.6 L181.2,442.3 L179.5,441 L178,439.6Z" fill="url(#pbb)"/>
<ellipse cx="217.1" cy="415" rx="45" ry="24.6" fill="#0000ff"/>
<path d="M217.1,415 L172,415 A45,24.6 0 0 0 178,427.2 Z" fill="#ff00ff"/>
<line x1="41" y1="573.7" x2="323.4" y2="353.7" stroke="#ff0000" stroke-width="1.8"/>
<rect x="265.5" y="407.8" width="21.5" height="10.3" fill="#0000ff"/>
<rect x="265.5" y="420.2" width="21.5" height="10.3" fill="#ff00ff"/>
<text x="290" y="417.1" font-size="10" text-anchor="start" font-weight="normal" fill="#000" font-family="'Liberation Serif', serif" stroke="#000" stroke-width="0.45" transform="matrix(1 0 0 1.1 0 -41.7)">91.71%</text>
<text x="290" y="429.5" font-size="10" text-anchor="start" font-weight="normal" fill="#000" font-family="'Liberation Serif', serif" stroke="#000" stroke-width="0.45" transform="matrix(1 0 0 1.1 0 -43)">8.29%</text>
<circle cx="91" cy="365.5" r="2" fill="#0000ff"/>
<circle cx="91" cy="379.9" r="2" fill="#ff00ff"/>
<text x="107.2" y="369.3" font-size="11.7" text-anchor="start" font-weight="normal" fill="#000" font-family="'Liberation Serif', serif" stroke="#000" stroke-width="0.35" transform="matrix(1 0 0 1.1 0 -36.9)">Tensile fractures</text>
<text x="107.2" y="383.7" font-size="11.7" text-anchor="start" font-weight="normal" fill="#000" font-family="'Liberation Serif', serif" stroke="#000" stroke-width="0.35" transform="matrix(1 0 0 1.1 0 -38.4)">Shear fractures</text>
<rect x="41" y="353.7" width="282.4" height="220" fill="none" stroke="#000" stroke-width="1.6"/>
<line x1="41" y1="573.7" x2="45" y2="573.7" stroke="#000" stroke-width="1.3"/>
<text x="36" y="578.1" font-size="13" text-anchor="end" font-weight="normal" fill="#000" font-family="'Liberation Serif', serif" stroke="#000" stroke-width="0.35" transform="matrix(1 0 0 1.1 0 -57.8)">0</text>
<line x1="41" y1="560" x2="43.5" y2="560" stroke="#000" stroke-width="1.3"/>
<line x1="41" y1="546.2" x2="45" y2="546.2" stroke="#000" stroke-width="1.3"/>
<text x="36" y="550.6" font-size="13" text-anchor="end" font-weight="normal" fill="#000" font-family="'Liberation Serif', serif" stroke="#000" stroke-width="0.35" transform="matrix(1 0 0 1.1 0 -55.1)">50</text>
<line x1="41" y1="532.5" x2="43.5" y2="532.5" stroke="#000" stroke-width="1.3"/>
<line x1="41" y1="518.7" x2="45" y2="518.7" stroke="#000" stroke-width="1.3"/>
<text x="36" y="523.1" font-size="13" text-anchor="end" font-weight="normal" fill="#000" font-family="'Liberation Serif', serif" stroke="#000" stroke-width="0.35" transform="matrix(1 0 0 1.1 0 -52.3)">100</text>
<line x1="41" y1="505" x2="43.5" y2="505" stroke="#000" stroke-width="1.3"/>
<line x1="41" y1="491.2" x2="45" y2="491.2" stroke="#000" stroke-width="1.3"/>
<text x="36" y="495.6" font-size="13" text-anchor="end" font-weight="normal" fill="#000" font-family="'Liberation Serif', serif" stroke="#000" stroke-width="0.35" transform="matrix(1 0 0 1.1 0 -49.6)">150</text>
<line x1="41" y1="477.5" x2="43.5" y2="477.5" stroke="#000" stroke-width="1.3"/>
<line x1="41" y1="463.7" x2="45" y2="463.7" stroke="#000" stroke-width="1.3"/>
<text x="36" y="468.1" font-size="13" text-anchor="end" font-weight="normal" fill="#000" font-family="'Liberation Serif', serif" stroke="#000" stroke-width="0.35" transform="matrix(1 0 0 1.1 0 -46.8)">200</text>
<line x1="41" y1="449.9" x2="43.5" y2="449.9" stroke="#000" stroke-width="1.3"/>
<line x1="41" y1="436.2" x2="45" y2="436.2" stroke="#000" stroke-width="1.3"/>
<text x="36" y="440.6" font-size="13" text-anchor="end" font-weight="normal" fill="#000" font-family="'Liberation Serif', serif" stroke="#000" stroke-width="0.35" transform="matrix(1 0 0 1.1 0 -44.1)">250</text>
<line x1="41" y1="422.5" x2="43.5" y2="422.5" stroke="#000" stroke-width="1.3"/>
<line x1="41" y1="408.7" x2="45" y2="408.7" stroke="#000" stroke-width="1.3"/>
<text x="36" y="413.1" font-size="13" text-anchor="end" font-weight="normal" fill="#000" font-family="'Liberation Serif', serif" stroke="#000" stroke-width="0.35" transform="matrix(1 0 0 1.1 0 -41.3)">300</text>
<line x1="41" y1="395" x2="43.5" y2="395" stroke="#000" stroke-width="1.3"/>
<line x1="41" y1="381.2" x2="45" y2="381.2" stroke="#000" stroke-width="1.3"/>
<text x="36" y="385.6" font-size="13" text-anchor="end" font-weight="normal" fill="#000" font-family="'Liberation Serif', serif" stroke="#000" stroke-width="0.35" transform="matrix(1 0 0 1.1 0 -38.6)">350</text>
<line x1="41" y1="367.5" x2="43.5" y2="367.5" stroke="#000" stroke-width="1.3"/>
<line x1="41" y1="353.7" x2="45" y2="353.7" stroke="#000" stroke-width="1.3"/>
<text x="36" y="358.1" font-size="13" text-anchor="end" font-weight="normal" fill="#000" font-family="'Liberation Serif', serif" stroke="#000" stroke-width="0.35" transform="matrix(1 0 0 1.1 0 -35.8)">400</text>
<line x1="41" y1="573.7" x2="41" y2="569.7" stroke="#000" stroke-width="1.3"/>
<text x="41" y="588.6" font-size="13" text-anchor="middle" font-weight="normal" fill="#000" font-family="'Liberation Serif', serif" stroke="#000" stroke-width="0.35" transform="matrix(1 0 0 1.1 0 -58.9)">0</text>
<line x1="55.1" y1="573.7" x2="55.1" y2="571.2" stroke="#000" stroke-width="1.3"/>
<line x1="69.2" y1="573.7" x2="69.2" y2="569.7" stroke="#000" stroke-width="1.3"/>
<text x="69.2" y="588.6" font-size="13" text-anchor="middle" font-weight="normal" fill="#000" font-family="'Liberation Serif', serif" stroke="#000" stroke-width="0.35" transform="matrix(1 0 0 1.1 0 -58.9)">3</text>
<line x1="83.4" y1="573.7" x2="83.4" y2="571.2" stroke="#000" stroke-width="1.3"/>
<line x1="97.5" y1="573.7" x2="97.5" y2="569.7" stroke="#000" stroke-width="1.3"/>
<text x="97.5" y="588.6" font-size="13" text-anchor="middle" font-weight="normal" fill="#000" font-family="'Liberation Serif', serif" stroke="#000" stroke-width="0.35" transform="matrix(1 0 0 1.1 0 -58.9)">6</text>
<line x1="111.6" y1="573.7" x2="111.6" y2="571.2" stroke="#000" stroke-width="1.3"/>
<line x1="125.7" y1="573.7" x2="125.7" y2="569.7" stroke="#000" stroke-width="1.3"/>
<text x="125.7" y="588.6" font-size="13" text-anchor="middle" font-weight="normal" fill="#000" font-family="'Liberation Serif', serif" stroke="#000" stroke-width="0.35" transform="matrix(1 0 0 1.1 0 -58.9)">9</text>
<line x1="139.8" y1="573.7" x2="139.8" y2="571.2" stroke="#000" stroke-width="1.3"/>
<line x1="154" y1="573.7" x2="154" y2="569.7" stroke="#000" stroke-width="1.3"/>
<text x="154" y="588.6" font-size="13" text-anchor="middle" font-weight="normal" fill="#000" font-family="'Liberation Serif', serif" stroke="#000" stroke-width="0.35" transform="matrix(1 0 0 1.1 0 -58.9)">12</text>
<line x1="168.1" y1="573.7" x2="168.1" y2="571.2" stroke="#000" stroke-width="1.3"/>
<line x1="182.2" y1="573.7" x2="182.2" y2="569.7" stroke="#000" stroke-width="1.3"/>
<text x="182.2" y="588.6" font-size="13" text-anchor="middle" font-weight="normal" fill="#000" font-family="'Liberation Serif', serif" stroke="#000" stroke-width="0.35" transform="matrix(1 0 0 1.1 0 -58.9)">15</text>
<line x1="196.3" y1="573.7" x2="196.3" y2="571.2" stroke="#000" stroke-width="1.3"/>
<line x1="210.4" y1="573.7" x2="210.4" y2="569.7" stroke="#000" stroke-width="1.3"/>
<text x="210.4" y="588.6" font-size="13" text-anchor="middle" font-weight="normal" fill="#000" font-family="'Liberation Serif', serif" stroke="#000" stroke-width="0.35" transform="matrix(1 0 0 1.1 0 -58.9)">18</text>
<line x1="224.6" y1="573.7" x2="224.6" y2="571.2" stroke="#000" stroke-width="1.3"/>
<line x1="238.7" y1="573.7" x2="238.7" y2="569.7" stroke="#000" stroke-width="1.3"/>
<text x="238.7" y="588.6" font-size="13" text-anchor="middle" font-weight="normal" fill="#000" font-family="'Liberation Serif', serif" stroke="#000" stroke-width="0.35" transform="matrix(1 0 0 1.1 0 -58.9)">21</text>
<line x1="252.8" y1="573.7" x2="252.8" y2="571.2" stroke="#000" stroke-width="1.3"/>
<line x1="266.9" y1="573.7" x2="266.9" y2="569.7" stroke="#000" stroke-width="1.3"/>
<text x="266.9" y="588.6" font-size="13" text-anchor="middle" font-weight="normal" fill="#000" font-family="'Liberation Serif', serif" stroke="#000" stroke-width="0.35" transform="matrix(1 0 0 1.1 0 -58.9)">24</text>
<line x1="281" y1="573.7" x2="281" y2="571.2" stroke="#000" stroke-width="1.3"/>
<line x1="295.2" y1="573.7" x2="295.2" y2="569.7" stroke="#000" stroke-width="1.3"/>
<text x="295.2" y="588.6" font-size="13" text-anchor="middle" font-weight="normal" fill="#000" font-family="'Liberation Serif', serif" stroke="#000" stroke-width="0.35" transform="matrix(1 0 0 1.1 0 -58.9)">27</text>
<line x1="309.3" y1="573.7" x2="309.3" y2="571.2" stroke="#000" stroke-width="1.3"/>
<line x1="323.4" y1="573.7" x2="323.4" y2="569.7" stroke="#000" stroke-width="1.3"/>
<text x="323.4" y="588.6" font-size="13" text-anchor="middle" font-weight="normal" fill="#000" font-family="'Liberation Serif', serif" stroke="#000" stroke-width="0.35" transform="matrix(1 0 0 1.1 0 -58.9)">30</text>
<text x="182.2" y="602.5" font-size="13" text-anchor="middle" font-weight="normal" fill="#000" font-family="'Liberation Serif', serif" stroke="#000" stroke-width="0.2" transform="matrix(1 0 0 1.1 0 -60.3)">RA (ms/V)</text>
<text x="10.5" y="463.7" font-size="13.4" text-anchor="middle" font-weight="normal" fill="#000" font-family="'Liberation Serif', serif" stroke="#000" stroke-width="0.3" transform="rotate(-90 10.5 463.7)">AF (kHz)</text>
<polygon points="75,861.5 108,835.9 114,840 118,852 116,858 110,860 92.6,863.5 80.3,862 76,860" fill="#ff00ff" stroke="#ff00ff" stroke-width="3.2" stroke-linejoin="round"/>
<g fill="#ff00ff"><circle cx="111.5" cy="860.3" r="1.9"/><circle cx="83.6" cy="863.6" r="1.9"/><circle cx="95.3" cy="861.6" r="1.9"/><circle cx="117" cy="853.1" r="1.9"/><circle cx="120.2" cy="853" r="1.9"/><circle cx="117.3" cy="858.7" r="1.9"/><circle cx="115.7" cy="845.4" r="1.9"/><circle cx="117.9" cy="858.5" r="1.9"/><circle cx="115.9" cy="854.9" r="1.9"/><circle cx="113.6" cy="858.4" r="1.9"/><circle cx="95.5" cy="865.1" r="1.9"/><circle cx="89.8" cy="862.8" r="1.9"/><circle cx="115.4" cy="842.8" r="1.9"/><circle cx="98.3" cy="861.2" r="1.9"/><circle cx="95.8" cy="860.6" r="1.9"/><circle cx="87.5" cy="864.4" r="1.9"/><circle cx="116.9" cy="852.8" r="1.9"/><circle cx="116.9" cy="843.2" r="1.9"/><circle cx="103.7" cy="859.9" r="1.9"/><circle cx="115.9" cy="857.2" r="1.9"/><circle cx="100.9" cy="863.5" r="1.9"/><circle cx="93.9" cy="864.6" r="1.9"/><circle cx="114.4" cy="842.6" r="1.9"/><circle cx="103.6" cy="859.5" r="1.9"/><circle cx="117.3" cy="845.5" r="1.9"/><circle cx="119.9" cy="849.9" r="1.9"/><circle cx="114.2" cy="843.5" r="1.9"/><circle cx="114.8" cy="839.9" r="1.9"/><circle cx="88.4" cy="861.1" r="1.9"/><circle cx="114.5" cy="839.7" r="1.9"/><circle cx="90.1" cy="862.4" r="1.9"/><circle cx="117.8" cy="847.5" r="1.9"/><circle cx="116" cy="841" r="1.9"/><circle cx="110" cy="860.8" r="1.9"/><circle cx="95.2" cy="861.8" r="1.9"/><circle cx="111" cy="838.4" r="1.9"/><circle cx="110" cy="838" r="1.9"/><circle cx="116.7" cy="856.9" r="1.9"/><circle cx="81.2" cy="862.1" r="1.9"/><circle cx="91" cy="861.3" r="1.9"/><circle cx="105.3" cy="860.1" r="1.9"/><circle cx="114.4" cy="857.3" r="1.9"/><circle cx="94.2" cy="863.3" r="1.9"/><circle cx="84.3" cy="862.8" r="1.9"/><circle cx="93.9" cy="863" r="1.9"/><circle cx="117.3" cy="844.3" r="1.9"/><circle cx="98.1" cy="860.6" r="1.9"/><circle cx="103.8" cy="862.9" r="1.9"/><circle cx="99.2" cy="862.7" r="1.9"/><circle cx="143.6" cy="813" r="1.9"/><circle cx="135.9" cy="816" r="1.9"/><circle cx="110.6" cy="844" r="1.9"/><circle cx="142.3" cy="841.9" r="1.9"/><circle cx="118.7" cy="832.1" r="1.9"/><circle cx="144.4" cy="840.5" r="1.9"/><circle cx="137.3" cy="834.7" r="1.9"/><circle cx="145.8" cy="812.1" r="1.9"/><circle cx="126.9" cy="844.1" r="1.9"/><circle cx="152.8" cy="836" r="1.9"/><circle cx="153.7" cy="828.9" r="1.9"/><circle cx="112.6" cy="849.6" r="1.9"/><circle cx="132.3" cy="834.2" r="1.9"/><circle cx="139.8" cy="827.7" r="1.9"/><circle cx="109.7" cy="835.6" r="1.9"/><circle cx="111.6" cy="835" r="1.9"/><circle cx="141.4" cy="838.5" r="1.9"/><circle cx="118.8" cy="829.4" r="1.9"/><circle cx="132.3" cy="826.3" r="1.9"/><circle cx="126" cy="833.2" r="1.9"/><circle cx="142.8" cy="826.4" r="1.9"/><circle cx="141.6" cy="816.6" r="1.9"/><circle cx="123.6" cy="845.8" r="1.9"/><circle cx="153.5" cy="839.1" r="1.9"/><circle cx="128.4" cy="852.2" r="1.9"/><circle cx="138.4" cy="847.9" r="1.9"/><circle cx="132.2" cy="838.6" r="1.9"/><circle cx="140.4" cy="815.4" r="1.9"/><circle cx="118.7" cy="850.2" r="1.9"/><circle cx="128" cy="828.4" r="1.9"/><circle cx="114.7" cy="854.5" r="1.9"/><circle cx="124.1" cy="853.2" r="1.9"/><circle cx="150.8" cy="844.3" r="1.9"/><circle cx="134.2" cy="822.6" r="1.9"/><circle cx="147.4" cy="808" r="1.9"/><circle cx="137.8" cy="824.1" r="1.9"/><circle cx="127" cy="835.2" r="1.9"/><circle cx="153.8" cy="834.3" r="1.9"/><circle cx="134.2" cy="816.4" r="1.9"/><circle cx="145.5" cy="832.1" r="1.9"/><circle cx="137.2" cy="843.4" r="1.9"/><circle cx="115" cy="858.9" r="1.9"/><circle cx="136.4" cy="818.1" r="1.9"/><circle cx="116.9" cy="840.3" r="1.9"/><circle cx="141.8" cy="837.3" r="1.9"/><circle cx="130.3" cy="828.6" r="1.9"/><circle cx="132.2" cy="823.9" r="1.9"/><circle cx="145.7" cy="832.4" r="1.9"/><circle cx="131" cy="851.5" r="1.9"/><circle cx="152.5" cy="827.8" r="1.9"/><circle cx="143.7" cy="833.9" r="1.9"/><circle cx="114.4" cy="853.3" r="1.9"/><circle cx="145.6" cy="824" r="1.9"/><circle cx="148.4" cy="811.3" r="1.9"/><circle cx="118.2" cy="845.6" r="1.9"/><circle cx="137.4" cy="838" r="1.9"/><circle cx="131.9" cy="847.7" r="1.9"/><circle cx="132.5" cy="822.8" r="1.9"/><circle cx="113" cy="846.3" r="1.9"/><circle cx="127.6" cy="851.3" r="1.9"/><circle cx="135" cy="838.1" r="1.9"/><circle cx="136.4" cy="846.2" r="1.9"/><circle cx="135.8" cy="817.8" r="1.9"/><circle cx="109.9" cy="846.1" r="1.9"/><circle cx="134" cy="820.1" r="1.9"/><circle cx="119.1" cy="853.3" r="1.9"/><circle cx="136.9" cy="846.3" r="1.9"/><circle cx="146.8" cy="829.4" r="1.9"/><circle cx="128.6" cy="829.2" r="1.9"/><circle cx="123.9" cy="848" r="1.9"/><circle cx="150.2" cy="821.9" r="1.9"/><circle cx="141.6" cy="817.4" r="1.9"/><circle cx="144.8" cy="823.6" r="1.9"/><circle cx="122.1" cy="847" r="1.9"/><circle cx="148.2" cy="813.3" r="1.9"/><circle cx="151.6" cy="829.3" r="1.9"/><circle cx="132.4" cy="834.3" r="1.9"/><circle cx="137.5" cy="844.7" r="1.9"/><circle cx="140.8" cy="827.2" r="1.9"/><circle cx="133.7" cy="834.1" r="1.9"/><circle cx="117.4" cy="834.2" r="1.9"/><circle cx="109.5" cy="841.3" r="1.9"/><circle cx="131.4" cy="834.9" r="1.9"/><circle cx="148" cy="840.5" r="1.9"/><circle cx="153" cy="842.7" r="1.9"/><circle cx="147.1" cy="823.1" r="1.9"/><circle cx="125.5" cy="834.1" r="1.9"/><circle cx="145.1" cy="808.9" r="1.9"/><circle cx="133" cy="836.6" r="1.9"/><circle cx="141.9" cy="824.3" r="1.9"/><circle cx="136.3" cy="845.7" r="1.9"/><circle cx="125.1" cy="842.7" r="1.9"/><circle cx="151.2" cy="825.8" r="1.9"/><circle cx="132.3" cy="832" r="1.9"/><circle cx="147.9" cy="820.4" r="1.9"/><circle cx="138.6" cy="814.1" r="1.9"/><circle cx="154.9" cy="833" r="1.9"/><circle cx="142.5" cy="828.1" r="1.9"/><circle cx="138.5" cy="815.2" r="1.9"/><circle cx="130.3" cy="820.4" r="1.9"/><circle cx="134.2" cy="843.1" r="1.9"/><circle cx="131.9" cy="846.4" r="1.9"/><circle cx="138.8" cy="832" r="1.9"/><circle cx="123.6" cy="851.9" r="1.9"/><circle cx="117.5" cy="841" r="1.9"/><circle cx="128.3" cy="830.4" r="1.9"/><circle cx="130.9" cy="825.9" r="1.9"/><circle cx="117.5" cy="843.3" r="1.9"/><circle cx="119.5" cy="856.3" r="1.9"/><circle cx="134.9" cy="825.9" r="1.9"/><circle cx="120.2" cy="842.3" r="1.9"/><circle cx="127.6" cy="825.5" r="1.9"/><circle cx="154.9" cy="828.5" r="1.9"/><circle cx="150.3" cy="813.3" r="1.9"/><circle cx="114.3" cy="854.7" r="1.9"/><circle cx="140.9" cy="847.1" r="1.9"/><circle cx="109.4" cy="839.3" r="1.9"/><circle cx="145.7" cy="823.2" r="1.9"/><circle cx="128.1" cy="822.6" r="1.9"/><circle cx="129.5" cy="852.1" r="1.9"/><circle cx="126" cy="828.6" r="1.9"/><circle cx="143.8" cy="844" r="1.9"/><circle cx="153.7" cy="834.6" r="1.9"/><circle cx="132.3" cy="825" r="1.9"/><circle cx="121.4" cy="856.3" r="1.9"/><circle cx="145.2" cy="842.3" r="1.9"/><circle cx="139.6" cy="832.2" r="1.9"/><circle cx="110.6" cy="850.8" r="1.9"/><circle cx="144.1" cy="831.7" r="1.9"/><circle cx="134.1" cy="849.4" r="1.9"/><circle cx="130.7" cy="831.5" r="1.9"/><circle cx="130.2" cy="845.7" r="1.9"/><circle cx="142.8" cy="823.9" r="1.9"/><circle cx="144.8" cy="826.1" r="1.9"/><circle cx="139.7" cy="826.2" r="1.9"/><circle cx="144.9" cy="826.4" r="1.9"/><circle cx="123.6" cy="829.2" r="1.9"/><circle cx="142.1" cy="844.7" r="1.9"/><circle cx="143.7" cy="828.6" r="1.9"/><circle cx="111.9" cy="852.1" r="1.9"/><circle cx="149.9" cy="844.9" r="1.9"/><circle cx="116.9" cy="832.8" r="1.9"/><circle cx="131.7" cy="825.5" r="1.9"/><circle cx="130.5" cy="830.6" r="1.9"/><circle cx="114.9" cy="847.6" r="1.9"/><circle cx="125.1" cy="838.1" r="1.9"/><circle cx="134.2" cy="845.9" r="1.9"/><circle cx="121" cy="842.5" r="1.9"/><circle cx="124.5" cy="848.2" r="1.9"/><circle cx="130.7" cy="840.6" r="1.9"/><circle cx="132.2" cy="840.8" r="1.9"/><circle cx="125.5" cy="845.2" r="1.9"/><circle cx="147.6" cy="825.4" r="1.9"/><circle cx="127" cy="825.6" r="1.9"/><circle cx="123.1" cy="828.1" r="1.9"/><circle cx="134" cy="840.6" r="1.9"/><circle cx="121" cy="847.2" r="1.9"/><circle cx="149.7" cy="826.4" r="1.9"/><circle cx="118.5" cy="852" r="1.9"/><circle cx="138.1" cy="830" r="1.9"/><circle cx="138" cy="815.8" r="1.9"/><circle cx="133.1" cy="823.4" r="1.9"/><circle cx="119.1" cy="845.9" r="1.9"/><circle cx="124" cy="846" r="1.9"/><circle cx="143.5" cy="826.1" r="1.9"/><circle cx="133.6" cy="837.2" r="1.9"/><circle cx="140.3" cy="835.5" r="1.9"/><circle cx="126.4" cy="855" r="1.9"/><circle cx="150.8" cy="838.1" r="1.9"/><circle cx="126.6" cy="836.9" r="1.9"/><circle cx="147.5" cy="812.9" r="1.9"/><circle cx="148.2" cy="822.6" r="1.9"/><circle cx="124.7" cy="840.5" r="1.9"/><circle cx="123.7" cy="842.1" r="1.9"/><circle cx="135" cy="845" r="1.9"/><circle cx="152.3" cy="843.2" r="1.9"/><circle cx="123.6" cy="853.4" r="1.9"/><circle cx="137.9" cy="837.4" r="1.9"/><circle cx="131.5" cy="841.3" r="1.9"/><circle cx="130.8" cy="827.3" r="1.9"/><circle cx="147.8" cy="822.1" r="1.9"/><circle cx="126.3" cy="842.6" r="1.9"/><circle cx="127.7" cy="827.5" r="1.9"/><circle cx="145.5" cy="815.9" r="1.9"/><circle cx="129.9" cy="821.1" r="1.9"/><circle cx="134.9" cy="847.7" r="1.9"/><circle cx="115.4" cy="840.8" r="1.9"/><circle cx="139.9" cy="817.7" r="1.9"/><circle cx="122.4" cy="854.2" r="1.9"/><circle cx="125.7" cy="830.5" r="1.9"/><circle cx="109.8" cy="839.5" r="1.9"/><circle cx="124.1" cy="825.4" r="1.9"/><circle cx="122.1" cy="833.4" r="1.9"/><circle cx="119.1" cy="841.5" r="1.9"/><circle cx="121.2" cy="849.4" r="1.9"/><circle cx="120.1" cy="832" r="1.9"/><circle cx="110.8" cy="844.7" r="1.9"/><circle cx="119.7" cy="840.7" r="1.9"/><circle cx="116.5" cy="851.4" r="1.9"/><circle cx="119" cy="839.8" r="1.9"/><circle cx="121" cy="837.6" r="1.9"/><circle cx="124.7" cy="855.2" r="1.9"/><circle cx="112.1" cy="842.4" r="1.9"/><circle cx="117.2" cy="839.1" r="1.9"/><circle cx="121.5" cy="848.8" r="1.9"/><circle cx="121.6" cy="831.6" r="1.9"/><circle cx="115.6" cy="842.6" r="1.9"/><circle cx="121.4" cy="839" r="1.9"/><circle cx="116.6" cy="850.1" r="1.9"/><circle cx="120.1" cy="845.7" r="1.9"/><circle cx="118.1" cy="830.3" r="1.9"/><circle cx="109.3" cy="842.5" r="1.9"/><circle cx="114.7" cy="839.6" r="1.9"/><circle cx="120" cy="855.3" r="1.9"/><circle cx="124.3" cy="825.2" r="1.9"/><circle cx="118.3" cy="850.7" r="1.9"/><circle cx="115.2" cy="855.9" r="1.9"/><circle cx="108.8" cy="849.4" r="1.9"/><circle cx="123.2" cy="856.1" r="1.9"/><circle cx="122.1" cy="838.6" r="1.9"/><circle cx="115.7" cy="854.2" r="1.9"/><circle cx="111.9" cy="835.4" r="1.9"/><circle cx="124.5" cy="848.2" r="1.9"/><circle cx="112.9" cy="833" r="1.9"/><circle cx="124" cy="838" r="1.9"/><circle cx="124.5" cy="832.2" r="1.9"/><circle cx="117.3" cy="832.8" r="1.9"/><circle cx="121.8" cy="838.3" r="1.9"/><circle cx="124.7" cy="843.2" r="1.9"/><circle cx="123.9" cy="857.4" r="1.9"/><circle cx="113.1" cy="848.3" r="1.9"/><circle cx="119.8" cy="846.9" r="1.9"/><circle cx="120.5" cy="829.3" r="1.9"/><circle cx="122.1" cy="837.8" r="1.9"/><circle cx="124.9" cy="849.9" r="1.9"/><circle cx="114.1" cy="845.1" r="1.9"/><circle cx="122.4" cy="855.9" r="1.9"/><circle cx="118.6" cy="848.1" r="1.9"/><circle cx="118.3" cy="852.5" r="1.9"/><circle cx="121.4" cy="845.8" r="1.9"/><circle cx="121.6" cy="826.7" r="1.9"/><circle cx="124" cy="847.3" r="1.9"/><circle cx="118.2" cy="833.6" r="1.9"/><circle cx="123.8" cy="832.6" r="1.9"/><circle cx="115.2" cy="841.1" r="1.9"/><circle cx="123.9" cy="833.5" r="1.9"/><circle cx="123" cy="849.5" r="1.9"/><circle cx="116.8" cy="858" r="1.9"/><circle cx="122.8" cy="850.5" r="1.9"/><circle cx="110.2" cy="846.7" r="1.9"/><circle cx="108.2" cy="846.4" r="1.9"/><circle cx="112.6" cy="836.7" r="1.9"/><circle cx="121.6" cy="853.9" r="1.9"/><circle cx="120.2" cy="839" r="1.9"/><circle cx="123.6" cy="845.1" r="1.9"/><circle cx="118.5" cy="829.4" r="1.9"/><circle cx="120.3" cy="848.1" r="1.9"/><circle cx="125" cy="847" r="1.9"/><circle cx="124.7" cy="852.4" r="1.9"/><circle cx="115" cy="853.3" r="1.9"/><circle cx="123.8" cy="848.4" r="1.9"/><circle cx="119.4" cy="835.9" r="1.9"/><circle cx="109.2" cy="839.3" r="1.9"/><circle cx="108.7" cy="840" r="1.9"/><circle cx="110" cy="857.6" r="1.9"/><circle cx="108" cy="846" r="1.9"/><circle cx="118.2" cy="829.5" r="1.9"/><circle cx="117.9" cy="842.9" r="1.9"/><circle cx="115.1" cy="853.8" r="1.9"/><circle cx="117.7" cy="831.2" r="1.9"/><circle cx="164.2" cy="799.7" r="1.9"/><circle cx="164.2" cy="813.6" r="1.9"/><circle cx="168.9" cy="815.5" r="1.9"/><circle cx="171" cy="816.8" r="1.9"/><circle cx="172.8" cy="827.8" r="1.9"/><circle cx="176.8" cy="828.6" r="1.9"/><circle cx="180.7" cy="829.9" r="1.9"/><circle cx="186" cy="831.2" r="1.9"/><circle cx="192.5" cy="832.5" r="1.9"/><circle cx="207.8" cy="832" r="1.9"/><circle cx="213.6" cy="833.1" r="1.9"/><circle cx="224.1" cy="834.7" r="1.9"/><circle cx="228" cy="833.9" r="1.9"/><circle cx="232" cy="832" r="1.9"/><circle cx="239.8" cy="831.8" r="1.9"/><circle cx="242.5" cy="835.2" r="1.9"/><circle cx="258.2" cy="832" r="1.9"/><circle cx="263.5" cy="832" r="1.9"/><circle cx="283.2" cy="833.9" r="1.9"/><circle cx="295" cy="835.7" r="1.9"/><circle cx="297.6" cy="833.9" r="1.9"/><circle cx="301.6" cy="832" r="1.9"/><circle cx="303.4" cy="835.7" r="1.9"/><circle cx="180.7" cy="843.6" r="1.9"/><circle cx="186" cy="843.6" r="1.9"/><circle cx="191.2" cy="843.1" r="1.9"/><circle cx="195.2" cy="845.7" r="1.9"/><circle cx="197.8" cy="848.8" r="1.9"/><circle cx="176.8" cy="854.9" r="1.9"/><circle cx="179.4" cy="854.9" r="1.9"/><circle cx="205.2" cy="854.9" r="1.9"/><circle cx="210.9" cy="853.6" r="1.9"/><circle cx="226.2" cy="851.5" r="1.9"/><circle cx="232" cy="852.3" r="1.9"/><circle cx="237.2" cy="853" r="1.9"/><circle cx="242.5" cy="848.3" r="1.9"/><circle cx="254.3" cy="850.9" r="1.9"/><circle cx="258.2" cy="851.5" r="1.9"/><circle cx="266.1" cy="851.5" r="1.9"/><circle cx="285.8" cy="850.9" r="1.9"/><circle cx="289.8" cy="851.5" r="1.9"/><circle cx="304.2" cy="852.3" r="1.9"/><circle cx="160" cy="808" r="1.9"/><circle cx="158" cy="818" r="1.9"/><circle cx="160" cy="830" r="1.9"/><circle cx="158" cy="840" r="1.9"/><circle cx="150" cy="850" r="1.9"/><circle cx="155" cy="848" r="1.9"/><circle cx="162" cy="822" r="1.9"/><circle cx="163" cy="835" r="1.9"/></g>
<polygon points="65.5,802 66,798 75,794 83.5,795 90,799.5 94,805 100,812 106,818 109,833.6 76,859.1 67,859 60.5,847 59.5,833 60.5,816 63,808.5" fill="#0000ff" stroke="#0000ff" stroke-width="3.2" stroke-linejoin="round"/>
<g fill="#0000ff"><circle cx="95.9" cy="803.4" r="1.9"/><circle cx="105.3" cy="816.9" r="1.9"/><circle cx="63.8" cy="803.2" r="1.9"/><circle cx="102.5" cy="815.2" r="1.9"/><circle cx="65.9" cy="798.7" r="1.9"/><circle cx="96" cy="841.8" r="1.9"/><circle cx="69.4" cy="796.2" r="1.9"/><circle cx="76.5" cy="857" r="1.9"/><circle cx="77" cy="792.5" r="1.9"/><circle cx="83" cy="850.2" r="1.9"/><circle cx="76" cy="859.1" r="1.9"/><circle cx="106.6" cy="829.2" r="1.9"/><circle cx="97.9" cy="809.5" r="1.9"/><circle cx="101.7" cy="837.9" r="1.9"/><circle cx="82.1" cy="852.6" r="1.9"/><circle cx="110.9" cy="830" r="1.9"/><circle cx="103.3" cy="838" r="1.9"/><circle cx="88.4" cy="848.6" r="1.9"/><circle cx="94.2" cy="804.7" r="1.9"/><circle cx="98.7" cy="813.4" r="1.9"/><circle cx="79.4" cy="856.4" r="1.9"/><circle cx="94.9" cy="803.8" r="1.9"/><circle cx="96.8" cy="808.8" r="1.9"/><circle cx="85.2" cy="794.5" r="1.9"/><circle cx="79.4" cy="792.6" r="1.9"/><circle cx="108.3" cy="826.6" r="1.9"/><circle cx="70.3" cy="793.6" r="1.9"/><circle cx="80.6" cy="792.9" r="1.9"/><circle cx="107.8" cy="830.7" r="1.9"/><circle cx="96.1" cy="842" r="1.9"/><circle cx="108.3" cy="820.2" r="1.9"/><circle cx="99.1" cy="811.1" r="1.9"/><circle cx="85.2" cy="848.5" r="1.9"/><circle cx="98.2" cy="809.2" r="1.9"/><circle cx="101.7" cy="811.3" r="1.9"/><circle cx="64.7" cy="802.4" r="1.9"/><circle cx="97.2" cy="841.5" r="1.9"/><circle cx="101.2" cy="811.4" r="1.9"/><circle cx="95.8" cy="806" r="1.9"/><circle cx="102.4" cy="813.4" r="1.9"/><circle cx="67.4" cy="797.4" r="1.9"/><circle cx="86" cy="797.3" r="1.9"/><circle cx="95.1" cy="809.6" r="1.9"/><circle cx="70.8" cy="794.9" r="1.9"/><circle cx="107.6" cy="824.9" r="1.9"/><circle cx="110.6" cy="832.4" r="1.9"/><circle cx="67.2" cy="798.6" r="1.9"/><circle cx="109.5" cy="829.8" r="1.9"/><circle cx="94.4" cy="804.7" r="1.9"/><circle cx="62.4" cy="806.3" r="1.9"/><circle cx="61.8" cy="819.4" r="1.9"/><circle cx="59.8" cy="814.4" r="1.9"/><circle cx="60.8" cy="840.3" r="1.9"/><circle cx="60.9" cy="850" r="1.9"/><circle cx="61.9" cy="818" r="1.9"/><circle cx="66.3" cy="854.7" r="1.9"/><circle cx="60.3" cy="817.7" r="1.9"/><circle cx="65.1" cy="858.3" r="1.9"/><circle cx="60.9" cy="834.4" r="1.9"/><circle cx="61.5" cy="827.1" r="1.9"/><circle cx="59.9" cy="835.2" r="1.9"/><circle cx="61.5" cy="809.5" r="1.9"/><circle cx="59.9" cy="844.4" r="1.9"/><circle cx="59.1" cy="844" r="1.9"/><circle cx="58.6" cy="825.1" r="1.9"/><circle cx="63" cy="852.6" r="1.9"/><circle cx="59.9" cy="840.4" r="1.9"/><circle cx="64.4" cy="854.1" r="1.9"/><circle cx="59.9" cy="845.1" r="1.9"/><circle cx="64.1" cy="808.2" r="1.9"/><circle cx="64.5" cy="856.5" r="1.9"/><circle cx="59.2" cy="835.3" r="1.9"/><circle cx="66.4" cy="857.5" r="1.9"/><circle cx="63.5" cy="854.4" r="1.9"/><circle cx="60.5" cy="844.5" r="1.9"/><circle cx="59.4" cy="827.2" r="1.9"/><circle cx="64.6" cy="808" r="1.9"/><circle cx="59.9" cy="840.2" r="1.9"/><circle cx="62.2" cy="810.1" r="1.9"/><circle cx="90" cy="741.4" r="1.9"/><circle cx="93" cy="741.4" r="1.9"/><circle cx="96" cy="741.4" r="1.9"/><circle cx="91.7" cy="747.5" r="1.9"/><circle cx="93.4" cy="753.7" r="1.9"/><circle cx="100.4" cy="749.3" r="1.9"/><circle cx="100.4" cy="752.4" r="1.9"/><circle cx="92.5" cy="750" r="1.9"/><circle cx="76.8" cy="753.7" r="1.9"/><circle cx="68" cy="758.9" r="1.9"/><circle cx="72.4" cy="758" r="1.9"/><circle cx="75.9" cy="757.2" r="1.9"/><circle cx="54.9" cy="770.3" r="1.9"/><circle cx="58" cy="770.3" r="1.9"/><circle cx="61.9" cy="770.3" r="1.9"/><circle cx="66.3" cy="771.2" r="1.9"/><circle cx="68" cy="773.8" r="1.9"/><circle cx="67.2" cy="766.8" r="1.9"/><circle cx="82.9" cy="766.8" r="1.9"/><circle cx="96" cy="767.7" r="1.9"/><circle cx="96.9" cy="772" r="1.9"/><circle cx="106.6" cy="769.4" r="1.9"/><circle cx="105.7" cy="772" r="1.9"/><circle cx="114.5" cy="770" r="1.9"/><circle cx="124.1" cy="781.7" r="1.9"/><circle cx="138.1" cy="781.7" r="1.9"/><circle cx="159.1" cy="782.2" r="1.9"/><circle cx="163" cy="782" r="1.9"/><circle cx="120.6" cy="788.7" r="1.9"/><circle cx="125.8" cy="789.9" r="1.9"/><circle cx="67" cy="766.6" r="1.9"/><circle cx="67.7" cy="773.9" r="1.9"/><circle cx="83.1" cy="766.6" r="1.9"/><circle cx="96.2" cy="767.3" r="1.9"/><circle cx="96.2" cy="771.7" r="1.9"/><circle cx="106.4" cy="769.5" r="1.9"/><circle cx="114.5" cy="769.5" r="1.9"/><circle cx="105.7" cy="772.4" r="1.9"/><circle cx="75" cy="778.2" r="1.9"/><circle cx="69.2" cy="781.9" r="1.9"/><circle cx="76.5" cy="781.9" r="1.9"/><circle cx="85.3" cy="776.8" r="1.9"/><circle cx="89.6" cy="778.2" r="1.9"/><circle cx="95.5" cy="777.5" r="1.9"/><circle cx="96.9" cy="781.9" r="1.9"/><circle cx="88.2" cy="783.4" r="1.9"/><circle cx="92.6" cy="787" r="1.9"/><circle cx="98.4" cy="788.5" r="1.9"/><circle cx="102.8" cy="790.7" r="1.9"/><circle cx="104.2" cy="795.8" r="1.9"/><circle cx="64.8" cy="790.7" r="1.9"/><circle cx="60.4" cy="795" r="1.9"/><circle cx="59" cy="803.1" r="1.9"/><circle cx="61.9" cy="799.4" r="1.9"/><circle cx="72" cy="785" r="1.9"/><circle cx="80" cy="783" r="1.9"/><circle cx="84" cy="788" r="1.9"/><circle cx="70" cy="790" r="1.9"/><circle cx="78" cy="789" r="1.9"/><circle cx="108.6" cy="802.3" r="1.9"/><circle cx="113" cy="803.8" r="1.9"/><circle cx="120.3" cy="803.8" r="1.9"/><circle cx="127.6" cy="802.3" r="1.9"/><circle cx="132" cy="802.3" r="1.9"/><circle cx="136.4" cy="805.3" r="1.9"/><circle cx="124.7" cy="808.2" r="1.9"/><circle cx="115.9" cy="808.2" r="1.9"/><circle cx="121" cy="788.5" r="1.9"/><circle cx="126.1" cy="789.9" r="1.9"/><circle cx="124.7" cy="781.9" r="1.9"/><circle cx="137.8" cy="781.9" r="1.9"/><circle cx="127.6" cy="817.7" r="1.9"/><circle cx="140" cy="804" r="1.9"/><circle cx="143" cy="806" r="1.9"/><circle cx="130" cy="806" r="1.9"/><circle cx="118" cy="806" r="1.9"/><circle cx="48.8" cy="833.7" r="1.9"/><circle cx="53.1" cy="833" r="1.9"/><circle cx="48.8" cy="843.2" r="1.9"/><circle cx="48.8" cy="851.2" r="1.9"/><circle cx="54.6" cy="844.7" r="1.9"/><circle cx="57.5" cy="851.2" r="1.9"/><circle cx="56" cy="838.8" r="1.9"/><circle cx="51" cy="835" r="1.9"/><circle cx="55" cy="849" r="1.9"/><circle cx="68.7" cy="798.1" r="1.9"/><circle cx="72.2" cy="803.7" r="1.9"/><circle cx="83.5" cy="795.1" r="1.9"/><circle cx="83.5" cy="799.3" r="1.9"/><circle cx="67.3" cy="802.5" r="1.9"/><circle cx="86.3" cy="799.7" r="1.9"/><circle cx="73.5" cy="801.4" r="1.9"/><circle cx="82" cy="794.8" r="1.9"/><circle cx="88.5" cy="795.8" r="1.9"/><circle cx="87.5" cy="796.5" r="1.9"/><circle cx="81" cy="790.7" r="1.9"/><circle cx="84.6" cy="797" r="1.9"/><circle cx="92.5" cy="790.3" r="1.9"/><circle cx="77.2" cy="793.8" r="1.9"/><circle cx="85.1" cy="795.3" r="1.9"/><circle cx="77.6" cy="791.7" r="1.9"/><circle cx="79.8" cy="796.6" r="1.9"/><circle cx="63.1" cy="791.5" r="1.9"/><circle cx="63.8" cy="794.8" r="1.9"/><circle cx="80" cy="798.6" r="1.9"/><circle cx="70.4" cy="799.7" r="1.9"/><circle cx="65.6" cy="794.4" r="1.9"/><circle cx="65.9" cy="794.3" r="1.9"/><circle cx="70.1" cy="790.5" r="1.9"/><circle cx="92.7" cy="794.1" r="1.9"/><circle cx="120.1" cy="815.2" r="1.9"/><circle cx="111.3" cy="805.4" r="1.9"/><circle cx="103.6" cy="793.5" r="1.9"/><circle cx="100.7" cy="799.2" r="1.9"/><circle cx="127.1" cy="807.7" r="1.9"/><circle cx="103.7" cy="792.5" r="1.9"/><circle cx="120.3" cy="818" r="1.9"/><circle cx="73.3" cy="782.8" r="1.9"/><circle cx="96.3" cy="786.4" r="1.9"/><circle cx="118.5" cy="811.7" r="1.9"/><circle cx="125.8" cy="807.8" r="1.9"/><circle cx="84.7" cy="779.9" r="1.9"/><circle cx="116.9" cy="808.3" r="1.9"/><circle cx="111.3" cy="801.1" r="1.9"/><circle cx="91.4" cy="783.6" r="1.9"/><circle cx="96.1" cy="784.3" r="1.9"/><circle cx="100.4" cy="800" r="1.9"/><circle cx="78.6" cy="790.3" r="1.9"/><circle cx="93.9" cy="799.1" r="1.9"/><circle cx="74.4" cy="778.2" r="1.9"/><circle cx="67.1" cy="795.5" r="1.9"/><circle cx="131.9" cy="807.3" r="1.9"/><circle cx="94.6" cy="797.8" r="1.9"/><circle cx="126.8" cy="803.2" r="1.9"/><circle cx="118.7" cy="803.9" r="1.9"/><circle cx="73.5" cy="794.1" r="1.9"/><circle cx="87.4" cy="777.7" r="1.9"/><circle cx="67.2" cy="782.9" r="1.9"/><circle cx="93.8" cy="793.2" r="1.9"/><circle cx="100.5" cy="804.3" r="1.9"/><circle cx="81" cy="791.4" r="1.9"/><circle cx="75.9" cy="780.3" r="1.9"/><circle cx="109.5" cy="807.4" r="1.9"/><circle cx="119.1" cy="805.9" r="1.9"/><circle cx="121.3" cy="808.9" r="1.9"/><circle cx="88.9" cy="786" r="1.9"/><circle cx="73.3" cy="788.2" r="1.9"/><circle cx="99.3" cy="787" r="1.9"/><circle cx="90.6" cy="790.9" r="1.9"/><circle cx="126.3" cy="815.4" r="1.9"/><circle cx="66.1" cy="783.1" r="1.9"/><circle cx="112.7" cy="802.6" r="1.9"/><circle cx="94.5" cy="783.6" r="1.9"/><circle cx="124.4" cy="812.8" r="1.9"/><circle cx="96.1" cy="798.3" r="1.9"/><circle cx="78" cy="783.6" r="1.9"/><circle cx="82.8" cy="784.7" r="1.9"/><circle cx="74" cy="787.8" r="1.9"/><circle cx="134.1" cy="810" r="1.9"/><circle cx="96.1" cy="781.4" r="1.9"/><circle cx="81.1" cy="778" r="1.9"/><circle cx="103.6" cy="802.9" r="1.9"/><circle cx="78.5" cy="789.2" r="1.9"/><circle cx="123.3" cy="818" r="1.9"/><circle cx="94.8" cy="783.1" r="1.9"/><circle cx="98.3" cy="804.3" r="1.9"/><circle cx="108.3" cy="806.4" r="1.9"/><circle cx="131.1" cy="805.6" r="1.9"/><circle cx="104.9" cy="797.4" r="1.9"/><circle cx="117.6" cy="814.3" r="1.9"/><circle cx="80.2" cy="778.2" r="1.9"/><circle cx="128.4" cy="803.6" r="1.9"/><circle cx="114.8" cy="805.3" r="1.9"/><circle cx="89.4" cy="795.6" r="1.9"/><circle cx="85.4" cy="786.1" r="1.9"/><circle cx="116.7" cy="809.6" r="1.9"/><circle cx="90.5" cy="782.5" r="1.9"/><circle cx="104.9" cy="807.8" r="1.9"/><circle cx="125.9" cy="817.8" r="1.9"/><circle cx="68.8" cy="787.5" r="1.9"/><circle cx="95.8" cy="798.1" r="1.9"/><circle cx="75.1" cy="789.9" r="1.9"/><circle cx="125.9" cy="808.9" r="1.9"/><circle cx="84.3" cy="782" r="1.9"/><circle cx="76.3" cy="789.4" r="1.9"/><circle cx="86.5" cy="787.1" r="1.9"/><circle cx="98.6" cy="806.1" r="1.9"/><circle cx="104.4" cy="796.4" r="1.9"/><circle cx="88.2" cy="777.2" r="1.9"/><circle cx="112.7" cy="811.3" r="1.9"/><circle cx="115.1" cy="808.7" r="1.9"/><circle cx="89.4" cy="787.9" r="1.9"/><circle cx="75.3" cy="790.3" r="1.9"/><circle cx="85.2" cy="794.5" r="1.9"/><circle cx="103.1" cy="802.8" r="1.9"/><circle cx="102" cy="793.5" r="1.9"/><circle cx="76.4" cy="787" r="1.9"/><circle cx="69" cy="790.4" r="1.9"/><circle cx="124" cy="808.9" r="1.9"/><circle cx="90.9" cy="787.5" r="1.9"/><circle cx="65.4" cy="794.7" r="1.9"/><circle cx="69" cy="780" r="1.9"/><circle cx="81.2" cy="783.7" r="1.9"/><circle cx="92.6" cy="790.6" r="1.9"/><circle cx="67.5" cy="779.3" r="1.9"/><circle cx="64.2" cy="780.4" r="1.9"/><circle cx="90.1" cy="792.9" r="1.9"/><circle cx="68.2" cy="780.4" r="1.9"/><circle cx="101.4" cy="786.7" r="1.9"/><circle cx="80.8" cy="776.4" r="1.9"/><circle cx="66.4" cy="779.3" r="1.9"/><circle cx="89.9" cy="776.2" r="1.9"/><circle cx="85.1" cy="791.4" r="1.9"/><circle cx="64.1" cy="780.7" r="1.9"/><circle cx="81.4" cy="787.2" r="1.9"/><circle cx="94.9" cy="788.6" r="1.9"/><circle cx="82.2" cy="781.8" r="1.9"/><circle cx="90.3" cy="784.2" r="1.9"/><circle cx="103" cy="785.6" r="1.9"/><circle cx="88.6" cy="788.3" r="1.9"/><circle cx="84.3" cy="784.8" r="1.9"/><circle cx="91.9" cy="787" r="1.9"/><circle cx="84.8" cy="794.5" r="1.9"/><circle cx="98.2" cy="786.1" r="1.9"/><circle cx="76.8" cy="778.6" r="1.9"/><circle cx="81.5" cy="783.5" r="1.9"/><circle cx="82.2" cy="780.1" r="1.9"/><circle cx="84.2" cy="786.5" r="1.9"/><circle cx="68.3" cy="788.2" r="1.9"/><circle cx="93.8" cy="778.9" r="1.9"/><circle cx="74.4" cy="775.8" r="1.9"/><circle cx="83.8" cy="788.5" r="1.9"/><circle cx="81.3" cy="786.8" r="1.9"/><circle cx="89.4" cy="775.9" r="1.9"/><circle cx="66.3" cy="785.1" r="1.9"/><circle cx="102.8" cy="789.1" r="1.9"/><circle cx="82.7" cy="780.2" r="1.9"/><circle cx="69.5" cy="787.9" r="1.9"/><circle cx="96.1" cy="782.9" r="1.9"/><circle cx="67.6" cy="780.5" r="1.9"/><circle cx="93.7" cy="790.4" r="1.9"/><circle cx="80.8" cy="792.7" r="1.9"/><circle cx="72.6" cy="792.8" r="1.9"/><circle cx="93.6" cy="776.7" r="1.9"/><circle cx="76" cy="782.9" r="1.9"/><circle cx="84.2" cy="775.5" r="1.9"/><circle cx="102.7" cy="785.6" r="1.9"/><circle cx="88" cy="793.7" r="1.9"/><circle cx="94.2" cy="792.2" r="1.9"/><circle cx="100.7" cy="788.3" r="1.9"/><circle cx="111.5" cy="817" r="1.9"/><circle cx="100.5" cy="805.3" r="1.9"/><circle cx="103" cy="818.8" r="1.9"/><circle cx="112.9" cy="810.9" r="1.9"/><circle cx="109.2" cy="813.8" r="1.9"/><circle cx="121.2" cy="819.5" r="1.9"/><circle cx="106.9" cy="833.9" r="1.9"/><circle cx="104.8" cy="826.3" r="1.9"/><circle cx="98.9" cy="811.6" r="1.9"/><circle cx="99.8" cy="806.6" r="1.9"/><circle cx="118.6" cy="820" r="1.9"/><circle cx="116.4" cy="826.1" r="1.9"/><circle cx="107.2" cy="820.5" r="1.9"/><circle cx="97.8" cy="811.2" r="1.9"/><circle cx="104.3" cy="815" r="1.9"/><circle cx="108.6" cy="831.1" r="1.9"/><circle cx="108.5" cy="822.8" r="1.9"/><circle cx="116.2" cy="825.5" r="1.9"/><circle cx="107.4" cy="822.2" r="1.9"/><circle cx="109.8" cy="814.6" r="1.9"/><circle cx="117.2" cy="817.6" r="1.9"/><circle cx="104.2" cy="815.7" r="1.9"/><circle cx="113.2" cy="813.1" r="1.9"/><circle cx="118.1" cy="823.4" r="1.9"/><circle cx="117" cy="823.8" r="1.9"/><circle cx="107.9" cy="822.9" r="1.9"/><circle cx="111" cy="812.6" r="1.9"/><circle cx="114.6" cy="820" r="1.9"/><circle cx="105.8" cy="826.8" r="1.9"/><circle cx="116.4" cy="815.9" r="1.9"/><circle cx="117.4" cy="817.4" r="1.9"/><circle cx="116.8" cy="825.2" r="1.9"/><circle cx="111.9" cy="811.4" r="1.9"/><circle cx="114.2" cy="822.7" r="1.9"/><circle cx="123" cy="820.4" r="1.9"/><circle cx="112.7" cy="814.5" r="1.9"/><circle cx="107.9" cy="830" r="1.9"/><circle cx="100.4" cy="818.9" r="1.9"/><circle cx="111.9" cy="816.3" r="1.9"/><circle cx="105.5" cy="810.1" r="1.9"/><circle cx="103.4" cy="806.5" r="1.9"/><circle cx="105.6" cy="818.3" r="1.9"/><circle cx="115.6" cy="818.5" r="1.9"/><circle cx="105.9" cy="810.6" r="1.9"/><circle cx="108.3" cy="808.8" r="1.9"/><circle cx="112.1" cy="814.6" r="1.9"/><circle cx="106.1" cy="815.9" r="1.9"/><circle cx="110.2" cy="825.7" r="1.9"/><circle cx="103.9" cy="815.3" r="1.9"/><circle cx="115.7" cy="819.3" r="1.9"/><circle cx="107.1" cy="822" r="1.9"/><circle cx="102.8" cy="808.6" r="1.9"/><circle cx="109.7" cy="826.7" r="1.9"/><circle cx="109.8" cy="819.8" r="1.9"/><circle cx="114.1" cy="817.2" r="1.9"/><circle cx="114.9" cy="815.9" r="1.9"/><circle cx="106" cy="814.5" r="1.9"/><circle cx="110.9" cy="818.5" r="1.9"/><circle cx="101.9" cy="806.7" r="1.9"/><circle cx="109.5" cy="818.2" r="1.9"/><circle cx="105.6" cy="818.6" r="1.9"/><circle cx="103.4" cy="810.6" r="1.9"/><circle cx="103.1" cy="812.2" r="1.9"/><circle cx="105.4" cy="821.9" r="1.9"/><circle cx="105.3" cy="826.5" r="1.9"/><circle cx="109" cy="817.9" r="1.9"/><circle cx="102.3" cy="812.7" r="1.9"/><circle cx="107.5" cy="832.9" r="1.9"/><circle cx="118.3" cy="816" r="1.9"/><circle cx="99.6" cy="804.8" r="1.9"/><circle cx="96.6" cy="805.7" r="1.9"/><circle cx="102.6" cy="822.5" r="1.9"/><circle cx="113.7" cy="812.6" r="1.9"/><circle cx="109.5" cy="814.2" r="1.9"/><circle cx="107.3" cy="811.9" r="1.9"/><circle cx="113.2" cy="829.2" r="1.9"/><circle cx="107.7" cy="821.5" r="1.9"/><circle cx="104.5" cy="812.7" r="1.9"/><circle cx="103.7" cy="823.1" r="1.9"/><circle cx="108.9" cy="813.4" r="1.9"/><circle cx="111.6" cy="823.3" r="1.9"/><circle cx="116" cy="825.9" r="1.9"/><circle cx="110.9" cy="812" r="1.9"/><circle cx="112.6" cy="827.7" r="1.9"/><circle cx="112.2" cy="822" r="1.9"/><circle cx="105.4" cy="810.4" r="1.9"/><circle cx="111.9" cy="816.3" r="1.9"/><circle cx="115.6" cy="817.5" r="1.9"/><circle cx="105.2" cy="827.7" r="1.9"/><circle cx="118" cy="822.5" r="1.9"/></g>
<path d="M170.5,737.2 L170.5,738.2 L170.6,739.1 L170.8,740.1 L171.1,741 L171.4,742 L171.8,742.9 L172.2,743.8 L172.7,744.7 L173.3,745.6 L174,746.5 L174.7,747.4 L175.5,748.3 L176.3,749.1 L177.2,749.9 L178.2,750.8 L179.2,751.5 L180.3,752.3 L181.4,753 L182.6,753.8 L183.8,754.5 L185.1,755.1 L186.5,755.8 L187.8,756.4 L189.3,756.9 L190.7,757.5 L192.2,758 L193.8,758.5 L195.3,758.9 L197,759.4 L198.6,759.7 L200.3,760.1 L201.9,760.4 L203.6,760.7 L205.4,760.9 L207.1,761.1 L208.9,761.3 L210.7,761.4 L212.4,761.5 L214.2,761.6 L216,761.6 L216,776 L214.2,776 L212.4,775.9 L210.7,775.8 L208.9,775.7 L207.1,775.5 L205.4,775.3 L203.6,775.1 L201.9,774.8 L200.3,774.5 L198.6,774.1 L197,773.8 L195.3,773.3 L193.8,772.9 L192.2,772.4 L190.7,771.9 L189.3,771.3 L187.8,770.8 L186.5,770.2 L185.1,769.5 L183.8,768.9 L182.6,768.2 L181.4,767.4 L180.3,766.7 L179.2,765.9 L178.2,765.2 L177.2,764.3 L176.3,763.5 L175.5,762.7 L174.7,761.8 L174,760.9 L173.3,760 L172.7,759.1 L172.2,758.2 L171.8,757.3 L171.4,756.4 L171.1,755.4 L170.8,754.5 L170.6,753.5 L170.5,752.6 L170.5,751.6Z" fill="url(#pcm)"/>
<path d="M216,761.6 L217.8,761.6 L219.6,761.5 L221.3,761.4 L223.1,761.3 L224.9,761.1 L226.6,760.9 L228.4,760.7 L230.1,760.4 L231.7,760.1 L233.4,759.7 L235,759.4 L236.7,758.9 L238.2,758.5 L239.8,758 L241.3,757.5 L242.7,756.9 L244.2,756.4 L245.5,755.8 L246.9,755.1 L248.2,754.5 L249.4,753.8 L250.6,753 L251.7,752.3 L252.8,751.5 L253.8,750.8 L254.8,749.9 L255.7,749.1 L256.5,748.3 L257.3,747.4 L258,746.5 L258.7,745.6 L259.3,744.7 L259.8,743.8 L260.2,742.9 L260.6,742 L260.9,741 L261.2,740.1 L261.4,739.1 L261.5,738.2 L261.5,737.2 L261.5,751.6 L261.5,752.6 L261.4,753.5 L261.2,754.5 L260.9,755.4 L260.6,756.4 L260.2,757.3 L259.8,758.2 L259.3,759.1 L258.7,760 L258,760.9 L257.3,761.8 L256.5,762.7 L255.7,763.5 L254.8,764.3 L253.8,765.2 L252.8,765.9 L251.7,766.7 L250.6,767.4 L249.4,768.2 L248.2,768.9 L246.9,769.5 L245.5,770.2 L244.2,770.8 L242.7,771.3 L241.3,771.9 L239.8,772.4 L238.2,772.9 L236.7,773.3 L235,773.8 L233.4,774.1 L231.7,774.5 L230.1,774.8 L228.4,775.1 L226.6,775.3 L224.9,775.5 L223.1,775.7 L221.3,775.8 L219.6,775.9 L217.8,776 L216,776Z" fill="url(#pcb)"/>
<ellipse cx="216" cy="739.2" rx="45.5" ry="24.4" fill="#0000ff"/>
<path d="M216,739.2 L170.5,739.2 A45.5,24.4 0 0 0 216,763.6 Z" fill="#ff00ff"/>
<line x1="41" y1="887" x2="325.2" y2="667" stroke="#ff0000" stroke-width="1.8"/>
<rect x="264.2" y="732.3" width="21.5" height="10.3" fill="#0000ff"/>
<rect x="264.2" y="744.5" width="21.5" height="10.3" fill="#ff00ff"/>
<text x="288.7" y="741.6" font-size="10" text-anchor="start" font-weight="normal" fill="#000" font-family="'Liberation Serif', serif" stroke="#000" stroke-width="0.45" transform="matrix(1 0 0 1.1 0 -74.2)">73.49%</text>
<text x="288.7" y="753.8" font-size="10" text-anchor="start" font-weight="normal" fill="#000" font-family="'Liberation Serif', serif" stroke="#000" stroke-width="0.45" transform="matrix(1 0 0 1.1 0 -75.4)">26.51%</text>
<circle cx="80.9" cy="679" r="2" fill="#0000ff"/>
<circle cx="80.9" cy="693" r="2" fill="#ff00ff"/>
<text x="97.2" y="682.8" font-size="11.7" text-anchor="start" font-weight="normal" fill="#000" font-family="'Liberation Serif', serif" stroke="#000" stroke-width="0.35" transform="matrix(1 0 0 1.1 0 -68.3)">Tensile fractures</text>
<text x="97.2" y="696.8" font-size="11.7" text-anchor="start" font-weight="normal" fill="#000" font-family="'Liberation Serif', serif" stroke="#000" stroke-width="0.35" transform="matrix(1 0 0 1.1 0 -69.7)">Shear fractures</text>
<rect x="41" y="667" width="284.2" height="220" fill="none" stroke="#000" stroke-width="1.6"/>
<line x1="41" y1="887" x2="45" y2="887" stroke="#000" stroke-width="1.3"/>
<text x="36" y="891.4" font-size="13" text-anchor="end" font-weight="normal" fill="#000" font-family="'Liberation Serif', serif" stroke="#000" stroke-width="0.35" transform="matrix(1 0 0 1.1 0 -89.1)">0</text>
<line x1="41" y1="873.2" x2="43.5" y2="873.2" stroke="#000" stroke-width="1.3"/>
<line x1="41" y1="859.5" x2="45" y2="859.5" stroke="#000" stroke-width="1.3"/>
<text x="36" y="863.9" font-size="13" text-anchor="end" font-weight="normal" fill="#000" font-family="'Liberation Serif', serif" stroke="#000" stroke-width="0.35" transform="matrix(1 0 0 1.1 0 -86.4)">50</text>
<line x1="41" y1="845.8" x2="43.5" y2="845.8" stroke="#000" stroke-width="1.3"/>
<line x1="41" y1="832" x2="45" y2="832" stroke="#000" stroke-width="1.3"/>
<text x="36" y="836.4" font-size="13" text-anchor="end" font-weight="normal" fill="#000" font-family="'Liberation Serif', serif" stroke="#000" stroke-width="0.35" transform="matrix(1 0 0 1.1 0 -83.6)">100</text>
<line x1="41" y1="818.2" x2="43.5" y2="818.2" stroke="#000" stroke-width="1.3"/>
<line x1="41" y1="804.5" x2="45" y2="804.5" stroke="#000" stroke-width="1.3"/>
<text x="36" y="808.9" font-size="13" text-anchor="end" font-weight="normal" fill="#000" font-family="'Liberation Serif', serif" stroke="#000" stroke-width="0.35" transform="matrix(1 0 0 1.1 0 -80.9)">150</text>
<line x1="41" y1="790.8" x2="43.5" y2="790.8" stroke="#000" stroke-width="1.3"/>
<line x1="41" y1="777" x2="45" y2="777" stroke="#000" stroke-width="1.3"/>
<text x="36" y="781.4" font-size="13" text-anchor="end" font-weight="normal" fill="#000" font-family="'Liberation Serif', serif" stroke="#000" stroke-width="0.35" transform="matrix(1 0 0 1.1 0 -78.1)">200</text>
<line x1="41" y1="763.2" x2="43.5" y2="763.2" stroke="#000" stroke-width="1.3"/>
<line x1="41" y1="749.5" x2="45" y2="749.5" stroke="#000" stroke-width="1.3"/>
<text x="36" y="753.9" font-size="13" text-anchor="end" font-weight="normal" fill="#000" font-family="'Liberation Serif', serif" stroke="#000" stroke-width="0.35" transform="matrix(1 0 0 1.1 0 -75.4)">250</text>
<line x1="41" y1="735.8" x2="43.5" y2="735.8" stroke="#000" stroke-width="1.3"/>
<line x1="41" y1="722" x2="45" y2="722" stroke="#000" stroke-width="1.3"/>
<text x="36" y="726.4" font-size="13" text-anchor="end" font-weight="normal" fill="#000" font-family="'Liberation Serif', serif" stroke="#000" stroke-width="0.35" transform="matrix(1 0 0 1.1 0 -72.6)">300</text>
<line x1="41" y1="708.2" x2="43.5" y2="708.2" stroke="#000" stroke-width="1.3"/>
<line x1="41" y1="694.5" x2="45" y2="694.5" stroke="#000" stroke-width="1.3"/>
<text x="36" y="698.9" font-size="13" text-anchor="end" font-weight="normal" fill="#000" font-family="'Liberation Serif', serif" stroke="#000" stroke-width="0.35" transform="matrix(1 0 0 1.1 0 -69.9)">350</text>
<line x1="41" y1="680.8" x2="43.5" y2="680.8" stroke="#000" stroke-width="1.3"/>
<line x1="41" y1="667" x2="45" y2="667" stroke="#000" stroke-width="1.3"/>
<text x="36" y="671.4" font-size="13" text-anchor="end" font-weight="normal" fill="#000" font-family="'Liberation Serif', serif" stroke="#000" stroke-width="0.35" transform="matrix(1 0 0 1.1 0 -67.1)">400</text>
<line x1="41" y1="887" x2="41" y2="883" stroke="#000" stroke-width="1.3"/>
<text x="41" y="901.5" font-size="13" text-anchor="middle" font-weight="normal" fill="#000" font-family="'Liberation Serif', serif" stroke="#000" stroke-width="0.35" transform="matrix(1 0 0 1.1 0 -90.2)">0</text>
<line x1="55.2" y1="887" x2="55.2" y2="884.5" stroke="#000" stroke-width="1.3"/>
<line x1="69.4" y1="887" x2="69.4" y2="883" stroke="#000" stroke-width="1.3"/>
<text x="69.4" y="901.5" font-size="13" text-anchor="middle" font-weight="normal" fill="#000" font-family="'Liberation Serif', serif" stroke="#000" stroke-width="0.35" transform="matrix(1 0 0 1.1 0 -90.2)">5</text>
<line x1="83.6" y1="887" x2="83.6" y2="884.5" stroke="#000" stroke-width="1.3"/>
<line x1="97.8" y1="887" x2="97.8" y2="883" stroke="#000" stroke-width="1.3"/>
<text x="97.8" y="901.5" font-size="13" text-anchor="middle" font-weight="normal" fill="#000" font-family="'Liberation Serif', serif" stroke="#000" stroke-width="0.35" transform="matrix(1 0 0 1.1 0 -90.2)">10</text>
<line x1="112" y1="887" x2="112" y2="884.5" stroke="#000" stroke-width="1.3"/>
<line x1="126.3" y1="887" x2="126.3" y2="883" stroke="#000" stroke-width="1.3"/>
<text x="126.3" y="901.5" font-size="13" text-anchor="middle" font-weight="normal" fill="#000" font-family="'Liberation Serif', serif" stroke="#000" stroke-width="0.35" transform="matrix(1 0 0 1.1 0 -90.2)">15</text>
<line x1="140.5" y1="887" x2="140.5" y2="884.5" stroke="#000" stroke-width="1.3"/>
<line x1="154.7" y1="887" x2="154.7" y2="883" stroke="#000" stroke-width="1.3"/>
<text x="154.7" y="901.5" font-size="13" text-anchor="middle" font-weight="normal" fill="#000" font-family="'Liberation Serif', serif" stroke="#000" stroke-width="0.35" transform="matrix(1 0 0 1.1 0 -90.2)">20</text>
<line x1="168.9" y1="887" x2="168.9" y2="884.5" stroke="#000" stroke-width="1.3"/>
<line x1="183.1" y1="887" x2="183.1" y2="883" stroke="#000" stroke-width="1.3"/>
<text x="183.1" y="901.5" font-size="13" text-anchor="middle" font-weight="normal" fill="#000" font-family="'Liberation Serif', serif" stroke="#000" stroke-width="0.35" transform="matrix(1 0 0 1.1 0 -90.2)">25</text>
<line x1="197.3" y1="887" x2="197.3" y2="884.5" stroke="#000" stroke-width="1.3"/>
<line x1="211.5" y1="887" x2="211.5" y2="883" stroke="#000" stroke-width="1.3"/>
<text x="211.5" y="901.5" font-size="13" text-anchor="middle" font-weight="normal" fill="#000" font-family="'Liberation Serif', serif" stroke="#000" stroke-width="0.35" transform="matrix(1 0 0 1.1 0 -90.2)">30</text>
<line x1="225.7" y1="887" x2="225.7" y2="884.5" stroke="#000" stroke-width="1.3"/>
<line x1="239.9" y1="887" x2="239.9" y2="883" stroke="#000" stroke-width="1.3"/>
<text x="239.9" y="901.5" font-size="13" text-anchor="middle" font-weight="normal" fill="#000" font-family="'Liberation Serif', serif" stroke="#000" stroke-width="0.35" transform="matrix(1 0 0 1.1 0 -90.2)">35</text>
<line x1="254.2" y1="887" x2="254.2" y2="884.5" stroke="#000" stroke-width="1.3"/>
<line x1="268.4" y1="887" x2="268.4" y2="883" stroke="#000" stroke-width="1.3"/>
<text x="268.4" y="901.5" font-size="13" text-anchor="middle" font-weight="normal" fill="#000" font-family="'Liberation Serif', serif" stroke="#000" stroke-width="0.35" transform="matrix(1 0 0 1.1 0 -90.2)">40</text>
<line x1="282.6" y1="887" x2="282.6" y2="884.5" stroke="#000" stroke-width="1.3"/>
<line x1="296.8" y1="887" x2="296.8" y2="883" stroke="#000" stroke-width="1.3"/>
<text x="296.8" y="901.5" font-size="13" text-anchor="middle" font-weight="normal" fill="#000" font-family="'Liberation Serif', serif" stroke="#000" stroke-width="0.35" transform="matrix(1 0 0 1.1 0 -90.2)">45</text>
<line x1="311" y1="887" x2="311" y2="884.5" stroke="#000" stroke-width="1.3"/>
<line x1="325.2" y1="887" x2="325.2" y2="883" stroke="#000" stroke-width="1.3"/>
<text x="325.2" y="901.5" font-size="13" text-anchor="middle" font-weight="normal" fill="#000" font-family="'Liberation Serif', serif" stroke="#000" stroke-width="0.35" transform="matrix(1 0 0 1.1 0 -90.2)">50</text>
<text x="183.1" y="915.5" font-size="13" text-anchor="middle" font-weight="normal" fill="#000" font-family="'Liberation Serif', serif" stroke="#000" stroke-width="0.2" transform="matrix(1 0 0 1.1 0 -91.6)">RA (ms/V)</text>
<text x="10.5" y="777" font-size="13.4" text-anchor="middle" font-weight="normal" fill="#000" font-family="'Liberation Serif', serif" stroke="#000" stroke-width="0.3" transform="rotate(-90 10.5 777)">AF (kHz)</text>
<g stroke="#d0d0d0" stroke-width="0.8" stroke-dasharray="3,3"><line x1="412.2" y1="5" x2="412.2" y2="216.2"/><line x1="455.5" y1="5" x2="455.5" y2="216.2"/><line x1="498.8" y1="5" x2="498.8" y2="216.2"/><line x1="542.2" y1="5" x2="542.2" y2="216.2"/><line x1="585.5" y1="5" x2="585.5" y2="216.2"/><line x1="628.8" y1="5" x2="628.8" y2="216.2"/><line x1="390.5" y1="177.8" x2="650.5" y2="177.8"/><line x1="390.5" y1="139.4" x2="650.5" y2="139.4"/><line x1="390.5" y1="101" x2="650.5" y2="101"/><line x1="390.5" y1="62.6" x2="650.5" y2="62.6"/><line x1="390.5" y1="24.2" x2="650.5" y2="24.2"/></g>
<line x1="390.5" y1="5" x2="650.5" y2="5" stroke="#000" stroke-width="1.6"/>
<line x1="390.5" y1="216.2" x2="650.5" y2="216.2" stroke="#000" stroke-width="1.6"/>
<line x1="390.5" y1="4.2" x2="390.5" y2="217" stroke="#0000ff" stroke-width="1.6"/>
<line x1="650.5" y1="4.2" x2="650.5" y2="217" stroke="#ff00ff" stroke-width="1.6"/>
<line x1="390.5" y1="216.2" x2="390.5" y2="212.2" stroke="#000" stroke-width="1.3"/>
<text x="390.5" y="237" font-size="13.5" text-anchor="middle" font-weight="normal" fill="#000" font-family="'Liberation Serif', serif" stroke="#000" stroke-width="0.2" transform="matrix(1 0 0 1.1 0 -23.7)">600</text>
<line x1="412.2" y1="216.2" x2="412.2" y2="213.2" stroke="#000" stroke-width="1.3"/>
<line x1="433.8" y1="216.2" x2="433.8" y2="212.2" stroke="#000" stroke-width="1.3"/>
<text x="433.8" y="237" font-size="13.5" text-anchor="middle" font-weight="normal" fill="#000" font-family="'Liberation Serif', serif" stroke="#000" stroke-width="0.2" transform="matrix(1 0 0 1.1 0 -23.7)">750</text>
<line x1="455.5" y1="216.2" x2="455.5" y2="213.2" stroke="#000" stroke-width="1.3"/>
<line x1="477.2" y1="216.2" x2="477.2" y2="212.2" stroke="#000" stroke-width="1.3"/>
<text x="477.2" y="237" font-size="13.5" text-anchor="middle" font-weight="normal" fill="#000" font-family="'Liberation Serif', serif" stroke="#000" stroke-width="0.2" transform="matrix(1 0 0 1.1 0 -23.7)">900</text>
<line x1="498.8" y1="216.2" x2="498.8" y2="213.2" stroke="#000" stroke-width="1.3"/>
<line x1="520.5" y1="216.2" x2="520.5" y2="212.2" stroke="#000" stroke-width="1.3"/>
<text x="520.5" y="237" font-size="13.5" text-anchor="middle" font-weight="normal" fill="#000" font-family="'Liberation Serif', serif" stroke="#000" stroke-width="0.2" transform="matrix(1 0 0 1.1 0 -23.7)">1050</text>
<line x1="542.2" y1="216.2" x2="542.2" y2="213.2" stroke="#000" stroke-width="1.3"/>
<line x1="563.8" y1="216.2" x2="563.8" y2="212.2" stroke="#000" stroke-width="1.3"/>
<text x="563.8" y="237" font-size="13.5" text-anchor="middle" font-weight="normal" fill="#000" font-family="'Liberation Serif', serif" stroke="#000" stroke-width="0.2" transform="matrix(1 0 0 1.1 0 -23.7)">1200</text>
<line x1="585.5" y1="216.2" x2="585.5" y2="213.2" stroke="#000" stroke-width="1.3"/>
<line x1="607.2" y1="216.2" x2="607.2" y2="212.2" stroke="#000" stroke-width="1.3"/>
<text x="607.2" y="237" font-size="13.5" text-anchor="middle" font-weight="normal" fill="#000" font-family="'Liberation Serif', serif" stroke="#000" stroke-width="0.2" transform="matrix(1 0 0 1.1 0 -23.7)">1350</text>
<line x1="628.8" y1="216.2" x2="628.8" y2="213.2" stroke="#000" stroke-width="1.3"/>
<line x1="650.5" y1="216.2" x2="650.5" y2="212.2" stroke="#000" stroke-width="1.3"/>
<text x="650.5" y="237" font-size="13.5" text-anchor="middle" font-weight="normal" fill="#000" font-family="'Liberation Serif', serif" stroke="#000" stroke-width="0.2" transform="matrix(1 0 0 1.1 0 -23.7)">1500</text>
<line x1="390.5" y1="216.2" x2="394.5" y2="216.2" stroke="#0000ff" stroke-width="1.3"/>
<text x="383.9" y="222.4" font-size="13.5" text-anchor="end" font-weight="bold" fill="#0000e0" font-family="'Liberation Serif', serif" transform="matrix(1 0 0 1.1 0 -22.2)">0</text>
<line x1="390.5" y1="198.6" x2="393" y2="198.6" stroke="#0000ff" stroke-width="1.3"/>
<line x1="390.5" y1="181" x2="394.5" y2="181" stroke="#0000ff" stroke-width="1.3"/>
<text x="383.9" y="187.2" font-size="13.5" text-anchor="end" font-weight="bold" fill="#0000e0" font-family="'Liberation Serif', serif" transform="matrix(1 0 0 1.1 0 -18.7)">2</text>
<line x1="390.5" y1="163.4" x2="393" y2="163.4" stroke="#0000ff" stroke-width="1.3"/>
<line x1="390.5" y1="145.8" x2="394.5" y2="145.8" stroke="#0000ff" stroke-width="1.3"/>
<text x="383.9" y="152" font-size="13.5" text-anchor="end" font-weight="bold" fill="#0000e0" font-family="'Liberation Serif', serif" transform="matrix(1 0 0 1.1 0 -15.2)">4</text>
<line x1="390.5" y1="128.2" x2="393" y2="128.2" stroke="#0000ff" stroke-width="1.3"/>
<line x1="390.5" y1="110.6" x2="394.5" y2="110.6" stroke="#0000ff" stroke-width="1.3"/>
<text x="383.9" y="116.8" font-size="13.5" text-anchor="end" font-weight="bold" fill="#0000e0" font-family="'Liberation Serif', serif" transform="matrix(1 0 0 1.1 0 -11.7)">6</text>
<line x1="390.5" y1="93" x2="393" y2="93" stroke="#0000ff" stroke-width="1.3"/>
<line x1="390.5" y1="75.4" x2="394.5" y2="75.4" stroke="#0000ff" stroke-width="1.3"/>
<text x="383.9" y="81.6" font-size="13.5" text-anchor="end" font-weight="bold" fill="#0000e0" font-family="'Liberation Serif', serif" transform="matrix(1 0 0 1.1 0 -8.2)">8</text>
<line x1="390.5" y1="57.8" x2="393" y2="57.8" stroke="#0000ff" stroke-width="1.3"/>
<line x1="390.5" y1="40.2" x2="394.5" y2="40.2" stroke="#0000ff" stroke-width="1.3"/>
<text x="383.9" y="46.4" font-size="13.5" text-anchor="end" font-weight="bold" fill="#0000e0" font-family="'Liberation Serif', serif" transform="matrix(1 0 0 1.1 0 -4.6)">10</text>
<line x1="390.5" y1="22.6" x2="393" y2="22.6" stroke="#0000ff" stroke-width="1.3"/>
<line x1="390.5" y1="5" x2="394.5" y2="5" stroke="#0000ff" stroke-width="1.3"/>
<text x="383.9" y="11.2" font-size="13.5" text-anchor="end" font-weight="bold" fill="#0000e0" font-family="'Liberation Serif', serif" transform="matrix(1 0 0 1.1 0 -1.1)">12</text>
<line x1="650.5" y1="197" x2="646.5" y2="197" stroke="#ff00ff" stroke-width="1.3"/>
<text x="657.5" y="202.9" font-size="13.5" text-anchor="start" font-weight="normal" fill="#d200d2" font-family="'Liberation Serif', serif" stroke="#d200d2" stroke-width="0.2" transform="matrix(1 0 0 1.1 0 -20.3)">0</text>
<line x1="650.5" y1="177.8" x2="648" y2="177.8" stroke="#ff00ff" stroke-width="1.3"/>
<line x1="650.5" y1="158.6" x2="646.5" y2="158.6" stroke="#ff00ff" stroke-width="1.3"/>
<text x="657.5" y="164.5" font-size="13.5" text-anchor="start" font-weight="normal" fill="#d200d2" font-family="'Liberation Serif', serif" stroke="#d200d2" stroke-width="0.2" transform="matrix(1 0 0 1.1 0 -16.5)">1</text>
<line x1="650.5" y1="139.4" x2="648" y2="139.4" stroke="#ff00ff" stroke-width="1.3"/>
<line x1="650.5" y1="120.2" x2="646.5" y2="120.2" stroke="#ff00ff" stroke-width="1.3"/>
<text x="657.5" y="126.1" font-size="13.5" text-anchor="start" font-weight="normal" fill="#d200d2" font-family="'Liberation Serif', serif" stroke="#d200d2" stroke-width="0.2" transform="matrix(1 0 0 1.1 0 -12.6)">2</text>
<line x1="650.5" y1="101" x2="648" y2="101" stroke="#ff00ff" stroke-width="1.3"/>
<line x1="650.5" y1="81.8" x2="646.5" y2="81.8" stroke="#ff00ff" stroke-width="1.3"/>
<text x="657.5" y="87.7" font-size="13.5" text-anchor="start" font-weight="normal" fill="#d200d2" font-family="'Liberation Serif', serif" stroke="#d200d2" stroke-width="0.2" transform="matrix(1 0 0 1.1 0 -8.8)">3</text>
<line x1="650.5" y1="62.6" x2="648" y2="62.6" stroke="#ff00ff" stroke-width="1.3"/>
<line x1="650.5" y1="43.4" x2="646.5" y2="43.4" stroke="#ff00ff" stroke-width="1.3"/>
<text x="657.5" y="49.3" font-size="13.5" text-anchor="start" font-weight="normal" fill="#d200d2" font-family="'Liberation Serif', serif" stroke="#d200d2" stroke-width="0.2" transform="matrix(1 0 0 1.1 0 -4.9)">4</text>
<line x1="650.5" y1="24.2" x2="648" y2="24.2" stroke="#ff00ff" stroke-width="1.3"/>
<text x="657.5" y="10.9" font-size="13.5" text-anchor="start" font-weight="normal" fill="#d200d2" font-family="'Liberation Serif', serif" stroke="#d200d2" stroke-width="0.2" transform="matrix(1 0 0 1.1 0 -1.1)">5</text>
<text x="520.5" y="254" font-size="13.5" text-anchor="middle" font-weight="normal" fill="#000" font-family="'Liberation Serif', serif" stroke="#000" stroke-width="0.2" transform="matrix(1 0 0 1.1 0 -25.4)">Time/s</text>
<text x="363.5" y="110.6" font-size="13.7" text-anchor="middle" font-weight="normal" fill="#0000e6" font-family="'Liberation Serif', serif" stroke="#0000e6" stroke-width="0.2" transform="rotate(-90 363.5 110.6)">Proportion of tensile fractures/%</text>
<text x="681.5" y="117.8" font-size="13.8" text-anchor="middle" font-weight="normal" fill="#d200d2" font-family="'Liberation Serif', serif" stroke="#d200d2" stroke-width="0.2" transform="rotate(-90 681.5 117.8)">Proportion of shear fractures/%</text>
<line x1="426.7" y1="50.7" x2="426.7" y2="174.2" stroke="#222" stroke-width="1.3" stroke-dasharray="5,3"/>
<line x1="608.5" y1="45" x2="608.5" y2="186.1" stroke="#222" stroke-width="1.3" stroke-dasharray="5,3"/>
<polyline points="399.9,93.6 426.7,50.7 451.8,46.3 481,51.2 536.5,41 598.6,55.5 608.5,45 615.5,46.1 619,66.2 624.4,74.2" fill="none" stroke="#000" stroke-width="1.3" stroke-linejoin="round"/>
<polyline points="399.9,81.3 426.7,174.2 451.8,184.4 481,172.4 536.5,194.6 598.6,164.3 608.5,186.1 615.5,184.9 619,141.1 624.4,124.1" fill="none" stroke="#000" stroke-width="1.3" stroke-linejoin="round"/>
<circle cx="399.9" cy="93.6" r="3.3" fill="url(#ballb)"/>
<circle cx="426.7" cy="50.7" r="3.3" fill="url(#ballb)"/>
<circle cx="451.8" cy="46.3" r="3.3" fill="url(#ballb)"/>
<circle cx="481" cy="51.2" r="3.3" fill="url(#ballb)"/>
<circle cx="536.5" cy="41" r="3.3" fill="url(#ballb)"/>
<circle cx="598.6" cy="55.5" r="3.3" fill="url(#ballb)"/>
<circle cx="608.5" cy="45" r="3.3" fill="url(#ballb)"/>
<circle cx="615.5" cy="46.1" r="3.3" fill="url(#ballb)"/>
<circle cx="619" cy="66.2" r="3.3" fill="url(#ballb)"/>
<circle cx="624.4" cy="74.2" r="3.3" fill="url(#ballb)"/>
<circle cx="399.9" cy="81.3" r="3.3" fill="url(#ballm)"/>
<circle cx="426.7" cy="174.2" r="3.3" fill="url(#ballm)"/>
<circle cx="451.8" cy="184.4" r="3.3" fill="url(#ballm)"/>
<circle cx="481" cy="172.4" r="3.3" fill="url(#ballm)"/>
<circle cx="536.5" cy="194.6" r="3.3" fill="url(#ballm)"/>
<circle cx="598.6" cy="164.3" r="3.3" fill="url(#ballm)"/>
<circle cx="608.5" cy="186.1" r="3.3" fill="url(#ballm)"/>
<circle cx="615.5" cy="184.9" r="3.3" fill="url(#ballm)"/>
<circle cx="619" cy="141.1" r="3.3" fill="url(#ballm)"/>
<circle cx="624.4" cy="124.1" r="3.3" fill="url(#ballm)"/>
<line x1="398.5" y1="17.9" x2="424" y2="17.9" stroke="#000" stroke-width="1.4"/>
<circle cx="411" cy="17.9" r="3.3" fill="url(#ballb)"/>
<text x="426.5" y="21.7" font-size="11" text-anchor="start" font-weight="normal" fill="#000" font-family="'Liberation Serif', serif" stroke="#000" stroke-width="0.35" transform="matrix(1 0 0 1.1 0 -2.2)">Tensile fractures</text>
<line x1="398.5" y1="31.8" x2="424" y2="31.8" stroke="#000" stroke-width="1.4"/>
<circle cx="411" cy="31.8" r="3.3" fill="url(#ballm)"/>
<text x="426.5" y="35.6" font-size="11" text-anchor="start" font-weight="normal" fill="#000" font-family="'Liberation Serif', serif" stroke="#000" stroke-width="0.35" transform="matrix(1 0 0 1.1 0 -3.6)">Shear fractures</text>
<text x="416.5" y="98.5" font-size="16" text-anchor="middle" font-weight="normal" fill="#000" font-family="'Liberation Serif', serif" stroke="#000" stroke-width="0.2" transform="matrix(1 0 0 1.1 0 -9.9)">I</text>
<text x="510" y="98.5" font-size="16" text-anchor="middle" font-weight="normal" fill="#000" font-family="'Liberation Serif', serif" stroke="#000" stroke-width="0.2" transform="matrix(1 0 0 1.1 0 -9.9)">II</text>
<text x="621" y="98.8" font-size="15" text-anchor="middle" font-weight="normal" fill="#000" font-family="'Liberation Serif', serif" stroke="#000" stroke-width="0.2" transform="matrix(1 0 0 1.1 0 -9.9)">III</text>
<g stroke="#d0d0d0" stroke-width="0.8" stroke-dasharray="3,3"><line x1="416.3" y1="335.5" x2="416.3" y2="546.8"/><line x1="468.3" y1="335.5" x2="468.3" y2="546.8"/><line x1="520.3" y1="335.5" x2="520.3" y2="546.8"/><line x1="572.3" y1="335.5" x2="572.3" y2="546.8"/><line x1="624.3" y1="335.5" x2="624.3" y2="546.8"/><line x1="390.3" y1="508.4" x2="650.3" y2="508.4"/><line x1="390.3" y1="470" x2="650.3" y2="470"/><line x1="390.3" y1="431.5" x2="650.3" y2="431.5"/><line x1="390.3" y1="393.1" x2="650.3" y2="393.1"/><line x1="390.3" y1="354.7" x2="650.3" y2="354.7"/></g>
<line x1="390.3" y1="335.5" x2="650.3" y2="335.5" stroke="#000" stroke-width="1.6"/>
<line x1="390.3" y1="546.8" x2="650.3" y2="546.8" stroke="#000" stroke-width="1.6"/>
<line x1="390.3" y1="334.7" x2="390.3" y2="547.6" stroke="#0000ff" stroke-width="1.6"/>
<line x1="650.3" y1="334.7" x2="650.3" y2="547.6" stroke="#ff00ff" stroke-width="1.6"/>
<line x1="390.3" y1="546.8" x2="390.3" y2="542.8" stroke="#000" stroke-width="1.3"/>
<text x="390.3" y="567.8" font-size="13.5" text-anchor="middle" font-weight="normal" fill="#000" font-family="'Liberation Serif', serif" stroke="#000" stroke-width="0.2" transform="matrix(1 0 0 1.1 0 -56.8)">300</text>
<line x1="416.3" y1="546.8" x2="416.3" y2="543.8" stroke="#000" stroke-width="1.3"/>
<line x1="442.3" y1="546.8" x2="442.3" y2="542.8" stroke="#000" stroke-width="1.3"/>
<text x="442.3" y="567.8" font-size="13.5" text-anchor="middle" font-weight="normal" fill="#000" font-family="'Liberation Serif', serif" stroke="#000" stroke-width="0.2" transform="matrix(1 0 0 1.1 0 -56.8)">450</text>
<line x1="468.3" y1="546.8" x2="468.3" y2="543.8" stroke="#000" stroke-width="1.3"/>
<line x1="494.3" y1="546.8" x2="494.3" y2="542.8" stroke="#000" stroke-width="1.3"/>
<text x="494.3" y="567.8" font-size="13.5" text-anchor="middle" font-weight="normal" fill="#000" font-family="'Liberation Serif', serif" stroke="#000" stroke-width="0.2" transform="matrix(1 0 0 1.1 0 -56.8)">600</text>
<line x1="520.3" y1="546.8" x2="520.3" y2="543.8" stroke="#000" stroke-width="1.3"/>
<line x1="546.3" y1="546.8" x2="546.3" y2="542.8" stroke="#000" stroke-width="1.3"/>
<text x="546.3" y="567.8" font-size="13.5" text-anchor="middle" font-weight="normal" fill="#000" font-family="'Liberation Serif', serif" stroke="#000" stroke-width="0.2" transform="matrix(1 0 0 1.1 0 -56.8)">750</text>
<line x1="572.3" y1="546.8" x2="572.3" y2="543.8" stroke="#000" stroke-width="1.3"/>
<line x1="598.3" y1="546.8" x2="598.3" y2="542.8" stroke="#000" stroke-width="1.3"/>
<text x="598.3" y="567.8" font-size="13.5" text-anchor="middle" font-weight="normal" fill="#000" font-family="'Liberation Serif', serif" stroke="#000" stroke-width="0.2" transform="matrix(1 0 0 1.1 0 -56.8)">900</text>
<line x1="624.3" y1="546.8" x2="624.3" y2="543.8" stroke="#000" stroke-width="1.3"/>
<line x1="650.3" y1="546.8" x2="650.3" y2="542.8" stroke="#000" stroke-width="1.3"/>
<text x="650.3" y="567.8" font-size="13.5" text-anchor="middle" font-weight="normal" fill="#000" font-family="'Liberation Serif', serif" stroke="#000" stroke-width="0.2" transform="matrix(1 0 0 1.1 0 -56.8)">1050</text>
<line x1="390.3" y1="546.8" x2="394.3" y2="546.8" stroke="#0000ff" stroke-width="1.3"/>
<text x="383.7" y="553" font-size="13.5" text-anchor="end" font-weight="bold" fill="#0000e0" font-family="'Liberation Serif', serif" transform="matrix(1 0 0 1.1 0 -55.3)">0</text>
<line x1="390.3" y1="531.7" x2="392.8" y2="531.7" stroke="#0000ff" stroke-width="1.3"/>
<line x1="390.3" y1="516.6" x2="394.3" y2="516.6" stroke="#0000ff" stroke-width="1.3"/>
<text x="383.7" y="522.8" font-size="13.5" text-anchor="end" font-weight="bold" fill="#0000e0" font-family="'Liberation Serif', serif" transform="matrix(1 0 0 1.1 0 -52.3)">2</text>
<line x1="390.3" y1="501.5" x2="392.8" y2="501.5" stroke="#0000ff" stroke-width="1.3"/>
<line x1="390.3" y1="486.4" x2="394.3" y2="486.4" stroke="#0000ff" stroke-width="1.3"/>
<text x="383.7" y="492.6" font-size="13.5" text-anchor="end" font-weight="bold" fill="#0000e0" font-family="'Liberation Serif', serif" transform="matrix(1 0 0 1.1 0 -49.3)">4</text>
<line x1="390.3" y1="471.3" x2="392.8" y2="471.3" stroke="#0000ff" stroke-width="1.3"/>
<line x1="390.3" y1="456.2" x2="394.3" y2="456.2" stroke="#0000ff" stroke-width="1.3"/>
<text x="383.7" y="462.4" font-size="13.5" text-anchor="end" font-weight="bold" fill="#0000e0" font-family="'Liberation Serif', serif" transform="matrix(1 0 0 1.1 0 -46.2)">6</text>
<line x1="390.3" y1="441.1" x2="392.8" y2="441.1" stroke="#0000ff" stroke-width="1.3"/>
<line x1="390.3" y1="426.1" x2="394.3" y2="426.1" stroke="#0000ff" stroke-width="1.3"/>
<text x="383.7" y="432.3" font-size="13.5" text-anchor="end" font-weight="bold" fill="#0000e0" font-family="'Liberation Serif', serif" transform="matrix(1 0 0 1.1 0 -43.2)">8</text>
<line x1="390.3" y1="411" x2="392.8" y2="411" stroke="#0000ff" stroke-width="1.3"/>
<line x1="390.3" y1="395.9" x2="394.3" y2="395.9" stroke="#0000ff" stroke-width="1.3"/>
<text x="383.7" y="402.1" font-size="13.5" text-anchor="end" font-weight="bold" fill="#0000e0" font-family="'Liberation Serif', serif" transform="matrix(1 0 0 1.1 0 -40.2)">10</text>
<line x1="390.3" y1="380.8" x2="392.8" y2="380.8" stroke="#0000ff" stroke-width="1.3"/>
<line x1="390.3" y1="365.7" x2="394.3" y2="365.7" stroke="#0000ff" stroke-width="1.3"/>
<text x="383.7" y="371.9" font-size="13.5" text-anchor="end" font-weight="bold" fill="#0000e0" font-family="'Liberation Serif', serif" transform="matrix(1 0 0 1.1 0 -37.2)">12</text>
<line x1="390.3" y1="350.6" x2="392.8" y2="350.6" stroke="#0000ff" stroke-width="1.3"/>
<line x1="390.3" y1="335.5" x2="394.3" y2="335.5" stroke="#0000ff" stroke-width="1.3"/>
<text x="383.7" y="341.7" font-size="13.5" text-anchor="end" font-weight="bold" fill="#0000e0" font-family="'Liberation Serif', serif" transform="matrix(1 0 0 1.1 0 -34.2)">14</text>
<line x1="650.3" y1="527.6" x2="646.3" y2="527.6" stroke="#ff00ff" stroke-width="1.3"/>
<text x="657.3" y="533.5" font-size="13.5" text-anchor="start" font-weight="normal" fill="#d200d2" font-family="'Liberation Serif', serif" stroke="#d200d2" stroke-width="0.2" transform="matrix(1 0 0 1.1 0 -53.3)">0</text>
<line x1="650.3" y1="508.4" x2="647.8" y2="508.4" stroke="#ff00ff" stroke-width="1.3"/>
<line x1="650.3" y1="489.2" x2="646.3" y2="489.2" stroke="#ff00ff" stroke-width="1.3"/>
<text x="657.3" y="495.1" font-size="13.5" text-anchor="start" font-weight="normal" fill="#d200d2" font-family="'Liberation Serif', serif" stroke="#d200d2" stroke-width="0.2" transform="matrix(1 0 0 1.1 0 -49.5)">1</text>
<line x1="650.3" y1="470" x2="647.8" y2="470" stroke="#ff00ff" stroke-width="1.3"/>
<line x1="650.3" y1="450.8" x2="646.3" y2="450.8" stroke="#ff00ff" stroke-width="1.3"/>
<text x="657.3" y="456.7" font-size="13.5" text-anchor="start" font-weight="normal" fill="#d200d2" font-family="'Liberation Serif', serif" stroke="#d200d2" stroke-width="0.2" transform="matrix(1 0 0 1.1 0 -45.7)">2</text>
<line x1="650.3" y1="431.5" x2="647.8" y2="431.5" stroke="#ff00ff" stroke-width="1.3"/>
<line x1="650.3" y1="412.3" x2="646.3" y2="412.3" stroke="#ff00ff" stroke-width="1.3"/>
<text x="657.3" y="418.2" font-size="13.5" text-anchor="start" font-weight="normal" fill="#d200d2" font-family="'Liberation Serif', serif" stroke="#d200d2" stroke-width="0.2" transform="matrix(1 0 0 1.1 0 -41.8)">3</text>
<line x1="650.3" y1="393.1" x2="647.8" y2="393.1" stroke="#ff00ff" stroke-width="1.3"/>
<line x1="650.3" y1="373.9" x2="646.3" y2="373.9" stroke="#ff00ff" stroke-width="1.3"/>
<text x="657.3" y="379.8" font-size="13.5" text-anchor="start" font-weight="normal" fill="#d200d2" font-family="'Liberation Serif', serif" stroke="#d200d2" stroke-width="0.2" transform="matrix(1 0 0 1.1 0 -38)">4</text>
<line x1="650.3" y1="354.7" x2="647.8" y2="354.7" stroke="#ff00ff" stroke-width="1.3"/>
<text x="657.3" y="341.4" font-size="13.5" text-anchor="start" font-weight="normal" fill="#d200d2" font-family="'Liberation Serif', serif" stroke="#d200d2" stroke-width="0.2" transform="matrix(1 0 0 1.1 0 -34.1)">5</text>
<text x="520.3" y="585" font-size="13.5" text-anchor="middle" font-weight="normal" fill="#000" font-family="'Liberation Serif', serif" stroke="#000" stroke-width="0.2" transform="matrix(1 0 0 1.1 0 -58.5)">Time/s</text>
<text x="363.3" y="441.1" font-size="13.7" text-anchor="middle" font-weight="normal" fill="#0000e6" font-family="'Liberation Serif', serif" stroke="#0000e6" stroke-width="0.2" transform="rotate(-90 363.3 441.1)">Proportion of tensile fractures/%</text>
<text x="681.3" y="448.3" font-size="13.8" text-anchor="middle" font-weight="normal" fill="#d200d2" font-family="'Liberation Serif', serif" stroke="#d200d2" stroke-width="0.2" transform="rotate(-90 681.3 448.3)">Proportion of shear fractures/%</text>
<line x1="526.6" y1="396.2" x2="526.6" y2="527.7" stroke="#222" stroke-width="1.3" stroke-dasharray="5,3"/>
<line x1="608" y1="411.2" x2="608" y2="488.5" stroke="#222" stroke-width="1.3" stroke-dasharray="5,3"/>
<polyline points="402.5,396.2 445.9,396.2 474,396.2 494.5,396.2 526.6,396.2 571.2,414.6 599.1,448.7 600.1,414.8 608,411.2 615.6,414.8" fill="none" stroke="#000" stroke-width="1.3" stroke-linejoin="round"/>
<polyline points="402.7,527.7 445.7,527.7 474,527.7 494.8,527.7 526.7,527.7 571.2,480.2 598.8,391.6 599.9,480.2 608,488.5 615.6,479" fill="none" stroke="#000" stroke-width="1.3" stroke-linejoin="round"/>
<circle cx="402.5" cy="396.2" r="3.3" fill="url(#ballb)"/>
<circle cx="445.9" cy="396.2" r="3.3" fill="url(#ballb)"/>
<circle cx="474" cy="396.2" r="3.3" fill="url(#ballb)"/>
<circle cx="494.5" cy="396.2" r="3.3" fill="url(#ballb)"/>
<circle cx="526.6" cy="396.2" r="3.3" fill="url(#ballb)"/>
<circle cx="571.2" cy="414.6" r="3.3" fill="url(#ballb)"/>
<circle cx="599.1" cy="448.7" r="3.3" fill="url(#ballb)"/>
<circle cx="600.1" cy="414.8" r="3.3" fill="url(#ballb)"/>
<circle cx="608" cy="411.2" r="3.3" fill="url(#ballb)"/>
<circle cx="615.6" cy="414.8" r="3.3" fill="url(#ballb)"/>
<circle cx="402.7" cy="527.7" r="3.3" fill="url(#ballm)"/>
<circle cx="445.7" cy="527.7" r="3.3" fill="url(#ballm)"/>
<circle cx="474" cy="527.7" r="3.3" fill="url(#ballm)"/>
<circle cx="494.8" cy="527.7" r="3.3" fill="url(#ballm)"/>
<circle cx="526.7" cy="527.7" r="3.3" fill="url(#ballm)"/>
<circle cx="571.2" cy="480.2" r="3.3" fill="url(#ballm)"/>
<circle cx="598.8" cy="391.6" r="3.3" fill="url(#ballm)"/>
<circle cx="599.9" cy="480.2" r="3.3" fill="url(#ballm)"/>
<circle cx="608" cy="488.5" r="3.3" fill="url(#ballm)"/>
<circle cx="615.6" cy="479" r="3.3" fill="url(#ballm)"/>
<line x1="398.3" y1="348.5" x2="423.8" y2="348.5" stroke="#000" stroke-width="1.4"/>
<circle cx="410.8" cy="348.5" r="3.3" fill="url(#ballb)"/>
<text x="426.3" y="352.3" font-size="11" text-anchor="start" font-weight="normal" fill="#000" font-family="'Liberation Serif', serif" stroke="#000" stroke-width="0.35" transform="matrix(1 0 0 1.1 0 -35.2)">Tensile fractures</text>
<line x1="398.3" y1="361.9" x2="423.8" y2="361.9" stroke="#000" stroke-width="1.4"/>
<circle cx="410.8" cy="361.9" r="3.3" fill="url(#ballm)"/>
<text x="426.3" y="365.7" font-size="11" text-anchor="start" font-weight="normal" fill="#000" font-family="'Liberation Serif', serif" stroke="#000" stroke-width="0.35" transform="matrix(1 0 0 1.1 0 -36.6)">Shear fractures</text>
<text x="455.3" y="451" font-size="16" text-anchor="middle" font-weight="normal" fill="#000" font-family="'Liberation Serif', serif" stroke="#000" stroke-width="0.2" transform="matrix(1 0 0 1.1 0 -45.1)">I</text>
<text x="554.5" y="451" font-size="16" text-anchor="middle" font-weight="normal" fill="#000" font-family="'Liberation Serif', serif" stroke="#000" stroke-width="0.2" transform="matrix(1 0 0 1.1 0 -45.1)">II</text>
<text x="617" y="449.6" font-size="11.5" text-anchor="middle" font-weight="normal" fill="#000" font-family="'Liberation Serif', serif" stroke="#000" stroke-width="0.2" transform="matrix(1 0 0 1.1 0 -45)">III</text>
<g stroke="#d0d0d0" stroke-width="0.8" stroke-dasharray="3,3"><line x1="422.8" y1="666" x2="422.8" y2="876.6"/><line x1="487.9" y1="666" x2="487.9" y2="876.6"/><line x1="553.1" y1="666" x2="553.1" y2="876.6"/><line x1="618.2" y1="666" x2="618.2" y2="876.6"/><line x1="390.2" y1="838.3" x2="650.8" y2="838.3"/><line x1="390.2" y1="800" x2="650.8" y2="800"/><line x1="390.2" y1="761.7" x2="650.8" y2="761.7"/><line x1="390.2" y1="723.4" x2="650.8" y2="723.4"/><line x1="390.2" y1="685.1" x2="650.8" y2="685.1"/></g>
<line x1="390.2" y1="666" x2="650.8" y2="666" stroke="#000" stroke-width="1.6"/>
<line x1="390.2" y1="876.6" x2="650.8" y2="876.6" stroke="#000" stroke-width="1.6"/>
<line x1="390.2" y1="665.2" x2="390.2" y2="877.4" stroke="#0000ff" stroke-width="1.6"/>
<line x1="650.8" y1="665.2" x2="650.8" y2="877.4" stroke="#ff00ff" stroke-width="1.6"/>
<line x1="390.2" y1="876.6" x2="390.2" y2="872.6" stroke="#000" stroke-width="1.3"/>
<text x="390.2" y="898" font-size="13.5" text-anchor="middle" font-weight="normal" fill="#000" font-family="'Liberation Serif', serif" stroke="#000" stroke-width="0.2" transform="matrix(1 0 0 1.1 0 -89.8)">150</text>
<line x1="422.8" y1="876.6" x2="422.8" y2="873.6" stroke="#000" stroke-width="1.3"/>
<line x1="455.3" y1="876.6" x2="455.3" y2="872.6" stroke="#000" stroke-width="1.3"/>
<text x="455.3" y="898" font-size="13.5" text-anchor="middle" font-weight="normal" fill="#000" font-family="'Liberation Serif', serif" stroke="#000" stroke-width="0.2" transform="matrix(1 0 0 1.1 0 -89.8)">300</text>
<line x1="487.9" y1="876.6" x2="487.9" y2="873.6" stroke="#000" stroke-width="1.3"/>
<line x1="520.5" y1="876.6" x2="520.5" y2="872.6" stroke="#000" stroke-width="1.3"/>
<text x="520.5" y="898" font-size="13.5" text-anchor="middle" font-weight="normal" fill="#000" font-family="'Liberation Serif', serif" stroke="#000" stroke-width="0.2" transform="matrix(1 0 0 1.1 0 -89.8)">450</text>
<line x1="553.1" y1="876.6" x2="553.1" y2="873.6" stroke="#000" stroke-width="1.3"/>
<line x1="585.6" y1="876.6" x2="585.6" y2="872.6" stroke="#000" stroke-width="1.3"/>
<text x="585.6" y="898" font-size="13.5" text-anchor="middle" font-weight="normal" fill="#000" font-family="'Liberation Serif', serif" stroke="#000" stroke-width="0.2" transform="matrix(1 0 0 1.1 0 -89.8)">600</text>
<line x1="618.2" y1="876.6" x2="618.2" y2="873.6" stroke="#000" stroke-width="1.3"/>
<line x1="650.8" y1="876.6" x2="650.8" y2="872.6" stroke="#000" stroke-width="1.3"/>
<text x="650.8" y="898" font-size="13.5" text-anchor="middle" font-weight="normal" fill="#000" font-family="'Liberation Serif', serif" stroke="#000" stroke-width="0.2" transform="matrix(1 0 0 1.1 0 -89.8)">750</text>
<line x1="390.2" y1="876.6" x2="394.2" y2="876.6" stroke="#0000ff" stroke-width="1.3"/>
<text x="383.6" y="882.8" font-size="13.5" text-anchor="end" font-weight="bold" fill="#0000e0" font-family="'Liberation Serif', serif" transform="matrix(1 0 0 1.1 0 -88.3)">0</text>
<line x1="390.2" y1="859.1" x2="392.7" y2="859.1" stroke="#0000ff" stroke-width="1.3"/>
<line x1="390.2" y1="841.5" x2="394.2" y2="841.5" stroke="#0000ff" stroke-width="1.3"/>
<text x="383.6" y="847.7" font-size="13.5" text-anchor="end" font-weight="bold" fill="#0000e0" font-family="'Liberation Serif', serif" transform="matrix(1 0 0 1.1 0 -84.8)">2</text>
<line x1="390.2" y1="824" x2="392.7" y2="824" stroke="#0000ff" stroke-width="1.3"/>
<line x1="390.2" y1="806.4" x2="394.2" y2="806.4" stroke="#0000ff" stroke-width="1.3"/>
<text x="383.6" y="812.6" font-size="13.5" text-anchor="end" font-weight="bold" fill="#0000e0" font-family="'Liberation Serif', serif" transform="matrix(1 0 0 1.1 0 -81.3)">4</text>
<line x1="390.2" y1="788.9" x2="392.7" y2="788.9" stroke="#0000ff" stroke-width="1.3"/>
<line x1="390.2" y1="771.3" x2="394.2" y2="771.3" stroke="#0000ff" stroke-width="1.3"/>
<text x="383.6" y="777.5" font-size="13.5" text-anchor="end" font-weight="bold" fill="#0000e0" font-family="'Liberation Serif', serif" transform="matrix(1 0 0 1.1 0 -77.8)">6</text>
<line x1="390.2" y1="753.8" x2="392.7" y2="753.8" stroke="#0000ff" stroke-width="1.3"/>
<line x1="390.2" y1="736.2" x2="394.2" y2="736.2" stroke="#0000ff" stroke-width="1.3"/>
<text x="383.6" y="742.4" font-size="13.5" text-anchor="end" font-weight="bold" fill="#0000e0" font-family="'Liberation Serif', serif" transform="matrix(1 0 0 1.1 0 -74.2)">8</text>
<line x1="390.2" y1="718.6" x2="392.7" y2="718.6" stroke="#0000ff" stroke-width="1.3"/>
<line x1="390.2" y1="701.1" x2="394.2" y2="701.1" stroke="#0000ff" stroke-width="1.3"/>
<text x="383.6" y="707.3" font-size="13.5" text-anchor="end" font-weight="bold" fill="#0000e0" font-family="'Liberation Serif', serif" transform="matrix(1 0 0 1.1 0 -70.7)">10</text>
<line x1="390.2" y1="683.5" x2="392.7" y2="683.5" stroke="#0000ff" stroke-width="1.3"/>
<line x1="390.2" y1="666" x2="394.2" y2="666" stroke="#0000ff" stroke-width="1.3"/>
<text x="383.6" y="672.2" font-size="13.5" text-anchor="end" font-weight="bold" fill="#0000e0" font-family="'Liberation Serif', serif" transform="matrix(1 0 0 1.1 0 -67.2)">12</text>
<line x1="650.8" y1="857.5" x2="646.8" y2="857.5" stroke="#ff00ff" stroke-width="1.3"/>
<text x="657.8" y="863.4" font-size="13.5" text-anchor="start" font-weight="normal" fill="#d200d2" font-family="'Liberation Serif', serif" stroke="#d200d2" stroke-width="0.2" transform="matrix(1 0 0 1.1 0 -86.3)">0</text>
<line x1="650.8" y1="838.3" x2="648.3" y2="838.3" stroke="#ff00ff" stroke-width="1.3"/>
<line x1="650.8" y1="819.2" x2="646.8" y2="819.2" stroke="#ff00ff" stroke-width="1.3"/>
<text x="657.8" y="825.1" font-size="13.5" text-anchor="start" font-weight="normal" fill="#d200d2" font-family="'Liberation Serif', serif" stroke="#d200d2" stroke-width="0.2" transform="matrix(1 0 0 1.1 0 -82.5)">1</text>
<line x1="650.8" y1="800" x2="648.3" y2="800" stroke="#ff00ff" stroke-width="1.3"/>
<line x1="650.8" y1="780.9" x2="646.8" y2="780.9" stroke="#ff00ff" stroke-width="1.3"/>
<text x="657.8" y="786.8" font-size="13.5" text-anchor="start" font-weight="normal" fill="#d200d2" font-family="'Liberation Serif', serif" stroke="#d200d2" stroke-width="0.2" transform="matrix(1 0 0 1.1 0 -78.7)">2</text>
<line x1="650.8" y1="761.7" x2="648.3" y2="761.7" stroke="#ff00ff" stroke-width="1.3"/>
<line x1="650.8" y1="742.6" x2="646.8" y2="742.6" stroke="#ff00ff" stroke-width="1.3"/>
<text x="657.8" y="748.5" font-size="13.5" text-anchor="start" font-weight="normal" fill="#d200d2" font-family="'Liberation Serif', serif" stroke="#d200d2" stroke-width="0.2" transform="matrix(1 0 0 1.1 0 -74.8)">3</text>
<line x1="650.8" y1="723.4" x2="648.3" y2="723.4" stroke="#ff00ff" stroke-width="1.3"/>
<line x1="650.8" y1="704.3" x2="646.8" y2="704.3" stroke="#ff00ff" stroke-width="1.3"/>
<text x="657.8" y="710.2" font-size="13.5" text-anchor="start" font-weight="normal" fill="#d200d2" font-family="'Liberation Serif', serif" stroke="#d200d2" stroke-width="0.2" transform="matrix(1 0 0 1.1 0 -71)">4</text>
<line x1="650.8" y1="685.1" x2="648.3" y2="685.1" stroke="#ff00ff" stroke-width="1.3"/>
<text x="657.8" y="671.9" font-size="13.5" text-anchor="start" font-weight="normal" fill="#d200d2" font-family="'Liberation Serif', serif" stroke="#d200d2" stroke-width="0.2" transform="matrix(1 0 0 1.1 0 -67.2)">5</text>
<text x="520.2" y="915" font-size="13.5" text-anchor="middle" font-weight="normal" fill="#000" font-family="'Liberation Serif', serif" stroke="#000" stroke-width="0.2" transform="matrix(1 0 0 1.1 0 -91.5)">Time/s</text>
<text x="363.2" y="771.3" font-size="13.7" text-anchor="middle" font-weight="normal" fill="#0000e6" font-family="'Liberation Serif', serif" stroke="#0000e6" stroke-width="0.2" transform="rotate(-90 363.2 771.3)">Proportion of tensile fractures/%</text>
<text x="681.8" y="778.5" font-size="13.8" text-anchor="middle" font-weight="normal" fill="#d200d2" font-family="'Liberation Serif', serif" stroke="#d200d2" stroke-width="0.2" transform="rotate(-90 681.8 778.5)">Proportion of shear fractures/%</text>
<line x1="450.1" y1="715.4" x2="450.1" y2="826.6" stroke="#222" stroke-width="1.3" stroke-dasharray="5,3"/>
<line x1="601" y1="695.2" x2="601" y2="774.1" stroke="#222" stroke-width="1.3" stroke-dasharray="5,3"/>
<polyline points="398.4,748.4 450.1,715.4 483.6,725.6 517.2,742 544.4,738.8 571.2,738.2 601,774.1 626.2,767 629,761.9 633.3,765.4" fill="none" stroke="#000" stroke-width="1.3" stroke-linejoin="round"/>
<polyline points="398.4,756.6 450.1,826.6 483.6,804.7 517.2,770.9 544.4,775.3 571.2,776.4 601,695.2 626.2,710.4 628.6,725.4 633.3,719.8" fill="none" stroke="#000" stroke-width="1.3" stroke-linejoin="round"/>
<circle cx="398.4" cy="748.4" r="3.3" fill="url(#ballb)"/>
<circle cx="450.1" cy="715.4" r="3.3" fill="url(#ballb)"/>
<circle cx="483.6" cy="725.6" r="3.3" fill="url(#ballb)"/>
<circle cx="517.2" cy="742" r="3.3" fill="url(#ballb)"/>
<circle cx="544.4" cy="738.8" r="3.3" fill="url(#ballb)"/>
<circle cx="571.2" cy="738.2" r="3.3" fill="url(#ballb)"/>
<circle cx="601" cy="774.1" r="3.3" fill="url(#ballb)"/>
<circle cx="626.2" cy="767" r="3.3" fill="url(#ballb)"/>
<circle cx="629" cy="761.9" r="3.3" fill="url(#ballb)"/>
<circle cx="633.3" cy="765.4" r="3.3" fill="url(#ballb)"/>
<circle cx="398.4" cy="756.6" r="3.3" fill="url(#ballm)"/>
<circle cx="450.1" cy="826.6" r="3.3" fill="url(#ballm)"/>
<circle cx="483.6" cy="804.7" r="3.3" fill="url(#ballm)"/>
<circle cx="517.2" cy="770.9" r="3.3" fill="url(#ballm)"/>
<circle cx="544.4" cy="775.3" r="3.3" fill="url(#ballm)"/>
<circle cx="571.2" cy="776.4" r="3.3" fill="url(#ballm)"/>
<circle cx="601" cy="695.2" r="3.3" fill="url(#ballm)"/>
<circle cx="626.2" cy="710.4" r="3.3" fill="url(#ballm)"/>
<circle cx="628.6" cy="725.4" r="3.3" fill="url(#ballm)"/>
<circle cx="633.3" cy="719.8" r="3.3" fill="url(#ballm)"/>
<line x1="398.2" y1="678.7" x2="423.7" y2="678.7" stroke="#000" stroke-width="1.4"/>
<circle cx="410.7" cy="678.7" r="3.3" fill="url(#ballb)"/>
<text x="426.2" y="682.5" font-size="11" text-anchor="start" font-weight="normal" fill="#000" font-family="'Liberation Serif', serif" stroke="#000" stroke-width="0.35" transform="matrix(1 0 0 1.1 0 -68.3)">Tensile fractures</text>
<line x1="398.2" y1="692.5" x2="423.7" y2="692.5" stroke="#000" stroke-width="1.4"/>
<circle cx="410.7" cy="692.5" r="3.3" fill="url(#ballm)"/>
<text x="426.2" y="696.3" font-size="11" text-anchor="start" font-weight="normal" fill="#000" font-family="'Liberation Serif', serif" stroke="#000" stroke-width="0.35" transform="matrix(1 0 0 1.1 0 -69.6)">Shear fractures</text>
<text x="429" y="764.6" font-size="16" text-anchor="middle" font-weight="normal" fill="#000" font-family="'Liberation Serif', serif" stroke="#000" stroke-width="0.2" transform="matrix(1 0 0 1.1 0 -76.5)">I</text>
<text x="517.8" y="764.6" font-size="16" text-anchor="middle" font-weight="normal" fill="#000" font-family="'Liberation Serif', serif" stroke="#000" stroke-width="0.2" transform="matrix(1 0 0 1.1 0 -76.5)">II</text>
<text x="618.5" y="751.8" font-size="14" text-anchor="middle" font-weight="normal" fill="#000" font-family="'Liberation Serif', serif" stroke="#000" stroke-width="0.2" transform="matrix(1 0 0 1.1 0 -75.2)">III</text>
<text x="303.9" y="316.1" font-size="16.5" text-anchor="middle" font-weight="normal" font-style="normal" font-family="'Liberation Sans', sans-serif" fill="#000" stroke="#000" stroke-width="0.7">(</text>
<text x="312.4" y="318.3" font-size="16" text-anchor="middle" font-weight="bold" font-style="normal" font-family="'Liberation Sans', sans-serif" fill="#000">a</text>
<text x="323" y="316.1" font-size="16.5" text-anchor="middle" font-weight="normal" font-style="normal" font-family="'Liberation Sans', sans-serif" fill="#000" stroke="#000" stroke-width="0.7">)</text>
<text x="337.7" y="318.7" font-size="19.5" text-anchor="middle" font-weight="normal" font-style="italic" font-family="'Liberation Serif', serif" fill="#000" stroke="#000" stroke-width="0.35">θ</text>
<text x="350.9" y="319.9" font-size="21" text-anchor="middle" font-weight="normal" font-style="normal" font-family="'Liberation Sans', sans-serif" fill="#000">=</text>
<text x="366.5" y="318.3" font-size="17" text-anchor="middle" font-weight="normal" font-style="normal" font-family="'Liberation Sans', sans-serif" fill="#000" stroke="#000" stroke-width="0.4">0</text>
<text x="375.5" y="318.1" font-size="18" text-anchor="middle" font-weight="normal" font-style="normal" font-family="'Liberation Sans', sans-serif" fill="#000" stroke="#000" stroke-width="0.35">°</text>
<text x="299.2" y="646.1" font-size="16.5" text-anchor="middle" font-weight="normal" font-style="normal" font-family="'Liberation Sans', sans-serif" fill="#000" stroke="#000" stroke-width="0.7">(</text>
<text x="307.9" y="648.3" font-size="16" text-anchor="middle" font-weight="bold" font-style="normal" font-family="'Liberation Sans', sans-serif" fill="#000">b</text>
<text x="318.9" y="646.1" font-size="16.5" text-anchor="middle" font-weight="normal" font-style="normal" font-family="'Liberation Sans', sans-serif" fill="#000" stroke="#000" stroke-width="0.7">)</text>
<text x="333.8" y="648.7" font-size="19.5" text-anchor="middle" font-weight="normal" font-style="italic" font-family="'Liberation Serif', serif" fill="#000" stroke="#000" stroke-width="0.35">θ</text>
<text x="345.5" y="649.9" font-size="21" text-anchor="middle" font-weight="normal" font-style="normal" font-family="'Liberation Sans', sans-serif" fill="#000">=</text>
<text x="365.9" y="648.3" font-size="17" text-anchor="middle" font-weight="bold" font-style="normal" font-family="'Liberation Sans', sans-serif" fill="#000">30</text>
<text x="380.1" y="648.1" font-size="18" text-anchor="middle" font-weight="normal" font-style="normal" font-family="'Liberation Sans', sans-serif" fill="#000" stroke="#000" stroke-width="0.35">°</text>
<text x="299.9" y="976.2" font-size="16.5" text-anchor="middle" font-weight="normal" font-style="normal" font-family="'Liberation Sans', sans-serif" fill="#000" stroke="#000" stroke-width="0.7">(</text>
<text x="308.3" y="978.4" font-size="16" text-anchor="middle" font-weight="bold" font-style="normal" font-family="'Liberation Sans', sans-serif" fill="#000">c</text>
<text x="317.7" y="976.2" font-size="16.5" text-anchor="middle" font-weight="normal" font-style="normal" font-family="'Liberation Sans', sans-serif" fill="#000" stroke="#000" stroke-width="0.7">)</text>
<text x="333.1" y="978.8" font-size="19.5" text-anchor="middle" font-weight="normal" font-style="italic" font-family="'Liberation Serif', serif" fill="#000" stroke="#000" stroke-width="0.35">θ</text>
<text x="344.8" y="980" font-size="21" text-anchor="middle" font-weight="normal" font-style="normal" font-family="'Liberation Sans', sans-serif" fill="#000">=</text>
<text x="365.6" y="978.4" font-size="17" text-anchor="middle" font-weight="bold" font-style="normal" font-family="'Liberation Sans', sans-serif" fill="#000">45</text>
<text x="380.2" y="978.2" font-size="18" text-anchor="middle" font-weight="normal" font-style="normal" font-family="'Liberation Sans', sans-serif" fill="#000" stroke="#000" stroke-width="0.35">°</text>
</svg></body></html>
